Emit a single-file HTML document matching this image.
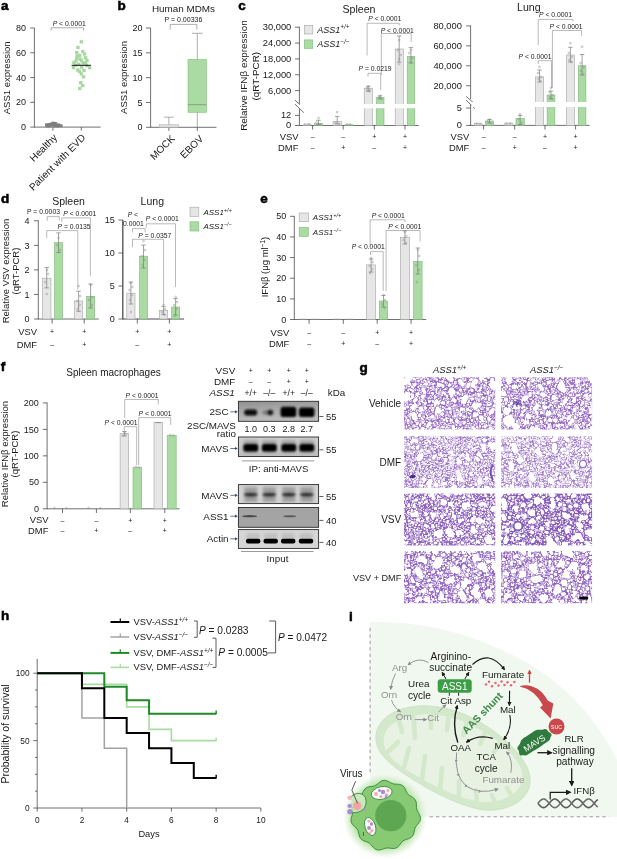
<!DOCTYPE html>
<html><head><meta charset="utf-8"><style>
html,body{margin:0;padding:0;background:#fff;}
svg{display:block;font-family:"Liberation Sans", Arial, sans-serif;}
</style></head><body>
<svg width="617" height="859" viewBox="0 0 617 859">
<rect width="617" height="859" fill="#fff"/>
<text x="1.0" y="9.7" font-size="13.5" font-weight="bold" fill="#000" stroke="#000" stroke-width="0.55">a</text>
<line x1="34.4" y1="27.8" x2="34.4" y2="127.6" stroke="#4d4d4d" stroke-width="0.8" />
<line x1="30.2" y1="127.1" x2="34.4" y2="127.1" stroke="#4d4d4d" stroke-width="0.8" />
<text x="26" y="130.25" font-size="9" text-anchor="end" font-weight="normal" font-style="normal" fill="#1a1a1a" >0</text>
<line x1="30.2" y1="102.32" x2="34.4" y2="102.32" stroke="#4d4d4d" stroke-width="0.8" />
<text x="26" y="105.47" font-size="9" text-anchor="end" font-weight="normal" font-style="normal" fill="#1a1a1a" >20</text>
<line x1="30.2" y1="77.55" x2="34.4" y2="77.55" stroke="#4d4d4d" stroke-width="0.8" />
<text x="26" y="80.7" font-size="9" text-anchor="end" font-weight="normal" font-style="normal" fill="#1a1a1a" >40</text>
<line x1="30.2" y1="52.77" x2="34.4" y2="52.77" stroke="#4d4d4d" stroke-width="0.8" />
<text x="26" y="55.92" font-size="9" text-anchor="end" font-weight="normal" font-style="normal" fill="#1a1a1a" >60</text>
<line x1="30.2" y1="28" x2="34.4" y2="28" stroke="#4d4d4d" stroke-width="0.8" />
<text x="26" y="31.15" font-size="9" text-anchor="end" font-weight="normal" font-style="normal" fill="#1a1a1a" >80</text>
<line x1="34.4" y1="127.1" x2="100.7" y2="127.1" stroke="#4d4d4d" stroke-width="0.8" />
<line x1="52.9" y1="127.1" x2="52.9" y2="130.6" stroke="#4d4d4d" stroke-width="0.8" />
<line x1="81.3" y1="127.1" x2="81.3" y2="130.6" stroke="#4d4d4d" stroke-width="0.8" />
<text transform="translate(6.2,77.8) rotate(-90)" x="0" y="3.32" font-size="9.5" text-anchor="middle" font-weight="normal" font-style="normal" fill="#1a1a1a" >ASS1 expression</text>
<text transform="translate(57.8,138.2) rotate(-45)" font-size="10" text-anchor="end" fill="#1a1a1a">Healthy</text>
<text transform="translate(86.2,138.2) rotate(-45)" font-size="10" text-anchor="end" fill="#1a1a1a">Patient with EVD</text>
<rect x="51.87" y="122.75" width="2.6" height="2.6" fill="#7e7e7e" stroke="none" stroke-width="0.6" />
<rect x="53.65" y="122.32" width="2.6" height="2.6" fill="#7e7e7e" stroke="none" stroke-width="0.6" />
<rect x="55.59" y="124.69" width="2.6" height="2.6" fill="#7e7e7e" stroke="none" stroke-width="0.6" />
<rect x="53.43" y="124.28" width="2.6" height="2.6" fill="#7e7e7e" stroke="none" stroke-width="0.6" />
<rect x="51.98" y="123.27" width="2.6" height="2.6" fill="#7e7e7e" stroke="none" stroke-width="0.6" />
<rect x="48.74" y="122.9" width="2.6" height="2.6" fill="#7e7e7e" stroke="none" stroke-width="0.6" />
<rect x="52.63" y="122.28" width="2.6" height="2.6" fill="#7e7e7e" stroke="none" stroke-width="0.6" />
<rect x="53.46" y="124.67" width="2.6" height="2.6" fill="#7e7e7e" stroke="none" stroke-width="0.6" />
<rect x="55.32" y="124.38" width="2.6" height="2.6" fill="#7e7e7e" stroke="none" stroke-width="0.6" />
<rect x="45" y="123.51" width="2.6" height="2.6" fill="#7e7e7e" stroke="none" stroke-width="0.6" />
<rect x="49.53" y="124.1" width="2.6" height="2.6" fill="#7e7e7e" stroke="none" stroke-width="0.6" />
<rect x="57.19" y="124.6" width="2.6" height="2.6" fill="#7e7e7e" stroke="none" stroke-width="0.6" />
<rect x="53" y="123.63" width="2.6" height="2.6" fill="#7e7e7e" stroke="none" stroke-width="0.6" />
<rect x="50.48" y="123.83" width="2.6" height="2.6" fill="#7e7e7e" stroke="none" stroke-width="0.6" />
<rect x="49.07" y="123.39" width="2.6" height="2.6" fill="#7e7e7e" stroke="none" stroke-width="0.6" />
<rect x="51.6" y="121.65" width="2.6" height="2.6" fill="#7e7e7e" stroke="none" stroke-width="0.6" />
<rect x="59.41" y="124.25" width="2.6" height="2.6" fill="#7e7e7e" stroke="none" stroke-width="0.6" />
<rect x="48.34" y="123.04" width="2.6" height="2.6" fill="#7e7e7e" stroke="none" stroke-width="0.6" />
<rect x="56.3" y="124.63" width="2.6" height="2.6" fill="#7e7e7e" stroke="none" stroke-width="0.6" />
<rect x="48.73" y="124.48" width="2.6" height="2.6" fill="#7e7e7e" stroke="none" stroke-width="0.6" />
<rect x="47.36" y="123.94" width="2.6" height="2.6" fill="#7e7e7e" stroke="none" stroke-width="0.6" />
<rect x="51.47" y="122.89" width="2.6" height="2.6" fill="#7e7e7e" stroke="none" stroke-width="0.6" />
<rect x="53.6" y="124.32" width="2.6" height="2.6" fill="#7e7e7e" stroke="none" stroke-width="0.6" />
<rect x="54.74" y="122.27" width="2.6" height="2.6" fill="#7e7e7e" stroke="none" stroke-width="0.6" />
<rect x="57.35" y="123.45" width="2.6" height="2.6" fill="#7e7e7e" stroke="none" stroke-width="0.6" />
<rect x="53.39" y="123.45" width="2.6" height="2.6" fill="#7e7e7e" stroke="none" stroke-width="0.6" />
<rect x="47.91" y="124.89" width="2.6" height="2.6" fill="#7e7e7e" stroke="none" stroke-width="0.6" />
<rect x="52.39" y="122.16" width="2.6" height="2.6" fill="#7e7e7e" stroke="none" stroke-width="0.6" />
<rect x="49.29" y="123.83" width="2.6" height="2.6" fill="#7e7e7e" stroke="none" stroke-width="0.6" />
<rect x="53.17" y="122.59" width="2.6" height="2.6" fill="#7e7e7e" stroke="none" stroke-width="0.6" />
<rect x="47.4" y="123.27" width="2.6" height="2.6" fill="#7e7e7e" stroke="none" stroke-width="0.6" />
<rect x="57.18" y="123.99" width="2.6" height="2.6" fill="#7e7e7e" stroke="none" stroke-width="0.6" />
<rect x="53.3" y="121.94" width="2.6" height="2.6" fill="#7e7e7e" stroke="none" stroke-width="0.6" />
<rect x="50.6" y="122.36" width="2.6" height="2.6" fill="#7e7e7e" stroke="none" stroke-width="0.6" />
<rect x="52.25" y="122.27" width="2.6" height="2.6" fill="#7e7e7e" stroke="none" stroke-width="0.6" />
<rect x="45.92" y="123.57" width="2.6" height="2.6" fill="#7e7e7e" stroke="none" stroke-width="0.6" />
<rect x="53.75" y="122" width="2.6" height="2.6" fill="#7e7e7e" stroke="none" stroke-width="0.6" />
<rect x="55.88" y="124.16" width="2.6" height="2.6" fill="#7e7e7e" stroke="none" stroke-width="0.6" />
<rect x="59.99" y="124.56" width="2.6" height="2.6" fill="#7e7e7e" stroke="none" stroke-width="0.6" />
<rect x="45.34" y="124.83" width="2.6" height="2.6" fill="#7e7e7e" stroke="none" stroke-width="0.6" />
<rect x="79.65" y="40.15" width="3.3" height="3.3" fill="#a6d8a0" stroke="none" stroke-width="0.6" />
<rect x="75.15" y="50.85" width="3.3" height="3.3" fill="#a6d8a0" stroke="none" stroke-width="0.6" />
<rect x="81.05" y="49.85" width="3.3" height="3.3" fill="#a6d8a0" stroke="none" stroke-width="0.6" />
<rect x="78.05" y="53.75" width="3.3" height="3.3" fill="#a6d8a0" stroke="none" stroke-width="0.6" />
<rect x="83.95" y="56.15" width="3.3" height="3.3" fill="#a6d8a0" stroke="none" stroke-width="0.6" />
<rect x="75.15" y="56.65" width="3.3" height="3.3" fill="#a6d8a0" stroke="none" stroke-width="0.6" />
<rect x="79.65" y="58.65" width="3.3" height="3.3" fill="#a6d8a0" stroke="none" stroke-width="0.6" />
<rect x="72.25" y="60.95" width="3.3" height="3.3" fill="#a6d8a0" stroke="none" stroke-width="0.6" />
<rect x="83.95" y="61.55" width="3.3" height="3.3" fill="#a6d8a0" stroke="none" stroke-width="0.6" />
<rect x="77.15" y="62.55" width="3.3" height="3.3" fill="#a6d8a0" stroke="none" stroke-width="0.6" />
<rect x="87.85" y="66.05" width="3.3" height="3.3" fill="#a6d8a0" stroke="none" stroke-width="0.6" />
<rect x="71.85" y="66.05" width="3.3" height="3.3" fill="#a6d8a0" stroke="none" stroke-width="0.6" />
<rect x="80.05" y="65.45" width="3.3" height="3.3" fill="#a6d8a0" stroke="none" stroke-width="0.6" />
<rect x="76.15" y="68.35" width="3.3" height="3.3" fill="#a6d8a0" stroke="none" stroke-width="0.6" />
<rect x="79.65" y="72.25" width="3.3" height="3.3" fill="#a6d8a0" stroke="none" stroke-width="0.6" />
<rect x="81.95" y="75.15" width="3.3" height="3.3" fill="#a6d8a0" stroke="none" stroke-width="0.6" />
<rect x="79.05" y="81.05" width="3.3" height="3.3" fill="#a6d8a0" stroke="none" stroke-width="0.6" />
<rect x="81.05" y="83.95" width="3.3" height="3.3" fill="#a6d8a0" stroke="none" stroke-width="0.6" />
<rect x="78.05" y="86.85" width="3.3" height="3.3" fill="#a6d8a0" stroke="none" stroke-width="0.6" />
<rect x="84.85" y="63.85" width="3.3" height="3.3" fill="#a6d8a0" stroke="none" stroke-width="0.6" />
<rect x="73.85" y="63.55" width="3.3" height="3.3" fill="#a6d8a0" stroke="none" stroke-width="0.6" />
<rect x="82.35" y="68.85" width="3.3" height="3.3" fill="#a6d8a0" stroke="none" stroke-width="0.6" />
<rect x="78.35" y="57.35" width="3.3" height="3.3" fill="#a6d8a0" stroke="none" stroke-width="0.6" />
<rect x="76.35" y="45.85" width="3.3" height="3.3" fill="#a6d8a0" stroke="none" stroke-width="0.6" />
<rect x="82.85" y="52.35" width="3.3" height="3.3" fill="#a6d8a0" stroke="none" stroke-width="0.6" />
<rect x="74.35" y="59.35" width="3.3" height="3.3" fill="#a6d8a0" stroke="none" stroke-width="0.6" />
<rect x="85.35" y="58.85" width="3.3" height="3.3" fill="#a6d8a0" stroke="none" stroke-width="0.6" />
<rect x="77.85" y="69.85" width="3.3" height="3.3" fill="#a6d8a0" stroke="none" stroke-width="0.6" />
<rect x="81.35" y="61.35" width="3.3" height="3.3" fill="#a6d8a0" stroke="none" stroke-width="0.6" />
<rect x="75.35" y="54.35" width="3.3" height="3.3" fill="#a6d8a0" stroke="none" stroke-width="0.6" />
<line x1="71.6" y1="65.3" x2="91" y2="65.3" stroke="#111" stroke-width="1" />
<polyline points="51.2,30.6 51.2,27.8 83.6,27.8 83.6,30.6" stroke="#8c8c8c" stroke-width="0.7" fill="none" />
<text x="69.2" y="25.78" font-size="6.8" text-anchor="middle" font-weight="normal" font-style="normal" fill="#1a1a1a" ><tspan font-style="italic">P</tspan> &lt; 0.0001</text>
<text x="117.4" y="10" font-size="13.5" font-weight="bold" fill="#000" stroke="#000" stroke-width="0.55">b</text>
<text x="183.5" y="12.06" font-size="9.9" text-anchor="middle" font-weight="normal" font-style="normal" fill="#1a1a1a" >Human MDMs</text>
<line x1="150.6" y1="28" x2="150.6" y2="127.6" stroke="#4d4d4d" stroke-width="0.8" />
<line x1="146" y1="127.3" x2="150.6" y2="127.3" stroke="#4d4d4d" stroke-width="0.8" />
<text x="142.4" y="130.45" font-size="9" text-anchor="end" font-weight="normal" font-style="normal" fill="#1a1a1a" >0</text>
<line x1="146" y1="102.47" x2="150.6" y2="102.47" stroke="#4d4d4d" stroke-width="0.8" />
<text x="142.4" y="105.62" font-size="9" text-anchor="end" font-weight="normal" font-style="normal" fill="#1a1a1a" >5</text>
<line x1="146" y1="77.65" x2="150.6" y2="77.65" stroke="#4d4d4d" stroke-width="0.8" />
<text x="142.4" y="80.8" font-size="9" text-anchor="end" font-weight="normal" font-style="normal" fill="#1a1a1a" >10</text>
<line x1="146" y1="52.83" x2="150.6" y2="52.83" stroke="#4d4d4d" stroke-width="0.8" />
<text x="142.4" y="55.98" font-size="9" text-anchor="end" font-weight="normal" font-style="normal" fill="#1a1a1a" >15</text>
<line x1="146" y1="28" x2="150.6" y2="28" stroke="#4d4d4d" stroke-width="0.8" />
<text x="142.4" y="31.15" font-size="9" text-anchor="end" font-weight="normal" font-style="normal" fill="#1a1a1a" >20</text>
<line x1="150.6" y1="127.3" x2="216.5" y2="127.3" stroke="#4d4d4d" stroke-width="0.8" />
<line x1="168.9" y1="127.3" x2="168.9" y2="130.8" stroke="#4d4d4d" stroke-width="0.8" />
<line x1="197.3" y1="127.3" x2="197.3" y2="130.8" stroke="#4d4d4d" stroke-width="0.8" />
<text transform="translate(123.4,77.5) rotate(-90)" x="0" y="3.32" font-size="9.5" text-anchor="middle" font-weight="normal" font-style="normal" fill="#1a1a1a" >ASS1 expression</text>
<text transform="translate(175.4,139.3) rotate(-45)" font-size="10" text-anchor="end" fill="#1a1a1a">MOCK</text>
<text transform="translate(204,139.3) rotate(-45)" font-size="10" text-anchor="end" fill="#1a1a1a">EBOV</text>
<line x1="197.3" y1="33.3" x2="197.3" y2="127.3" stroke="#9a9a9a" stroke-width="0.8" />
<line x1="192" y1="33.3" x2="202.6" y2="33.3" stroke="#9a9a9a" stroke-width="0.8" />
<rect x="188" y="59.4" width="18.4" height="52.9" fill="#a9dba3" stroke="#86bd80" stroke-width="0.6" />
<line x1="188" y1="104.7" x2="206.4" y2="104.7" stroke="#7fa57a" stroke-width="1" />
<line x1="168.9" y1="117.2" x2="168.9" y2="127.3" stroke="#9a9a9a" stroke-width="0.8" />
<line x1="164" y1="117.2" x2="173.8" y2="117.2" stroke="#9a9a9a" stroke-width="0.8" />
<rect x="159.4" y="124.7" width="19" height="2.6" fill="#dcdcdc" stroke="#b0b0b0" stroke-width="0.5" />
<polyline points="170.2,29.6 170.2,24.4 196.9,24.4 196.9,29.6" stroke="#8c8c8c" stroke-width="0.7" fill="none" />
<text x="183.4" y="21.95" font-size="7" text-anchor="middle" font-weight="normal" font-style="normal" fill="#1a1a1a" >P = 0.00336</text>
<text x="238.3" y="9.8" font-size="13.5" font-weight="bold" fill="#000" stroke="#000" stroke-width="0.55">c</text>
<text x="359" y="13.11" font-size="10.6" text-anchor="middle" font-weight="normal" font-style="normal" fill="#1a1a1a" >Spleen</text>
<text x="528.8" y="11.31" font-size="10.6" text-anchor="middle" font-weight="normal" font-style="normal" fill="#1a1a1a" >Lung</text>
<text transform="translate(243.3,75.6) rotate(-90)" x="0" y="3.46" font-size="9.9" text-anchor="middle" font-weight="normal" font-style="normal" fill="#1a1a1a" >Relative IFNβ expression</text>
<text transform="translate(255.2,76.2) rotate(-90)" x="0" y="3.46" font-size="9.9" text-anchor="middle" font-weight="normal" font-style="normal" fill="#1a1a1a" >(qRT-PCR)</text>
<line x1="299.4" y1="26.8" x2="299.4" y2="103.8" stroke="#4d4d4d" stroke-width="0.8" />
<line x1="299.4" y1="108.7" x2="299.4" y2="125.9" stroke="#4d4d4d" stroke-width="0.8" />
<line x1="295" y1="100.2" x2="303.8" y2="108" stroke="#4d4d4d" stroke-width="0.8" />
<line x1="295" y1="104.1" x2="303.8" y2="112.6" stroke="#4d4d4d" stroke-width="0.8" />
<line x1="295" y1="27.2" x2="299.4" y2="27.2" stroke="#4d4d4d" stroke-width="0.8" />
<text transform="translate(291.3,30.14) scale(1.11,1)" font-size="8.4" text-anchor="end" font-weight="normal" font-style="normal" fill="#1a1a1a" >30,000</text>
<line x1="295" y1="43.05" x2="299.4" y2="43.05" stroke="#4d4d4d" stroke-width="0.8" />
<text transform="translate(291.3,45.99) scale(1.11,1)" font-size="8.4" text-anchor="end" font-weight="normal" font-style="normal" fill="#1a1a1a" >24,000</text>
<line x1="295" y1="58.9" x2="299.4" y2="58.9" stroke="#4d4d4d" stroke-width="0.8" />
<text transform="translate(291.3,61.84) scale(1.11,1)" font-size="8.4" text-anchor="end" font-weight="normal" font-style="normal" fill="#1a1a1a" >18,000</text>
<line x1="295" y1="74.75" x2="299.4" y2="74.75" stroke="#4d4d4d" stroke-width="0.8" />
<text transform="translate(291.3,77.69) scale(1.11,1)" font-size="8.4" text-anchor="end" font-weight="normal" font-style="normal" fill="#1a1a1a" >12,000</text>
<line x1="295" y1="90.6" x2="299.4" y2="90.6" stroke="#4d4d4d" stroke-width="0.8" />
<text transform="translate(291.3,93.54) scale(1.11,1)" font-size="8.4" text-anchor="end" font-weight="normal" font-style="normal" fill="#1a1a1a" >6,000</text>
<line x1="295" y1="115.4" x2="299.4" y2="115.4" stroke="#4d4d4d" stroke-width="0.8" />
<text transform="translate(291.3,118.34) scale(1.11,1)" font-size="8.4" text-anchor="end" font-weight="normal" font-style="normal" fill="#1a1a1a" >12</text>
<line x1="295" y1="125.5" x2="299.4" y2="125.5" stroke="#4d4d4d" stroke-width="0.8" />
<text transform="translate(291.3,128.44) scale(1.11,1)" font-size="8.4" text-anchor="end" font-weight="normal" font-style="normal" fill="#1a1a1a" >0</text>
<line x1="299.4" y1="125.5" x2="418.6" y2="125.5" stroke="#4d4d4d" stroke-width="0.8" />
<line x1="312.6" y1="125.5" x2="312.6" y2="129.6" stroke="#4d4d4d" stroke-width="0.8" />
<line x1="343.2" y1="125.5" x2="343.2" y2="129.6" stroke="#4d4d4d" stroke-width="0.8" />
<line x1="374.3" y1="125.5" x2="374.3" y2="129.6" stroke="#4d4d4d" stroke-width="0.8" />
<line x1="405" y1="125.5" x2="405" y2="129.6" stroke="#4d4d4d" stroke-width="0.8" />
<rect x="303.2" y="124.9" width="7.4" height="0.6" fill="#e6e6e6" stroke="#a6a6a6" stroke-width="0.6" />
<rect x="314.5" y="123.6" width="8.1" height="1.9" fill="#a9dba3" stroke="#7fba79" stroke-width="0.6" />
<line x1="318.5" y1="120.3" x2="318.5" y2="124.5" stroke="#7a7a7a" stroke-width="0.7" />
<line x1="316.3" y1="120.3" x2="320.7" y2="120.3" stroke="#7a7a7a" stroke-width="0.7" />
<line x1="316.3" y1="124.5" x2="320.7" y2="124.5" stroke="#7a7a7a" stroke-width="0.7" />
<circle cx="318.5" cy="118.1" r="0.9" fill="none" stroke="#909090" stroke-width="0.5"/>
<circle cx="316.5" cy="122.5" r="0.9" fill="none" stroke="#909090" stroke-width="0.5"/>
<circle cx="320.5" cy="124.2" r="0.9" fill="none" stroke="#909090" stroke-width="0.5"/>
<circle cx="305" cy="124.3" r="0.9" fill="none" stroke="#909090" stroke-width="0.5"/>
<circle cx="308" cy="124.3" r="0.9" fill="none" stroke="#909090" stroke-width="0.5"/>
<circle cx="310" cy="124.3" r="0.9" fill="none" stroke="#909090" stroke-width="0.5"/>
<rect x="333.1" y="121.3" width="8.3" height="4.2" fill="#e6e6e6" stroke="#a6a6a6" stroke-width="0.6" />
<rect x="345.1" y="124.7" width="7.9" height="0.8" fill="#a9dba3" stroke="#7fba79" stroke-width="0.6" />
<line x1="337.2" y1="116.4" x2="337.2" y2="124" stroke="#7a7a7a" stroke-width="0.7" />
<line x1="335" y1="116.4" x2="339.4" y2="116.4" stroke="#7a7a7a" stroke-width="0.7" />
<line x1="335" y1="124" x2="339.4" y2="124" stroke="#7a7a7a" stroke-width="0.7" />
<circle cx="337.2" cy="112.1" r="0.9" fill="none" stroke="#909090" stroke-width="0.5"/>
<circle cx="335.2" cy="122.6" r="0.9" fill="none" stroke="#909090" stroke-width="0.5"/>
<circle cx="339.2" cy="123.8" r="0.9" fill="none" stroke="#909090" stroke-width="0.5"/>
<circle cx="347" cy="124.5" r="0.9" fill="none" stroke="#909090" stroke-width="0.5"/>
<circle cx="350" cy="124.5" r="0.9" fill="none" stroke="#909090" stroke-width="0.5"/>
<rect x="364.2" y="88.2" width="8.3" height="37.3" fill="#e6e6e6" stroke="#a6a6a6" stroke-width="0.6" />
<rect x="376.2" y="97.5" width="7.8" height="28" fill="#a9dba3" stroke="#7fba79" stroke-width="0.6" />
<line x1="368.3" y1="86.2" x2="368.3" y2="91.2" stroke="#7a7a7a" stroke-width="0.7" />
<line x1="366.1" y1="86.2" x2="370.5" y2="86.2" stroke="#7a7a7a" stroke-width="0.7" />
<line x1="366.1" y1="91.2" x2="370.5" y2="91.2" stroke="#7a7a7a" stroke-width="0.7" />
<circle cx="368.3" cy="86.5" r="0.9" fill="none" stroke="#909090" stroke-width="0.5"/>
<circle cx="366.8" cy="88" r="0.9" fill="none" stroke="#909090" stroke-width="0.5"/>
<circle cx="369.8" cy="89.5" r="0.9" fill="none" stroke="#909090" stroke-width="0.5"/>
<circle cx="367.3" cy="90.5" r="0.9" fill="none" stroke="#909090" stroke-width="0.5"/>
<circle cx="369.3" cy="91.2" r="0.9" fill="none" stroke="#909090" stroke-width="0.5"/>
<line x1="380.1" y1="95.8" x2="380.1" y2="99" stroke="#7a7a7a" stroke-width="0.7" />
<line x1="377.9" y1="95.8" x2="382.3" y2="95.8" stroke="#7a7a7a" stroke-width="0.7" />
<line x1="377.9" y1="99" x2="382.3" y2="99" stroke="#7a7a7a" stroke-width="0.7" />
<circle cx="380.1" cy="96" r="0.9" fill="none" stroke="#909090" stroke-width="0.5"/>
<circle cx="378.6" cy="97.5" r="0.9" fill="none" stroke="#909090" stroke-width="0.5"/>
<circle cx="381.6" cy="98.5" r="0.9" fill="none" stroke="#909090" stroke-width="0.5"/>
<rect x="395.2" y="49" width="8.1" height="76.5" fill="#e6e6e6" stroke="#a6a6a6" stroke-width="0.6" />
<rect x="407.2" y="56.4" width="7.5" height="69.1" fill="#a9dba3" stroke="#7fba79" stroke-width="0.6" />
<line x1="399.2" y1="36" x2="399.2" y2="62" stroke="#7a7a7a" stroke-width="0.7" />
<line x1="397" y1="36" x2="401.4" y2="36" stroke="#7a7a7a" stroke-width="0.7" />
<line x1="397" y1="62" x2="401.4" y2="62" stroke="#7a7a7a" stroke-width="0.7" />
<circle cx="399.2" cy="40" r="0.9" fill="none" stroke="#909090" stroke-width="0.5"/>
<circle cx="397.7" cy="50" r="0.9" fill="none" stroke="#909090" stroke-width="0.5"/>
<circle cx="400.7" cy="55" r="0.9" fill="none" stroke="#909090" stroke-width="0.5"/>
<circle cx="399.2" cy="59" r="0.9" fill="none" stroke="#909090" stroke-width="0.5"/>
<circle cx="399.2" cy="64" r="0.9" fill="none" stroke="#909090" stroke-width="0.5"/>
<line x1="410.9" y1="47.6" x2="410.9" y2="63" stroke="#7a7a7a" stroke-width="0.7" />
<line x1="408.7" y1="47.6" x2="413.1" y2="47.6" stroke="#7a7a7a" stroke-width="0.7" />
<line x1="408.7" y1="63" x2="413.1" y2="63" stroke="#7a7a7a" stroke-width="0.7" />
<circle cx="410.9" cy="50" r="0.9" fill="none" stroke="#909090" stroke-width="0.5"/>
<circle cx="409.4" cy="53" r="0.9" fill="none" stroke="#909090" stroke-width="0.5"/>
<circle cx="412.4" cy="58" r="0.9" fill="none" stroke="#909090" stroke-width="0.5"/>
<circle cx="410.9" cy="62" r="0.9" fill="none" stroke="#909090" stroke-width="0.5"/>
<rect x="300" y="104" width="120" height="4.2" fill="#fff" stroke="none" stroke-width="0.6" />
<rect x="304.3" y="25.3" width="8.5" height="8.7" fill="#e6e6e6" stroke="#a6a6a6" stroke-width="0.6" />
<rect x="304.3" y="39.9" width="8.5" height="8.5" fill="#a9dba3" stroke="#7fba79" stroke-width="0.6" />
<text x="317.3" y="32.65" font-size="9" text-anchor="start" font-weight="normal" font-style="normal" fill="#1a1a1a" ><tspan font-style="italic">ASS1</tspan><tspan font-style="italic" dy="-3.2" font-size="6.3">+/+</tspan></text>
<text x="317.3" y="47.35" font-size="9" text-anchor="start" font-weight="normal" font-style="normal" fill="#1a1a1a" ><tspan font-style="italic">ASS1</tspan><tspan font-style="italic" dy="-3.2" font-size="6.3">−/−</tspan></text>
<text x="384.8" y="21.18" font-size="6.8" text-anchor="middle" font-weight="normal" font-style="normal" fill="#1a1a1a" ><tspan font-style="italic">P</tspan> &lt; 0.0001</text>
<polyline points="367.1,55.4 367.1,23.3 399.2,23.3 399.2,25.5" stroke="#8c8c8c" stroke-width="0.6" fill="none" />
<text x="397.2" y="32.58" font-size="6.8" text-anchor="middle" font-weight="normal" font-style="normal" fill="#1a1a1a" ><tspan font-style="italic">P</tspan> &lt; 0.0001</text>
<polyline points="381.3,75 381.3,33.5 411.2,33.5 411.2,41.8" stroke="#8c8c8c" stroke-width="0.6" fill="none" />
<text x="375.1" y="71.28" font-size="6.8" text-anchor="middle" font-weight="normal" font-style="normal" fill="#1a1a1a" ><tspan font-style="italic">P</tspan> = 0.0219</text>
<polyline points="368,76.5 368,73.3 380.7,73.3 380.7,90.1" stroke="#8c8c8c" stroke-width="0.6" fill="none" />
<line x1="470.6" y1="25.5" x2="470.6" y2="99" stroke="#4d4d4d" stroke-width="0.8" />
<line x1="470.6" y1="104.5" x2="470.6" y2="125.9" stroke="#4d4d4d" stroke-width="0.8" />
<line x1="466.2" y1="96.3" x2="475" y2="104.1" stroke="#4d4d4d" stroke-width="0.8" />
<line x1="466.2" y1="100.2" x2="475" y2="108.7" stroke="#4d4d4d" stroke-width="0.8" />
<line x1="466.2" y1="25.9" x2="470.6" y2="25.9" stroke="#4d4d4d" stroke-width="0.8" />
<text transform="translate(461.9,28.84) scale(1.11,1)" font-size="8.4" text-anchor="end" font-weight="normal" font-style="normal" fill="#1a1a1a" >80,000</text>
<line x1="466.2" y1="45.85" x2="470.6" y2="45.85" stroke="#4d4d4d" stroke-width="0.8" />
<text transform="translate(461.9,48.79) scale(1.11,1)" font-size="8.4" text-anchor="end" font-weight="normal" font-style="normal" fill="#1a1a1a" >60,000</text>
<line x1="466.2" y1="65.8" x2="470.6" y2="65.8" stroke="#4d4d4d" stroke-width="0.8" />
<text transform="translate(461.9,68.74) scale(1.11,1)" font-size="8.4" text-anchor="end" font-weight="normal" font-style="normal" fill="#1a1a1a" >40,000</text>
<line x1="466.2" y1="85.75" x2="470.6" y2="85.75" stroke="#4d4d4d" stroke-width="0.8" />
<text transform="translate(461.9,88.69) scale(1.11,1)" font-size="8.4" text-anchor="end" font-weight="normal" font-style="normal" fill="#1a1a1a" >20,000</text>
<line x1="466.2" y1="108" x2="470.6" y2="108" stroke="#4d4d4d" stroke-width="0.8" />
<text transform="translate(461.9,110.94) scale(1.11,1)" font-size="8.4" text-anchor="end" font-weight="normal" font-style="normal" fill="#1a1a1a" >5</text>
<line x1="466.2" y1="125.4" x2="470.6" y2="125.4" stroke="#4d4d4d" stroke-width="0.8" />
<text transform="translate(461.9,128.34) scale(1.11,1)" font-size="8.4" text-anchor="end" font-weight="normal" font-style="normal" fill="#1a1a1a" >0</text>
<line x1="470.6" y1="125.4" x2="589.6" y2="125.4" stroke="#4d4d4d" stroke-width="0.8" />
<line x1="483.6" y1="125.4" x2="483.6" y2="129.5" stroke="#4d4d4d" stroke-width="0.8" />
<line x1="514.7" y1="125.4" x2="514.7" y2="129.5" stroke="#4d4d4d" stroke-width="0.8" />
<line x1="545" y1="125.4" x2="545" y2="129.5" stroke="#4d4d4d" stroke-width="0.8" />
<line x1="575.6" y1="125.4" x2="575.6" y2="129.5" stroke="#4d4d4d" stroke-width="0.8" />
<rect x="474.5" y="123.6" width="7.5" height="1.8" fill="#e6e6e6" stroke="#a6a6a6" stroke-width="0.6" />
<rect x="485.4" y="121" width="8.3" height="4.4" fill="#a9dba3" stroke="#7fba79" stroke-width="0.6" />
<circle cx="476.7" cy="123.5" r="0.9" fill="none" stroke="#909090" stroke-width="0.5"/>
<circle cx="479.7" cy="124" r="0.9" fill="none" stroke="#909090" stroke-width="0.5"/>
<line x1="489.5" y1="119.5" x2="489.5" y2="123" stroke="#7a7a7a" stroke-width="0.7" />
<line x1="487.3" y1="119.5" x2="491.7" y2="119.5" stroke="#7a7a7a" stroke-width="0.7" />
<line x1="487.3" y1="123" x2="491.7" y2="123" stroke="#7a7a7a" stroke-width="0.7" />
<circle cx="489.5" cy="119.5" r="0.9" fill="none" stroke="#909090" stroke-width="0.5"/>
<circle cx="487.5" cy="121.5" r="0.9" fill="none" stroke="#909090" stroke-width="0.5"/>
<circle cx="491.5" cy="123.5" r="0.9" fill="none" stroke="#909090" stroke-width="0.5"/>
<rect x="504.8" y="123" width="7.8" height="2.4" fill="#e6e6e6" stroke="#a6a6a6" stroke-width="0.6" />
<rect x="516" y="118.4" width="8.3" height="7" fill="#a9dba3" stroke="#7fba79" stroke-width="0.6" />
<circle cx="506.7" cy="123.8" r="0.9" fill="none" stroke="#909090" stroke-width="0.5"/>
<circle cx="510.2" cy="123.8" r="0.9" fill="none" stroke="#909090" stroke-width="0.5"/>
<line x1="520.1" y1="115.5" x2="520.1" y2="124.5" stroke="#7a7a7a" stroke-width="0.7" />
<line x1="517.9" y1="115.5" x2="522.3" y2="115.5" stroke="#7a7a7a" stroke-width="0.7" />
<line x1="517.9" y1="124.5" x2="522.3" y2="124.5" stroke="#7a7a7a" stroke-width="0.7" />
<circle cx="520.1" cy="114.3" r="0.9" fill="none" stroke="#909090" stroke-width="0.5"/>
<circle cx="518.6" cy="119" r="0.9" fill="none" stroke="#909090" stroke-width="0.5"/>
<circle cx="521.6" cy="122.8" r="0.9" fill="none" stroke="#909090" stroke-width="0.5"/>
<rect x="535.4" y="76.9" width="8.3" height="48.5" fill="#e6e6e6" stroke="#a6a6a6" stroke-width="0.6" />
<rect x="547.1" y="95" width="7.8" height="30.4" fill="#a9dba3" stroke="#7fba79" stroke-width="0.6" />
<line x1="539.5" y1="70" x2="539.5" y2="82" stroke="#7a7a7a" stroke-width="0.7" />
<line x1="537.3" y1="70" x2="541.7" y2="70" stroke="#7a7a7a" stroke-width="0.7" />
<line x1="537.3" y1="82" x2="541.7" y2="82" stroke="#7a7a7a" stroke-width="0.7" />
<circle cx="539.5" cy="67" r="0.9" fill="none" stroke="#909090" stroke-width="0.5"/>
<circle cx="538" cy="73" r="0.9" fill="none" stroke="#909090" stroke-width="0.5"/>
<circle cx="541" cy="77" r="0.9" fill="none" stroke="#909090" stroke-width="0.5"/>
<circle cx="538.5" cy="79" r="0.9" fill="none" stroke="#909090" stroke-width="0.5"/>
<circle cx="540.5" cy="81" r="0.9" fill="none" stroke="#909090" stroke-width="0.5"/>
<line x1="551" y1="91" x2="551" y2="99" stroke="#7a7a7a" stroke-width="0.7" />
<line x1="548.8" y1="91" x2="553.2" y2="91" stroke="#7a7a7a" stroke-width="0.7" />
<line x1="548.8" y1="99" x2="553.2" y2="99" stroke="#7a7a7a" stroke-width="0.7" />
<circle cx="551" cy="88" r="0.9" fill="none" stroke="#909090" stroke-width="0.5"/>
<circle cx="549.5" cy="92" r="0.9" fill="none" stroke="#909090" stroke-width="0.5"/>
<circle cx="552.5" cy="95" r="0.9" fill="none" stroke="#909090" stroke-width="0.5"/>
<circle cx="550" cy="97" r="0.9" fill="none" stroke="#909090" stroke-width="0.5"/>
<circle cx="552" cy="98.5" r="0.9" fill="none" stroke="#909090" stroke-width="0.5"/>
<rect x="566.4" y="55" width="8" height="70.4" fill="#e6e6e6" stroke="#a6a6a6" stroke-width="0.6" />
<rect x="578.3" y="65.7" width="7.6" height="59.7" fill="#a9dba3" stroke="#7fba79" stroke-width="0.6" />
<line x1="570.4" y1="47.3" x2="570.4" y2="62" stroke="#7a7a7a" stroke-width="0.7" />
<line x1="568.2" y1="47.3" x2="572.6" y2="47.3" stroke="#7a7a7a" stroke-width="0.7" />
<line x1="568.2" y1="62" x2="572.6" y2="62" stroke="#7a7a7a" stroke-width="0.7" />
<circle cx="570.4" cy="43.2" r="0.9" fill="none" stroke="#909090" stroke-width="0.5"/>
<circle cx="568.9" cy="53" r="0.9" fill="none" stroke="#909090" stroke-width="0.5"/>
<circle cx="571.9" cy="57" r="0.9" fill="none" stroke="#909090" stroke-width="0.5"/>
<circle cx="569.4" cy="60" r="0.9" fill="none" stroke="#909090" stroke-width="0.5"/>
<circle cx="571.4" cy="62" r="0.9" fill="none" stroke="#909090" stroke-width="0.5"/>
<line x1="582.1" y1="54.5" x2="582.1" y2="75" stroke="#7a7a7a" stroke-width="0.7" />
<line x1="579.9" y1="54.5" x2="584.3" y2="54.5" stroke="#7a7a7a" stroke-width="0.7" />
<line x1="579.9" y1="75" x2="584.3" y2="75" stroke="#7a7a7a" stroke-width="0.7" />
<circle cx="582.1" cy="46.7" r="0.9" fill="none" stroke="#909090" stroke-width="0.5"/>
<circle cx="580.6" cy="63" r="0.9" fill="none" stroke="#909090" stroke-width="0.5"/>
<circle cx="583.6" cy="67" r="0.9" fill="none" stroke="#909090" stroke-width="0.5"/>
<circle cx="581.1" cy="71" r="0.9" fill="none" stroke="#909090" stroke-width="0.5"/>
<circle cx="583.1" cy="74" r="0.9" fill="none" stroke="#909090" stroke-width="0.5"/>
<rect x="471.5" y="102" width="120" height="5" fill="#fff" stroke="none" stroke-width="0.6" />
<text x="555.6" y="16.68" font-size="6.8" text-anchor="middle" font-weight="normal" font-style="normal" fill="#1a1a1a" ><tspan font-style="italic">P</tspan> &lt; 0.0001</text>
<polyline points="538.2,45.1 538.2,19.4 572.8,19.4 572.8,21.4" stroke="#8c8c8c" stroke-width="0.6" fill="none" />
<text x="566" y="28.58" font-size="6.8" text-anchor="middle" font-weight="normal" font-style="normal" fill="#1a1a1a" ><tspan font-style="italic">P</tspan> &lt; 0.0001</text>
<polyline points="552.4,88 552.4,30.5 581.6,30.5 581.6,36" stroke="#8c8c8c" stroke-width="0.6" fill="none" />
<text x="535.1" y="58.88" font-size="6.8" text-anchor="middle" font-weight="normal" font-style="normal" fill="#1a1a1a" ><tspan font-style="italic">P</tspan> &lt; 0.0001</text>
<polyline points="538.2,64.2 538.2,60.7 551.5,60.7 551.5,88" stroke="#8c8c8c" stroke-width="0.6" fill="none" />
<text x="298.4" y="140.29" font-size="9.4" text-anchor="end" font-weight="normal" font-style="normal" fill="#1a1a1a" >VSV</text>
<text x="298.4" y="150.89" font-size="9.4" text-anchor="end" font-weight="normal" font-style="normal" fill="#1a1a1a" >DMF</text>
<text x="312.6" y="139.45" font-size="7" text-anchor="middle" font-weight="normal" font-style="normal" fill="#1a1a1a" >–</text>
<text x="312.6" y="150.05" font-size="7" text-anchor="middle" font-weight="normal" font-style="normal" fill="#1a1a1a" >–</text>
<text x="343.2" y="139.45" font-size="7" text-anchor="middle" font-weight="normal" font-style="normal" fill="#1a1a1a" >–</text>
<text x="343.2" y="150.05" font-size="7" text-anchor="middle" font-weight="normal" font-style="normal" fill="#1a1a1a" >+</text>
<text x="374.3" y="139.45" font-size="7" text-anchor="middle" font-weight="normal" font-style="normal" fill="#1a1a1a" >+</text>
<text x="374.3" y="150.05" font-size="7" text-anchor="middle" font-weight="normal" font-style="normal" fill="#1a1a1a" >–</text>
<text x="405" y="139.45" font-size="7" text-anchor="middle" font-weight="normal" font-style="normal" fill="#1a1a1a" >+</text>
<text x="405" y="150.05" font-size="7" text-anchor="middle" font-weight="normal" font-style="normal" fill="#1a1a1a" >+</text>
<text x="469.3" y="140.29" font-size="9.4" text-anchor="end" font-weight="normal" font-style="normal" fill="#1a1a1a" >VSV</text>
<text x="469.3" y="150.89" font-size="9.4" text-anchor="end" font-weight="normal" font-style="normal" fill="#1a1a1a" >DMF</text>
<text x="483.6" y="139.45" font-size="7" text-anchor="middle" font-weight="normal" font-style="normal" fill="#1a1a1a" >–</text>
<text x="483.6" y="150.05" font-size="7" text-anchor="middle" font-weight="normal" font-style="normal" fill="#1a1a1a" >–</text>
<text x="514.7" y="139.45" font-size="7" text-anchor="middle" font-weight="normal" font-style="normal" fill="#1a1a1a" >–</text>
<text x="514.7" y="150.05" font-size="7" text-anchor="middle" font-weight="normal" font-style="normal" fill="#1a1a1a" >+</text>
<text x="545" y="139.45" font-size="7" text-anchor="middle" font-weight="normal" font-style="normal" fill="#1a1a1a" >+</text>
<text x="545" y="150.05" font-size="7" text-anchor="middle" font-weight="normal" font-style="normal" fill="#1a1a1a" >–</text>
<text x="575.6" y="139.45" font-size="7" text-anchor="middle" font-weight="normal" font-style="normal" fill="#1a1a1a" >+</text>
<text x="575.6" y="150.05" font-size="7" text-anchor="middle" font-weight="normal" font-style="normal" fill="#1a1a1a" >+</text>
<text x="0.9" y="202.6" font-size="13.5" font-weight="bold" fill="#000" stroke="#000" stroke-width="0.55">d</text>
<text x="68.5" y="205.28" font-size="10.5" text-anchor="middle" font-weight="normal" font-style="normal" fill="#1a1a1a" >Spleen</text>
<text x="152.3" y="205.08" font-size="10.5" text-anchor="middle" font-weight="normal" font-style="normal" fill="#1a1a1a" >Lung</text>
<text transform="translate(5.2,271) rotate(-90)" x="0" y="3.32" font-size="9.5" text-anchor="middle" font-weight="normal" font-style="normal" fill="#1a1a1a" >Relative VSV expression</text>
<text transform="translate(15.8,271) rotate(-90)" x="0" y="3.32" font-size="9.5" text-anchor="middle" font-weight="normal" font-style="normal" fill="#1a1a1a" >(qRT-PCR)</text>
<line x1="38.3" y1="220.4" x2="38.3" y2="319.5" stroke="#4d4d4d" stroke-width="0.8" />
<line x1="34" y1="319" x2="38.3" y2="319" stroke="#4d4d4d" stroke-width="0.8" />
<text x="29.6" y="322.15" font-size="9" text-anchor="end" font-weight="normal" font-style="normal" fill="#1a1a1a" >0</text>
<line x1="34" y1="294.45" x2="38.3" y2="294.45" stroke="#4d4d4d" stroke-width="0.8" />
<text x="29.6" y="297.6" font-size="9" text-anchor="end" font-weight="normal" font-style="normal" fill="#1a1a1a" >1</text>
<line x1="34" y1="269.9" x2="38.3" y2="269.9" stroke="#4d4d4d" stroke-width="0.8" />
<text x="29.6" y="273.05" font-size="9" text-anchor="end" font-weight="normal" font-style="normal" fill="#1a1a1a" >2</text>
<line x1="34" y1="245.35" x2="38.3" y2="245.35" stroke="#4d4d4d" stroke-width="0.8" />
<text x="29.6" y="248.5" font-size="9" text-anchor="end" font-weight="normal" font-style="normal" fill="#1a1a1a" >3</text>
<line x1="34" y1="220.8" x2="38.3" y2="220.8" stroke="#4d4d4d" stroke-width="0.8" />
<text x="29.6" y="223.95" font-size="9" text-anchor="end" font-weight="normal" font-style="normal" fill="#1a1a1a" >4</text>
<line x1="38.3" y1="319" x2="98.8" y2="319" stroke="#4d4d4d" stroke-width="0.8" />
<line x1="52.1" y1="319" x2="52.1" y2="323.5" stroke="#4d4d4d" stroke-width="0.8" />
<line x1="84.2" y1="319" x2="84.2" y2="323.5" stroke="#4d4d4d" stroke-width="0.8" />
<rect x="42.4" y="278.2" width="8.6" height="40.8" fill="#e6e6e6" stroke="#a6a6a6" stroke-width="0.6" />
<line x1="46.7" y1="267.5" x2="46.7" y2="287.9" stroke="#7a7a7a" stroke-width="0.7" />
<line x1="44.5" y1="267.5" x2="48.9" y2="267.5" stroke="#7a7a7a" stroke-width="0.7" />
<line x1="44.5" y1="287.9" x2="48.9" y2="287.9" stroke="#7a7a7a" stroke-width="0.7" />
<circle cx="46.7" cy="270" r="0.9" fill="none" stroke="#909090" stroke-width="0.5"/>
<circle cx="48.2" cy="274" r="0.9" fill="none" stroke="#909090" stroke-width="0.5"/>
<circle cx="45.2" cy="282" r="0.9" fill="none" stroke="#909090" stroke-width="0.5"/>
<circle cx="46.7" cy="294" r="0.9" fill="none" stroke="#909090" stroke-width="0.5"/>
<rect x="54.5" y="242.6" width="8.1" height="76.4" fill="#a9dba3" stroke="#7fba79" stroke-width="0.6" />
<line x1="58.5" y1="232.9" x2="58.5" y2="252.5" stroke="#7a7a7a" stroke-width="0.7" />
<line x1="56.3" y1="232.9" x2="60.7" y2="232.9" stroke="#7a7a7a" stroke-width="0.7" />
<line x1="56.3" y1="252.5" x2="60.7" y2="252.5" stroke="#7a7a7a" stroke-width="0.7" />
<circle cx="58.5" cy="238" r="0.9" fill="none" stroke="#909090" stroke-width="0.5"/>
<circle cx="57" cy="245" r="0.9" fill="none" stroke="#909090" stroke-width="0.5"/>
<circle cx="60" cy="250" r="0.9" fill="none" stroke="#909090" stroke-width="0.5"/>
<rect x="74.5" y="301" width="8.2" height="18" fill="#e6e6e6" stroke="#a6a6a6" stroke-width="0.6" />
<line x1="78.6" y1="291.2" x2="78.6" y2="311.3" stroke="#7a7a7a" stroke-width="0.7" />
<line x1="76.4" y1="291.2" x2="80.8" y2="291.2" stroke="#7a7a7a" stroke-width="0.7" />
<line x1="76.4" y1="311.3" x2="80.8" y2="311.3" stroke="#7a7a7a" stroke-width="0.7" />
<circle cx="78.6" cy="286" r="0.9" fill="none" stroke="#909090" stroke-width="0.5"/>
<circle cx="80.1" cy="296" r="0.9" fill="none" stroke="#909090" stroke-width="0.5"/>
<circle cx="77.1" cy="301" r="0.9" fill="none" stroke="#909090" stroke-width="0.5"/>
<circle cx="79.6" cy="305" r="0.9" fill="none" stroke="#909090" stroke-width="0.5"/>
<circle cx="77.6" cy="309" r="0.9" fill="none" stroke="#909090" stroke-width="0.5"/>
<rect x="86.5" y="296.3" width="8.2" height="22.7" fill="#a9dba3" stroke="#7fba79" stroke-width="0.6" />
<line x1="90.6" y1="284" x2="90.6" y2="308" stroke="#7a7a7a" stroke-width="0.7" />
<line x1="88.4" y1="284" x2="92.8" y2="284" stroke="#7a7a7a" stroke-width="0.7" />
<line x1="88.4" y1="308" x2="92.8" y2="308" stroke="#7a7a7a" stroke-width="0.7" />
<circle cx="90.6" cy="285" r="0.9" fill="none" stroke="#909090" stroke-width="0.5"/>
<circle cx="92.1" cy="297" r="0.9" fill="none" stroke="#909090" stroke-width="0.5"/>
<circle cx="89.1" cy="300" r="0.9" fill="none" stroke="#909090" stroke-width="0.5"/>
<circle cx="91.6" cy="305" r="0.9" fill="none" stroke="#909090" stroke-width="0.5"/>
<text x="43.5" y="213.88" font-size="6.8" text-anchor="middle" font-weight="normal" font-style="normal" fill="#1a1a1a" >P = 0.0003</text>
<polyline points="47.3,220.8 47.3,216.6 59.3,216.6 59.3,220.5" stroke="#8c8c8c" stroke-width="0.6" fill="none" />
<text x="79.8" y="215.78" font-size="6.8" text-anchor="middle" font-weight="normal" font-style="normal" fill="#1a1a1a" ><tspan font-style="italic">P</tspan> &lt; 0.0001</text>
<polyline points="61.8,221.8 61.8,217.9 90.4,217.9 90.4,276.3" stroke="#8c8c8c" stroke-width="0.6" fill="none" />
<text x="74" y="229.38" font-size="6.8" text-anchor="middle" font-weight="normal" font-style="normal" fill="#1a1a1a" ><tspan font-style="italic">P</tspan> = 0.0135</text>
<polyline points="46.7,238.3 46.7,230.6 77.8,230.6 77.8,289.5" stroke="#8c8c8c" stroke-width="0.6" fill="none" />
<line x1="122.8" y1="219.9" x2="122.8" y2="319.6" stroke="#4d4d4d" stroke-width="1.3" />
<line x1="118.5" y1="319" x2="122.8" y2="319" stroke="#4d4d4d" stroke-width="0.8" />
<text x="114.7" y="322.15" font-size="9" text-anchor="end" font-weight="normal" font-style="normal" fill="#1a1a1a" >0</text>
<line x1="118.5" y1="286" x2="122.8" y2="286" stroke="#4d4d4d" stroke-width="0.8" />
<text x="114.7" y="289.15" font-size="9" text-anchor="end" font-weight="normal" font-style="normal" fill="#1a1a1a" >5</text>
<line x1="118.5" y1="253" x2="122.8" y2="253" stroke="#4d4d4d" stroke-width="0.8" />
<text x="114.7" y="256.15" font-size="9" text-anchor="end" font-weight="normal" font-style="normal" fill="#1a1a1a" >10</text>
<line x1="118.5" y1="220" x2="122.8" y2="220" stroke="#4d4d4d" stroke-width="0.8" />
<text x="114.7" y="223.15" font-size="9" text-anchor="end" font-weight="normal" font-style="normal" fill="#1a1a1a" >15</text>
<line x1="122.8" y1="319" x2="184" y2="319" stroke="#4d4d4d" stroke-width="1.1" />
<line x1="137.3" y1="319" x2="137.3" y2="323.5" stroke="#4d4d4d" stroke-width="0.8" />
<line x1="169.4" y1="319" x2="169.4" y2="323.5" stroke="#4d4d4d" stroke-width="0.8" />
<rect x="126.8" y="293.2" width="8.2" height="25.8" fill="#e6e6e6" stroke="#a6a6a6" stroke-width="0.6" />
<line x1="130.9" y1="282.1" x2="130.9" y2="304" stroke="#7a7a7a" stroke-width="0.7" />
<line x1="128.7" y1="282.1" x2="133.1" y2="282.1" stroke="#7a7a7a" stroke-width="0.7" />
<line x1="128.7" y1="304" x2="133.1" y2="304" stroke="#7a7a7a" stroke-width="0.7" />
<circle cx="130.9" cy="283" r="0.9" fill="none" stroke="#909090" stroke-width="0.5"/>
<circle cx="132.4" cy="287" r="0.9" fill="none" stroke="#909090" stroke-width="0.5"/>
<circle cx="129.4" cy="290" r="0.9" fill="none" stroke="#909090" stroke-width="0.5"/>
<circle cx="131.9" cy="295" r="0.9" fill="none" stroke="#909090" stroke-width="0.5"/>
<circle cx="129.9" cy="300" r="0.9" fill="none" stroke="#909090" stroke-width="0.5"/>
<circle cx="130.9" cy="312" r="0.9" fill="none" stroke="#909090" stroke-width="0.5"/>
<rect x="139.5" y="256.2" width="8.1" height="62.8" fill="#a9dba3" stroke="#7fba79" stroke-width="0.6" />
<line x1="143.5" y1="245.1" x2="143.5" y2="268" stroke="#7a7a7a" stroke-width="0.7" />
<line x1="141.3" y1="245.1" x2="145.7" y2="245.1" stroke="#7a7a7a" stroke-width="0.7" />
<line x1="141.3" y1="268" x2="145.7" y2="268" stroke="#7a7a7a" stroke-width="0.7" />
<circle cx="143.5" cy="241" r="0.9" fill="none" stroke="#909090" stroke-width="0.5"/>
<circle cx="145" cy="250" r="0.9" fill="none" stroke="#909090" stroke-width="0.5"/>
<circle cx="142" cy="256" r="0.9" fill="none" stroke="#909090" stroke-width="0.5"/>
<circle cx="144.5" cy="260" r="0.9" fill="none" stroke="#909090" stroke-width="0.5"/>
<circle cx="142.5" cy="265" r="0.9" fill="none" stroke="#909090" stroke-width="0.5"/>
<rect x="159.3" y="310.3" width="8.4" height="8.7" fill="#e6e6e6" stroke="#a6a6a6" stroke-width="0.6" />
<line x1="163.5" y1="306.4" x2="163.5" y2="314.5" stroke="#7a7a7a" stroke-width="0.7" />
<line x1="161.3" y1="306.4" x2="165.7" y2="306.4" stroke="#7a7a7a" stroke-width="0.7" />
<line x1="161.3" y1="314.5" x2="165.7" y2="314.5" stroke="#7a7a7a" stroke-width="0.7" />
<circle cx="163.5" cy="305" r="0.9" fill="none" stroke="#909090" stroke-width="0.5"/>
<circle cx="165" cy="309" r="0.9" fill="none" stroke="#909090" stroke-width="0.5"/>
<circle cx="162" cy="312" r="0.9" fill="none" stroke="#909090" stroke-width="0.5"/>
<circle cx="164.5" cy="315" r="0.9" fill="none" stroke="#909090" stroke-width="0.5"/>
<rect x="171.6" y="307" width="8.1" height="12" fill="#a9dba3" stroke="#7fba79" stroke-width="0.6" />
<line x1="175.6" y1="298.6" x2="175.6" y2="315" stroke="#7a7a7a" stroke-width="0.7" />
<line x1="173.4" y1="298.6" x2="177.8" y2="298.6" stroke="#7a7a7a" stroke-width="0.7" />
<line x1="173.4" y1="315" x2="177.8" y2="315" stroke="#7a7a7a" stroke-width="0.7" />
<circle cx="175.6" cy="297" r="0.9" fill="none" stroke="#909090" stroke-width="0.5"/>
<circle cx="177.1" cy="302" r="0.9" fill="none" stroke="#909090" stroke-width="0.5"/>
<circle cx="174.1" cy="305" r="0.9" fill="none" stroke="#909090" stroke-width="0.5"/>
<circle cx="176.6" cy="309" r="0.9" fill="none" stroke="#909090" stroke-width="0.5"/>
<circle cx="174.6" cy="316" r="0.9" fill="none" stroke="#909090" stroke-width="0.5"/>
<text x="132.9" y="217.38" font-size="6.8" text-anchor="middle" font-weight="normal" font-style="normal" fill="#1a1a1a" ><tspan font-style="italic">P</tspan> &lt; </text>
<text x="133.4" y="225.58" font-size="6.8" text-anchor="middle" font-weight="normal" font-style="normal" fill="#1a1a1a" >0.0001</text>
<polyline points="132.5,232.5 132.5,228.6 145.1,228.6 145.1,232.5" stroke="#8c8c8c" stroke-width="0.6" fill="none" />
<text x="162.3" y="221.28" font-size="6.8" text-anchor="middle" font-weight="normal" font-style="normal" fill="#1a1a1a" ><tspan font-style="italic">P</tspan> &lt; 0.0001</text>
<polyline points="146.3,227.6 146.3,223.8 175.5,223.8 175.5,287" stroke="#8c8c8c" stroke-width="0.6" fill="none" />
<text x="154.8" y="238.18" font-size="6.8" text-anchor="middle" font-weight="normal" font-style="normal" fill="#1a1a1a" ><tspan font-style="italic">P</tspan> = 0.0357</text>
<polyline points="132.5,247.1 132.5,239.3 163.6,239.3 163.6,305.4" stroke="#8c8c8c" stroke-width="0.6" fill="none" />
<rect x="190" y="207.2" width="8.8" height="9.2" fill="#e6e6e6" stroke="#a6a6a6" stroke-width="0.6" />
<rect x="190" y="221.8" width="8.8" height="9.2" fill="#a9dba3" stroke="#7fba79" stroke-width="0.6" />
<text x="203.4" y="214.7" font-size="8" text-anchor="start" font-weight="normal" font-style="normal" fill="#1a1a1a" ><tspan font-style="italic">ASS1</tspan><tspan font-style="italic" dy="-3.2" font-size="5.5">+/+</tspan></text>
<text x="203.4" y="229.3" font-size="8" text-anchor="start" font-weight="normal" font-style="normal" fill="#1a1a1a" ><tspan font-style="italic">ASS1</tspan><tspan font-style="italic" dy="-3.2" font-size="5.5">−/−</tspan></text>
<text x="37" y="334.99" font-size="9.4" text-anchor="end" font-weight="normal" font-style="normal" fill="#1a1a1a" >VSV</text>
<text x="37" y="347.59" font-size="9.4" text-anchor="end" font-weight="normal" font-style="normal" fill="#1a1a1a" >DMF</text>
<text x="52.1" y="334.15" font-size="7" text-anchor="middle" font-weight="normal" font-style="normal" fill="#1a1a1a" >+</text>
<text x="52.1" y="346.75" font-size="7" text-anchor="middle" font-weight="normal" font-style="normal" fill="#1a1a1a" >–</text>
<text x="84.2" y="334.15" font-size="7" text-anchor="middle" font-weight="normal" font-style="normal" fill="#1a1a1a" >+</text>
<text x="84.2" y="346.75" font-size="7" text-anchor="middle" font-weight="normal" font-style="normal" fill="#1a1a1a" >+</text>
<text x="137.3" y="334.15" font-size="7" text-anchor="middle" font-weight="normal" font-style="normal" fill="#1a1a1a" >+</text>
<text x="137.3" y="346.75" font-size="7" text-anchor="middle" font-weight="normal" font-style="normal" fill="#1a1a1a" >–</text>
<text x="169.4" y="334.15" font-size="7" text-anchor="middle" font-weight="normal" font-style="normal" fill="#1a1a1a" >+</text>
<text x="169.4" y="346.75" font-size="7" text-anchor="middle" font-weight="normal" font-style="normal" fill="#1a1a1a" >+</text>
<text x="260.2" y="202.6" font-size="13.5" font-weight="bold" fill="#000" stroke="#000" stroke-width="0.55">e</text>
<text transform="translate(264.8,267) rotate(-90)" x="0" y="3.32" font-size="9.5" text-anchor="middle" font-weight="normal" font-style="normal" fill="#1a1a1a" >IFNβ (μg ml<tspan dy="-3" font-size="6.5">−1</tspan><tspan dy="3">)</tspan></text>
<line x1="294.3" y1="215.9" x2="294.3" y2="320" stroke="#4d4d4d" stroke-width="0.8" />
<line x1="290" y1="319.5" x2="294.3" y2="319.5" stroke="#4d4d4d" stroke-width="0.8" />
<text x="286.2" y="322.65" font-size="9" text-anchor="end" font-weight="normal" font-style="normal" fill="#1a1a1a" >0</text>
<line x1="290" y1="298.86" x2="294.3" y2="298.86" stroke="#4d4d4d" stroke-width="0.8" />
<text x="286.2" y="302.01" font-size="9" text-anchor="end" font-weight="normal" font-style="normal" fill="#1a1a1a" >10</text>
<line x1="290" y1="278.22" x2="294.3" y2="278.22" stroke="#4d4d4d" stroke-width="0.8" />
<text x="286.2" y="281.37" font-size="9" text-anchor="end" font-weight="normal" font-style="normal" fill="#1a1a1a" >20</text>
<line x1="290" y1="257.58" x2="294.3" y2="257.58" stroke="#4d4d4d" stroke-width="0.8" />
<text x="286.2" y="260.73" font-size="9" text-anchor="end" font-weight="normal" font-style="normal" fill="#1a1a1a" >30</text>
<line x1="290" y1="236.94" x2="294.3" y2="236.94" stroke="#4d4d4d" stroke-width="0.8" />
<text x="286.2" y="240.09" font-size="9" text-anchor="end" font-weight="normal" font-style="normal" fill="#1a1a1a" >40</text>
<line x1="290" y1="216.3" x2="294.3" y2="216.3" stroke="#4d4d4d" stroke-width="0.8" />
<text x="286.2" y="219.45" font-size="9" text-anchor="end" font-weight="normal" font-style="normal" fill="#1a1a1a" >50</text>
<line x1="294.3" y1="319.5" x2="426.2" y2="319.5" stroke="#4d4d4d" stroke-width="0.8" />
<line x1="309.1" y1="319.5" x2="309.1" y2="323.8" stroke="#4d4d4d" stroke-width="0.8" />
<line x1="343.3" y1="319.5" x2="343.3" y2="323.8" stroke="#4d4d4d" stroke-width="0.8" />
<line x1="377.2" y1="319.5" x2="377.2" y2="323.8" stroke="#4d4d4d" stroke-width="0.8" />
<line x1="411.1" y1="319.5" x2="411.1" y2="323.8" stroke="#4d4d4d" stroke-width="0.8" />
<line x1="299.1" y1="319.1" x2="307.1" y2="319.1" stroke="#aaa" stroke-width="0.6" />
<line x1="311.1" y1="319.1" x2="319.1" y2="319.1" stroke="#aaa" stroke-width="0.6" />
<line x1="333.3" y1="319.1" x2="341.3" y2="319.1" stroke="#aaa" stroke-width="0.6" />
<line x1="345.3" y1="319.1" x2="353.3" y2="319.1" stroke="#aaa" stroke-width="0.6" />
<rect x="366.6" y="264.9" width="9" height="54.6" fill="#e6e6e6" stroke="#a6a6a6" stroke-width="0.6" />
<line x1="371.1" y1="259" x2="371.1" y2="272" stroke="#7a7a7a" stroke-width="0.7" />
<line x1="368.9" y1="259" x2="373.3" y2="259" stroke="#7a7a7a" stroke-width="0.7" />
<line x1="368.9" y1="272" x2="373.3" y2="272" stroke="#7a7a7a" stroke-width="0.7" />
<circle cx="371.1" cy="258" r="0.9" fill="none" stroke="#909090" stroke-width="0.5"/>
<circle cx="372.6" cy="262" r="0.9" fill="none" stroke="#909090" stroke-width="0.5"/>
<circle cx="369.6" cy="266" r="0.9" fill="none" stroke="#909090" stroke-width="0.5"/>
<circle cx="372.1" cy="269" r="0.9" fill="none" stroke="#909090" stroke-width="0.5"/>
<circle cx="370.1" cy="273" r="0.9" fill="none" stroke="#909090" stroke-width="0.5"/>
<rect x="379.3" y="301" width="8.4" height="18.5" fill="#a9dba3" stroke="#7fba79" stroke-width="0.6" />
<line x1="383.5" y1="295.5" x2="383.5" y2="307" stroke="#7a7a7a" stroke-width="0.7" />
<line x1="381.3" y1="295.5" x2="385.7" y2="295.5" stroke="#7a7a7a" stroke-width="0.7" />
<line x1="381.3" y1="307" x2="385.7" y2="307" stroke="#7a7a7a" stroke-width="0.7" />
<circle cx="383.5" cy="295" r="0.9" fill="none" stroke="#909090" stroke-width="0.5"/>
<circle cx="385" cy="300" r="0.9" fill="none" stroke="#909090" stroke-width="0.5"/>
<circle cx="382" cy="304" r="0.9" fill="none" stroke="#909090" stroke-width="0.5"/>
<circle cx="384.5" cy="308" r="0.9" fill="none" stroke="#909090" stroke-width="0.5"/>
<rect x="400.3" y="237.3" width="9.1" height="82.2" fill="#e6e6e6" stroke="#a6a6a6" stroke-width="0.6" />
<line x1="404.9" y1="230.8" x2="404.9" y2="244" stroke="#7a7a7a" stroke-width="0.7" />
<line x1="402.7" y1="230.8" x2="407.1" y2="230.8" stroke="#7a7a7a" stroke-width="0.7" />
<line x1="402.7" y1="244" x2="407.1" y2="244" stroke="#7a7a7a" stroke-width="0.7" />
<circle cx="404.9" cy="232" r="0.9" fill="none" stroke="#909090" stroke-width="0.5"/>
<circle cx="406.4" cy="236" r="0.9" fill="none" stroke="#909090" stroke-width="0.5"/>
<circle cx="403.4" cy="240" r="0.9" fill="none" stroke="#909090" stroke-width="0.5"/>
<circle cx="405.9" cy="243" r="0.9" fill="none" stroke="#909090" stroke-width="0.5"/>
<rect x="413.5" y="261.4" width="8.6" height="58.1" fill="#a9dba3" stroke="#7fba79" stroke-width="0.6" />
<line x1="417.8" y1="248" x2="417.8" y2="274" stroke="#7a7a7a" stroke-width="0.7" />
<line x1="415.6" y1="248" x2="420" y2="248" stroke="#7a7a7a" stroke-width="0.7" />
<line x1="415.6" y1="274" x2="420" y2="274" stroke="#7a7a7a" stroke-width="0.7" />
<circle cx="417.8" cy="250" r="0.9" fill="none" stroke="#909090" stroke-width="0.5"/>
<circle cx="419.3" cy="256" r="0.9" fill="none" stroke="#909090" stroke-width="0.5"/>
<circle cx="416.3" cy="265" r="0.9" fill="none" stroke="#909090" stroke-width="0.5"/>
<circle cx="418.8" cy="270" r="0.9" fill="none" stroke="#909090" stroke-width="0.5"/>
<circle cx="416.8" cy="282" r="0.9" fill="none" stroke="#909090" stroke-width="0.5"/>
<text x="388.2" y="217.68" font-size="6.8" text-anchor="middle" font-weight="normal" font-style="normal" fill="#1a1a1a" ><tspan font-style="italic">P</tspan> &lt; 0.0001</text>
<polyline points="370.1,245.4 370.1,219.8 405.1,219.8 405.1,222.1" stroke="#8c8c8c" stroke-width="0.6" fill="none" />
<text x="404.8" y="228.78" font-size="6.8" text-anchor="middle" font-weight="normal" font-style="normal" fill="#1a1a1a" ><tspan font-style="italic">P</tspan> &lt; 0.0001</text>
<polyline points="386.1,291 386.1,230.5 420.1,230.5 420.1,241.5" stroke="#8c8c8c" stroke-width="0.6" fill="none" />
<text x="368.2" y="249.38" font-size="6.8" text-anchor="middle" font-weight="normal" font-style="normal" fill="#1a1a1a" ><tspan font-style="italic">P</tspan> &lt; 0.0001</text>
<polyline points="370.5,255.1 370.5,251.6 383.2,251.6 383.2,291" stroke="#8c8c8c" stroke-width="0.6" fill="none" />
<rect x="299.2" y="213" width="9.1" height="8.7" fill="#e6e6e6" stroke="#a6a6a6" stroke-width="0.6" />
<rect x="299.2" y="227.5" width="9.1" height="8.8" fill="#a9dba3" stroke="#7fba79" stroke-width="0.6" />
<text x="312.8" y="220.4" font-size="8" text-anchor="start" font-weight="normal" font-style="normal" fill="#1a1a1a" ><tspan font-style="italic">ASS1</tspan><tspan font-style="italic" dy="-3.2" font-size="5.5">+/+</tspan></text>
<text x="312.8" y="235" font-size="8" text-anchor="start" font-weight="normal" font-style="normal" fill="#1a1a1a" ><tspan font-style="italic">ASS1</tspan><tspan font-style="italic" dy="-3.2" font-size="5.5">−/−</tspan></text>
<text x="289.2" y="335.69" font-size="9.4" text-anchor="end" font-weight="normal" font-style="normal" fill="#1a1a1a" >VSV</text>
<text x="289.2" y="347.09" font-size="9.4" text-anchor="end" font-weight="normal" font-style="normal" fill="#1a1a1a" >DMF</text>
<text x="309.1" y="334.85" font-size="7" text-anchor="middle" font-weight="normal" font-style="normal" fill="#1a1a1a" >–</text>
<text x="309.1" y="346.25" font-size="7" text-anchor="middle" font-weight="normal" font-style="normal" fill="#1a1a1a" >–</text>
<text x="343.3" y="334.85" font-size="7" text-anchor="middle" font-weight="normal" font-style="normal" fill="#1a1a1a" >–</text>
<text x="343.3" y="346.25" font-size="7" text-anchor="middle" font-weight="normal" font-style="normal" fill="#1a1a1a" >+</text>
<text x="377.2" y="334.85" font-size="7" text-anchor="middle" font-weight="normal" font-style="normal" fill="#1a1a1a" >+</text>
<text x="377.2" y="346.25" font-size="7" text-anchor="middle" font-weight="normal" font-style="normal" fill="#1a1a1a" >–</text>
<text x="411.1" y="334.85" font-size="7" text-anchor="middle" font-weight="normal" font-style="normal" fill="#1a1a1a" >+</text>
<text x="411.1" y="346.25" font-size="7" text-anchor="middle" font-weight="normal" font-style="normal" fill="#1a1a1a" >+</text>
<text x="0.8" y="371.4" font-size="13.5" font-weight="bold" fill="#000" stroke="#000" stroke-width="0.55">f</text>
<text x="113.5" y="375.5" font-size="10" text-anchor="middle" font-weight="normal" font-style="normal" fill="#1a1a1a" >Spleen macrophages</text>
<text transform="translate(4.8,454) rotate(-90)" x="0" y="3.32" font-size="9.5" text-anchor="middle" font-weight="normal" font-style="normal" fill="#1a1a1a" >Relative IFNβ expression</text>
<text transform="translate(14.2,454) rotate(-90)" x="0" y="3.32" font-size="9.5" text-anchor="middle" font-weight="normal" font-style="normal" fill="#1a1a1a" >(qRT-PCR)</text>
<line x1="47.1" y1="402.5" x2="47.1" y2="509.3" stroke="#4d4d4d" stroke-width="0.8" />
<line x1="42.8" y1="508.8" x2="47.1" y2="508.8" stroke="#4d4d4d" stroke-width="0.8" />
<text x="38.9" y="511.95" font-size="9" text-anchor="end" font-weight="normal" font-style="normal" fill="#1a1a1a" >0</text>
<line x1="42.8" y1="482.32" x2="47.1" y2="482.32" stroke="#4d4d4d" stroke-width="0.8" />
<text x="38.9" y="485.47" font-size="9" text-anchor="end" font-weight="normal" font-style="normal" fill="#1a1a1a" >50</text>
<line x1="42.8" y1="455.85" x2="47.1" y2="455.85" stroke="#4d4d4d" stroke-width="0.8" />
<text x="38.9" y="459" font-size="9" text-anchor="end" font-weight="normal" font-style="normal" fill="#1a1a1a" >100</text>
<line x1="42.8" y1="429.38" x2="47.1" y2="429.38" stroke="#4d4d4d" stroke-width="0.8" />
<text x="38.9" y="432.52" font-size="9" text-anchor="end" font-weight="normal" font-style="normal" fill="#1a1a1a" >150</text>
<line x1="42.8" y1="402.9" x2="47.1" y2="402.9" stroke="#4d4d4d" stroke-width="0.8" />
<text x="38.9" y="406.05" font-size="9" text-anchor="end" font-weight="normal" font-style="normal" fill="#1a1a1a" >200</text>
<line x1="47.1" y1="508.8" x2="179.5" y2="508.8" stroke="#4d4d4d" stroke-width="0.8" />
<line x1="62.5" y1="508.8" x2="62.5" y2="513" stroke="#4d4d4d" stroke-width="0.8" />
<line x1="96.4" y1="508.8" x2="96.4" y2="513" stroke="#4d4d4d" stroke-width="0.8" />
<line x1="130.3" y1="508.8" x2="130.3" y2="513" stroke="#4d4d4d" stroke-width="0.8" />
<line x1="164.8" y1="508.8" x2="164.8" y2="513" stroke="#4d4d4d" stroke-width="0.8" />
<circle cx="54.5" cy="508" r="0.8" fill="none" stroke="#909090" stroke-width="0.5"/>
<circle cx="66.5" cy="508.2" r="0.8" fill="none" stroke="#909090" stroke-width="0.5"/>
<circle cx="88.4" cy="508" r="0.8" fill="none" stroke="#909090" stroke-width="0.5"/>
<circle cx="100.4" cy="508.2" r="0.8" fill="none" stroke="#909090" stroke-width="0.5"/>
<rect x="120.1" y="433.7" width="8.6" height="75.1" fill="#e6e6e6" stroke="#a6a6a6" stroke-width="0.6" />
<line x1="124.4" y1="431.5" x2="124.4" y2="436" stroke="#7a7a7a" stroke-width="0.7" />
<line x1="122.2" y1="431.5" x2="126.6" y2="431.5" stroke="#7a7a7a" stroke-width="0.7" />
<line x1="122.2" y1="436" x2="126.6" y2="436" stroke="#7a7a7a" stroke-width="0.7" />
<circle cx="124.4" cy="432" r="0.9" fill="none" stroke="#909090" stroke-width="0.5"/>
<circle cx="125.9" cy="434" r="0.9" fill="none" stroke="#909090" stroke-width="0.5"/>
<circle cx="122.9" cy="435.5" r="0.9" fill="none" stroke="#909090" stroke-width="0.5"/>
<rect x="133" y="467.6" width="8.7" height="41.2" fill="#a9dba3" stroke="#7fba79" stroke-width="0.6" />
<circle cx="135.8" cy="467" r="0.9" fill="none" stroke="#909090" stroke-width="0.5"/>
<circle cx="138.8" cy="467.5" r="0.9" fill="none" stroke="#909090" stroke-width="0.5"/>
<rect x="154" y="422.6" width="8.6" height="86.2" fill="#e6e6e6" stroke="#a6a6a6" stroke-width="0.6" />
<line x1="155.5" y1="422.6" x2="161" y2="422.6" stroke="#777" stroke-width="0.8" />
<rect x="167.2" y="435.5" width="9" height="73.3" fill="#a9dba3" stroke="#7fba79" stroke-width="0.6" />
<circle cx="170.2" cy="435" r="0.9" fill="none" stroke="#909090" stroke-width="0.5"/>
<circle cx="173.2" cy="435.5" r="0.9" fill="none" stroke="#909090" stroke-width="0.5"/>
<text x="142" y="397.78" font-size="6.8" text-anchor="middle" font-weight="normal" font-style="normal" fill="#1a1a1a" ><tspan font-style="italic">P</tspan> &lt; 0.0001</text>
<polyline points="124.7,418 124.7,399.5 158.3,399.5 158.3,404.5" stroke="#8c8c8c" stroke-width="0.6" fill="none" />
<text x="155" y="415.88" font-size="6.8" text-anchor="middle" font-weight="normal" font-style="normal" fill="#1a1a1a" ><tspan font-style="italic">P</tspan> &lt; 0.0001</text>
<polyline points="138.7,465 138.7,417.6 170.7,417.6 170.7,424.9" stroke="#8c8c8c" stroke-width="0.6" fill="none" />
<text x="121" y="424.58" font-size="6.8" text-anchor="middle" font-weight="normal" font-style="normal" fill="#1a1a1a" ><tspan font-style="italic">P</tspan> &lt; 0.0001</text>
<polyline points="124.2,430.5 124.2,426.7 136.7,426.7 136.7,465" stroke="#8c8c8c" stroke-width="0.6" fill="none" />
<text x="48.4" y="523.49" font-size="9.4" text-anchor="end" font-weight="normal" font-style="normal" fill="#1a1a1a" >VSV</text>
<text x="48.4" y="533.99" font-size="9.4" text-anchor="end" font-weight="normal" font-style="normal" fill="#1a1a1a" >DMF</text>
<text x="62.5" y="522.65" font-size="7" text-anchor="middle" font-weight="normal" font-style="normal" fill="#1a1a1a" >–</text>
<text x="62.5" y="533.15" font-size="7" text-anchor="middle" font-weight="normal" font-style="normal" fill="#1a1a1a" >–</text>
<text x="96.4" y="522.65" font-size="7" text-anchor="middle" font-weight="normal" font-style="normal" fill="#1a1a1a" >–</text>
<text x="96.4" y="533.15" font-size="7" text-anchor="middle" font-weight="normal" font-style="normal" fill="#1a1a1a" >+</text>
<text x="130.3" y="522.65" font-size="7" text-anchor="middle" font-weight="normal" font-style="normal" fill="#1a1a1a" >+</text>
<text x="130.3" y="533.15" font-size="7" text-anchor="middle" font-weight="normal" font-style="normal" fill="#1a1a1a" >–</text>
<text x="164.8" y="522.65" font-size="7" text-anchor="middle" font-weight="normal" font-style="normal" fill="#1a1a1a" >+</text>
<text x="164.8" y="533.15" font-size="7" text-anchor="middle" font-weight="normal" font-style="normal" fill="#1a1a1a" >+</text>
<defs>
<filter id="bl1" x="-50%" y="-100%" width="200%" height="300%"><feGaussianBlur stdDeviation="1.1"/></filter>
<filter id="bl2" x="-50%" y="-100%" width="200%" height="300%"><feGaussianBlur stdDeviation="1.8"/></filter>
<filter id="bl3" x="-50%" y="-100%" width="200%" height="300%"><feGaussianBlur stdDeviation="0.7"/></filter>
<linearGradient id="g2sc" x1="0" y1="0" x2="0.3" y2="1"><stop offset="0" stop-color="#8e8e8e"/><stop offset="0.5" stop-color="#aaaaaa"/><stop offset="1" stop-color="#bcbcbc"/></linearGradient>
<linearGradient id="gmavs" x1="0" y1="0" x2="0" y2="1"><stop offset="0" stop-color="#d0d0d0"/><stop offset="1" stop-color="#bdbdbd"/></linearGradient>
</defs>
<text x="235.3" y="374.46" font-size="9.9" text-anchor="end" font-weight="normal" font-style="normal" fill="#1a1a1a" >VSV</text>
<text x="235.3" y="384.66" font-size="9.9" text-anchor="end" font-weight="normal" font-style="normal" fill="#1a1a1a" >DMF</text>
<text x="234.8" y="396.46" font-size="9.9" text-anchor="end" font-weight="normal" font-style="italic" fill="#1a1a1a" >ASS1</text>
<text x="250.8" y="373.45" font-size="7" text-anchor="middle" font-weight="normal" font-style="normal" fill="#1a1a1a" >+</text>
<text x="250.8" y="383.65" font-size="7" text-anchor="middle" font-weight="normal" font-style="normal" fill="#1a1a1a" >–</text>
<text x="250.8" y="396.01" font-size="8.6" text-anchor="middle" font-weight="normal" font-style="normal" fill="#1a1a1a" >+/+</text>
<text x="269.3" y="373.45" font-size="7" text-anchor="middle" font-weight="normal" font-style="normal" fill="#1a1a1a" >+</text>
<text x="269.3" y="383.65" font-size="7" text-anchor="middle" font-weight="normal" font-style="normal" fill="#1a1a1a" >–</text>
<text x="269.3" y="396.01" font-size="8.6" text-anchor="middle" font-weight="normal" font-style="normal" fill="#1a1a1a" >–/–</text>
<text x="288.8" y="373.45" font-size="7" text-anchor="middle" font-weight="normal" font-style="normal" fill="#1a1a1a" >+</text>
<text x="288.8" y="383.65" font-size="7" text-anchor="middle" font-weight="normal" font-style="normal" fill="#1a1a1a" >+</text>
<text x="288.8" y="396.01" font-size="8.6" text-anchor="middle" font-weight="normal" font-style="normal" fill="#1a1a1a" >+/+</text>
<text x="306.8" y="373.45" font-size="7" text-anchor="middle" font-weight="normal" font-style="normal" fill="#1a1a1a" >+</text>
<text x="306.8" y="383.65" font-size="7" text-anchor="middle" font-weight="normal" font-style="normal" fill="#1a1a1a" >+</text>
<text x="306.8" y="396.01" font-size="8.6" text-anchor="middle" font-weight="normal" font-style="normal" fill="#1a1a1a" >–/–</text>
<text x="327.8" y="396.43" font-size="9.8" text-anchor="start" font-weight="normal" font-style="normal" fill="#1a1a1a" >kDa</text>
<rect x="238.4" y="401.3" width="80.2" height="20" fill="url(#g2sc)" stroke="#2a2a2a" stroke-width="0.9" />
<g filter="url(#bl1)">
<rect x="244.3" y="409.6" width="12.8" height="5.8" rx="2.5" fill="#0a0a0a"/>
<rect x="262.5" y="410.2" width="6" height="4.6" rx="2.5" fill="#7a7a7a"/>
<rect x="267" y="409.8" width="6.2" height="5.4" rx="2.5" fill="#1e1e1e"/>
<rect x="280.6" y="406.8" width="15.6" height="10.2" rx="2.5" fill="#000"/>
<rect x="299" y="407.4" width="15.4" height="9.6" rx="2.5" fill="#000"/>
</g>
<text x="228.6" y="415.26" font-size="9.9" text-anchor="end" font-weight="normal" font-style="normal" fill="#1a1a1a" >2SC</text>
<line x1="230.4" y1="411.8" x2="236.2" y2="411.8" stroke="#3d4f6e" stroke-width="0.8" />
<path d="M237.8 411.8 L235 410.2 L235 413.4Z" fill="#3d4f6e"/>
<line x1="319.4" y1="416.5" x2="323.4" y2="416.5" stroke="#333" stroke-width="0.8" />
<text x="326" y="419.79" font-size="9.4" text-anchor="start" font-weight="normal" font-style="normal" fill="#1a1a1a" >55</text>
<text x="235.9" y="428.73" font-size="9.8" text-anchor="end" font-weight="normal" font-style="normal" fill="#1a1a1a" >2SC/MAVS</text>
<text x="235.9" y="437.43" font-size="9.8" text-anchor="end" font-weight="normal" font-style="normal" fill="#1a1a1a" >ratio</text>
<text x="250.8" y="432.05" font-size="9" text-anchor="middle" font-weight="normal" font-style="normal" fill="#1a1a1a" >1.0</text>
<text x="269.3" y="432.05" font-size="9" text-anchor="middle" font-weight="normal" font-style="normal" fill="#1a1a1a" >0.3</text>
<text x="288.8" y="432.05" font-size="9" text-anchor="middle" font-weight="normal" font-style="normal" fill="#1a1a1a" >2.8</text>
<text x="306.8" y="432.05" font-size="9" text-anchor="middle" font-weight="normal" font-style="normal" fill="#1a1a1a" >2.7</text>
<rect x="238.4" y="437" width="80.2" height="19.5" fill="url(#gmavs)" stroke="#2a2a2a" stroke-width="0.9" />
<g filter="url(#bl2)">
<rect x="243.8" y="440" width="14" height="13" fill="#8a8a8a" opacity="0.6"/>
<rect x="262.3" y="440" width="14" height="13" fill="#8a8a8a" opacity="0.6"/>
<rect x="281.8" y="440" width="14" height="13" fill="#8a8a8a" opacity="0.6"/>
<rect x="299.8" y="440" width="14" height="13" fill="#8a8a8a" opacity="0.6"/>
</g><g filter="url(#bl1)">
<rect x="243.4" y="444" width="14.8" height="7.4" rx="2.5" fill="#000"/>
<rect x="261.90000000000003" y="444" width="14.8" height="7.4" rx="2.5" fill="#000"/>
<rect x="281.40000000000003" y="444" width="14.8" height="7.4" rx="2.5" fill="#000"/>
<rect x="299.40000000000003" y="444" width="14.8" height="7.4" rx="2.5" fill="#000"/>
</g>
<text x="228.6" y="451.96" font-size="9.9" text-anchor="end" font-weight="normal" font-style="normal" fill="#1a1a1a" >MAVS</text>
<line x1="230.4" y1="448.5" x2="236.2" y2="448.5" stroke="#3d4f6e" stroke-width="0.8" />
<path d="M237.8 448.5 L235 446.9 L235 450.1Z" fill="#3d4f6e"/>
<line x1="319.4" y1="449.8" x2="323.4" y2="449.8" stroke="#333" stroke-width="0.8" />
<text x="326" y="453.09" font-size="9.4" text-anchor="start" font-weight="normal" font-style="normal" fill="#1a1a1a" >55</text>
<line x1="242" y1="460.9" x2="314.2" y2="460.9" stroke="#9a9a9a" stroke-width="1" />
<text x="278.6" y="471.96" font-size="9.6" text-anchor="middle" font-weight="normal" font-style="normal" fill="#1a1a1a" >IP: anti-MAVS</text>
<rect x="238.4" y="484.6" width="80.2" height="19" fill="#d2d2d2" stroke="#2a2a2a" stroke-width="0.9" />
<g filter="url(#bl2)">
<rect x="244.3" y="487" width="13" height="15" fill="#8c8c8c" opacity="0.75"/>
<rect x="262.8" y="487" width="13" height="15" fill="#8c8c8c" opacity="0.75"/>
<rect x="282.3" y="487" width="13" height="15" fill="#8c8c8c" opacity="0.75"/>
<rect x="300.3" y="487" width="13" height="15" fill="#8c8c8c" opacity="0.75"/>
</g><g filter="url(#bl1)">
<ellipse cx="250.8" cy="494.6" rx="6.8" ry="1.9" fill="#333"/>
<ellipse cx="269.3" cy="494.6" rx="6.8" ry="1.9" fill="#333"/>
<ellipse cx="288.8" cy="494.6" rx="6.8" ry="1.9" fill="#333"/>
<ellipse cx="306.8" cy="494.6" rx="6.8" ry="1.9" fill="#333"/>
</g>
<text x="228.6" y="498.76" font-size="9.9" text-anchor="end" font-weight="normal" font-style="normal" fill="#1a1a1a" >MAVS</text>
<line x1="230.4" y1="495.3" x2="236.2" y2="495.3" stroke="#3d4f6e" stroke-width="0.8" />
<path d="M237.8 495.3 L235 493.7 L235 496.9Z" fill="#3d4f6e"/>
<line x1="319.4" y1="496.5" x2="323.4" y2="496.5" stroke="#333" stroke-width="0.8" />
<text x="326" y="499.79" font-size="9.4" text-anchor="start" font-weight="normal" font-style="normal" fill="#1a1a1a" >55</text>
<rect x="238.4" y="507.5" width="80.2" height="19.8" fill="#a4a4a4" stroke="#2a2a2a" stroke-width="0.9" />
<g filter="url(#bl3)">
<ellipse cx="249.6" cy="516.2" rx="7.5" ry="1.1" fill="#4a4a4a"/>
<ellipse cx="289.7" cy="516.2" rx="6.5" ry="1.0" fill="#5a5a5a"/>
</g>
<text x="228.6" y="519.67" font-size="9.9" text-anchor="end" font-weight="normal" font-style="normal" fill="#1a1a1a" >ASS1</text>
<line x1="230.4" y1="516.2" x2="236.2" y2="516.2" stroke="#3d4f6e" stroke-width="0.8" />
<path d="M237.8 516.2 L235 514.6 L235 517.8Z" fill="#3d4f6e"/>
<line x1="319.4" y1="520.4" x2="323.4" y2="520.4" stroke="#333" stroke-width="0.8" />
<text x="326" y="523.69" font-size="9.4" text-anchor="start" font-weight="normal" font-style="normal" fill="#1a1a1a" >40</text>
<rect x="238.4" y="529.6" width="80.2" height="18.8" fill="#d6d6d6" stroke="#2a2a2a" stroke-width="0.9" />
<g filter="url(#bl2)">
<rect x="246.7" y="533" width="13" height="8" fill="#b0b0b0" opacity="0.6"/>
<rect x="264.2" y="533" width="13" height="8" fill="#b0b0b0" opacity="0.6"/>
<rect x="281.7" y="533" width="13" height="8" fill="#b0b0b0" opacity="0.6"/>
<rect x="299.5" y="533" width="13" height="8" fill="#b0b0b0" opacity="0.6"/>
</g>
<g filter="url(#bl3)">
<rect x="246.0" y="538.8" width="14.4" height="4.6" rx="2" fill="#000"/>
<rect x="263.5" y="538.8" width="14.4" height="4.6" rx="2" fill="#000"/>
<rect x="281.0" y="538.8" width="14.4" height="4.6" rx="2" fill="#000"/>
<rect x="298.8" y="538.8" width="14.4" height="4.6" rx="2" fill="#000"/>
</g>
<text x="228.6" y="542.26" font-size="9.9" text-anchor="end" font-weight="normal" font-style="normal" fill="#1a1a1a" >Actin</text>
<line x1="230.4" y1="538.8" x2="236.2" y2="538.8" stroke="#3d4f6e" stroke-width="0.8" />
<path d="M237.8 538.8 L235 537.2 L235 540.4Z" fill="#3d4f6e"/>
<line x1="319.4" y1="542.4" x2="323.4" y2="542.4" stroke="#333" stroke-width="0.8" />
<text x="326" y="545.69" font-size="9.4" text-anchor="start" font-weight="normal" font-style="normal" fill="#1a1a1a" >40</text>
<line x1="241" y1="551.5" x2="313.6" y2="551.5" stroke="#9a9a9a" stroke-width="1" />
<text x="277.5" y="561.83" font-size="9.8" text-anchor="middle" font-weight="normal" font-style="normal" fill="#1a1a1a" >Input</text>
<text x="359.6" y="371.6" font-size="13.5" font-weight="bold" fill="#000" stroke="#000" stroke-width="0.55">g</text>
<text x="449.7" y="372.79" font-size="9.4" text-anchor="middle" font-weight="normal" font-style="normal" fill="#1a1a1a" ><tspan font-style="italic">ASS1</tspan><tspan font-style="italic" dy="-3.2" font-size="6.5">+/+</tspan></text>
<text x="546.6" y="373.29" font-size="9.4" text-anchor="middle" font-weight="normal" font-style="normal" fill="#1a1a1a" ><tspan font-style="italic">ASS1</tspan><tspan font-style="italic" dy="-3.2" font-size="6.5">−/−</tspan></text>
<defs><filter id="disp00" x="-5%" y="-5%" width="110%" height="110%"><feTurbulence type="fractalNoise" baseFrequency="0.23" numOctaves="2" seed="3" result="n"/><feDisplacementMap in="SourceGraphic" in2="n" scale="3.0" xChannelSelector="R" yChannelSelector="G"/></filter><filter id="disp01" x="-5%" y="-5%" width="110%" height="110%"><feTurbulence type="fractalNoise" baseFrequency="0.23" numOctaves="2" seed="4" result="n"/><feDisplacementMap in="SourceGraphic" in2="n" scale="3.0" xChannelSelector="R" yChannelSelector="G"/></filter><filter id="disp10" x="-5%" y="-5%" width="110%" height="110%"><feTurbulence type="fractalNoise" baseFrequency="0.23" numOctaves="2" seed="5" result="n"/><feDisplacementMap in="SourceGraphic" in2="n" scale="3.0" xChannelSelector="R" yChannelSelector="G"/></filter><filter id="disp11" x="-5%" y="-5%" width="110%" height="110%"><feTurbulence type="fractalNoise" baseFrequency="0.23" numOctaves="2" seed="6" result="n"/><feDisplacementMap in="SourceGraphic" in2="n" scale="3.0" xChannelSelector="R" yChannelSelector="G"/></filter><filter id="disp20" x="-5%" y="-5%" width="110%" height="110%"><feTurbulence type="fractalNoise" baseFrequency="0.23" numOctaves="2" seed="7" result="n"/><feDisplacementMap in="SourceGraphic" in2="n" scale="3.0" xChannelSelector="R" yChannelSelector="G"/></filter><filter id="disp21" x="-5%" y="-5%" width="110%" height="110%"><feTurbulence type="fractalNoise" baseFrequency="0.23" numOctaves="2" seed="8" result="n"/><feDisplacementMap in="SourceGraphic" in2="n" scale="3.0" xChannelSelector="R" yChannelSelector="G"/></filter><filter id="disp30" x="-5%" y="-5%" width="110%" height="110%"><feTurbulence type="fractalNoise" baseFrequency="0.23" numOctaves="2" seed="9" result="n"/><feDisplacementMap in="SourceGraphic" in2="n" scale="3.0" xChannelSelector="R" yChannelSelector="G"/></filter><filter id="disp31" x="-5%" y="-5%" width="110%" height="110%"><feTurbulence type="fractalNoise" baseFrequency="0.23" numOctaves="2" seed="10" result="n"/><feDisplacementMap in="SourceGraphic" in2="n" scale="3.0" xChannelSelector="R" yChannelSelector="G"/></filter></defs>
<clipPath id="cp00"><rect x="404" y="377.2" width="91.3" height="52.4"/></clipPath>
<g clip-path="url(#cp00)"><g filter="url(#disp00)"><rect x="401" y="374.2" width="97.3" height="58.4" fill="#9466c2"/><g transform="scale(0.5)" stroke="#fff" stroke-linecap="round" fill="none"><path d="M886 832l1 0M872 855l0 0M986 853l0 0M861 775l1 2M872 784l1 2M987 857l0 0M982 839l0 0M967 809l0 0M979 778l0 0M868 754l1 2M963 772l0 0M813 852l0 3M973 793l0 0M907 822l2 0M964 769l0 0M811 849l0 0M894 817l0 2M824 844l1 1M835 780l0 0M894 830l-1 0M801 824l-1 0M862 867l0 0M957 751l0 0M891 867l0 2M897 829l0 0M854 751l0 0M846 832l0 1M806 804l0 0M910 836l0 0M939 846l-1 2M839 777l0 0M888 796l-1 3M868 816l0 0M971 819l1 3M805 840l0 0M839 756l0 0M829 748l0 0M897 832l0 0M953 802l0 0M974 825l0 0M813 823l-1 1M868 759l0 0M932 763l-1 0M947 751l-1 1M929 786l0 0M904 818l0 0M866 825l0 0M965 814l0 0M798 843l3 1M886 845l0 0M935 764l0 0M970 780l0 0M822 747l0 0M881 800l2 1M977 832l0 0M878 830l0 0M861 791l0 0M803 772l0 0M858 778l0 0M957 767l0 0M846 864l0 1M991 750l0 0M971 759l2 2M820 835l0 0M803 814l0 0M912 866l0 0M934 826l-1 2M808 823l0 0M900 832l0 0M984 851l0 0M995 845l-2 1M901 837l0 0M880 763l0 0M942 858l0 0M849 835l0 0M824 809l0 0M985 796l0 0M843 827l0 0M988 847l0 0M966 767l0 0M939 781l0 0M954 772l0 0M864 815l0 0M893 749l0 0M939 791l0 0M830 778l1 1M959 843l0 0M812 782l0 0M905 834l0 0M958 764l0 0M973 843l0 0M836 815l0 0M800 790l0 0M799 769l1 1M951 755l0 0M877 797l0 0M892 826l0 0M821 808l0 2M815 846l2 1M929 782l0 0M975 807l0 0M951 798l0 0M855 785l1 1M855 861l0 0M879 836l1 0M853 857l0 0M882 847l1 1M881 780l-1 2M919 814l0 0M955 754l0 0M865 756l0 0M996 866l0 0M803 794l0 0M942 776l0 0M992 811l0 0M998 818l0 0M989 831l0 0M877 788l0 0M865 797l0 0M811 809l0 0M937 825l0 0M915 859l0 0M822 744l0 0M854 801l0 0M875 765l0 0M852 838l0 0M880 832l0 0M988 792l0 0M813 776l0 0M839 837l0 0M862 769l0 0M880 844l0 0M931 753l0 0M876 841l-2 1M982 751l-1 0M863 759l0 0M992 815l0 0M937 762l0 0M843 786l0 0M855 842l0 0M825 821l0 0M867 780l0 0M953 862l0 0M851 758l0 0M861 838l0 0M803 757l0 0M939 860l0 0M970 762l0 0M853 821l0 0M890 801l0 0M969 811l0 0M896 847l0 0M858 822l1 1M880 840l0 0M915 794l0 0M999 841l2 2M920 774l0 0M960 770l0 0M894 796l0 0M883 859l0 0M857 865l0 0M902 803l0 0M862 812l0 0M907 771l0 0M959 825l0 0M868 837l0 0M884 842l0 0M856 793l-1 0M981 832l0 0M912 814l0 0M925 835l0 0M955 844l0 0M859 840l0 0M799 851l-2 1M990 846l0 0M947 846l0 0M935 847l0 0M840 771l0 0M952 868l0 0M882 864l0 0M863 794l0 0M846 808l0 0M930 774l0 0M830 784l0 0M983 864l0 0M836 768l0 0M930 745l0 0M815 808l0 0M995 809l0 0M925 860l0 0M910 777l0 0M912 810l0 0M968 823l0 0M845 753l0 0M801 855l0 0M838 842l0 0M846 869l0 0M941 808l0 0M966 819l0 0M963 827l0 0M983 747l0 0M894 823l0 0M960 857l0 0M982 844l0 0M858 828l0 0M873 773l0 0M989 828l0 0M823 848l0 0M924 784l0 0M823 805l0 0M968 776l0 0M840 800l0 0M870 852l0 0M957 863l0 0M895 766l0 0M981 785l0 0M961 845l0 0M902 813l0 0M896 863l0 0M900 851l0 1M822 823l0 0M957 799l0 0M985 836l0 0M855 778l0 0M810 862l0 0M972 810l0 0M960 827l0 0M972 805l0 0M889 755l0 0M914 825l0 0M887 862l0 0M805 809l0 0M920 810l0 0M811 866l0 0M916 776l0 0M895 859l0 0M959 848l0 0M997 853l0 0M878 859l0 0M971 745l0 0M936 862l0 0M872 838l0 0M870 835l0 0M809 806l0 0M814 831l0 0M963 823l0 0M842 862l0 0M964 818l0 0M922 843l0 0M893 784l0 0M911 862l0 0M864 745l0 0M939 755l0 0M941 827l0 0M861 797l0 0M923 863l0 0M888 779l0 0M810 746l0 0M961 786l0 0M811 844l0 0M822 854l0 0M980 815l0 0M896 799l0 0M983 847l0 0M928 825l0 0M891 832l0 0M888 759l0 0M892 797l0 0M985 752l0 0M831 793l0 0M956 775l0 0M969 838l2 2M935 779l0 0M996 825l0 0M803 801l0 0M870 848l0 0M999 828l0 0M901 869l0 0M975 863l0 0M888 823l0 0M845 746l0 0M943 813l0 0M818 863l0 0M856 781l0 0M825 866l-3 1M886 757l0 0M828 762l0 0M988 784l0 1M937 842l0 0M915 863l2 1M914 834l0 0M865 840l0 0M998 822l0 0M847 750l0 0M848 823l0 0M981 790l-1 2M926 760l0 0M856 869l0 0M942 805l0 0M822 842l0 0M837 822l0 0M985 805l0 0M906 812l0 2M863 810l0 0M998 838l0 0M975 828l0 0M837 811l0 0M849 842l0 0M865 781l0 0M870 843l0 0M911 759l0 0M919 790l0 0M954 794l0 0M935 754l0 0M999 751l0 0M821 838l0 0M828 745l0 0M850 774l0 0M836 820l0 0M849 869l0 0M844 771l0 0M801 847l0 0M951 846l0 0M991 784l0 0M879 786l0 0M843 763l0 0M904 807l0 0M816 805l0 0M942 816l0 0M842 841l0 0M810 827l0 0M817 825l0 0M902 847l0 0M853 843l0 0M829 821l0 0M889 856l0 0M975 858l0 0M861 805l0 0M953 821l0 0M916 811l0 0M952 791l0 0M954 850l0 0M928 748l0 0M927 753l0 0M876 792l0 0M832 762l0 0M918 823l0 0M872 754l0 0M898 855l0 0M955 825l0 0M984 869l0 0M798 831l0 0M859 810l0 0M847 850l0 0M823 802l0 0M932 823l0 0M833 749l0 0M891 814l0 0M800 765l0 0M1000 868l0 0M829 796l0 0M810 749l0 0M876 812l0 0M869 798l0 0M836 757l0 0M827 777l0 0M997 869l0 0M938 829l0 0M949 868l0 0M903 829l0 0M932 814l0 0M839 797l0 0M866 751l0 0M867 773l0 0M928 830l0 0M905 845l0 0M919 848l0 0M992 849l0 0M805 829l0 0M803 776l0 0M925 838l0 0M810 812l0 0M810 833l0 0M859 784l0 0M802 851l0 0M951 795l0 0M974 803l0 0M975 774l0 0M824 762l0 0M816 829l0 0M858 856l0 0M851 801l0 0M893 770l0 0M942 790l0 0M938 798l0 0M804 823l0 0M965 855l0 0M915 853l0 0M954 865l0 0M994 851l0 0M897 866l0 0M820 846l0 0M897 795l0 0M846 765l0 0M932 750l0 0M962 816l0 0M877 777l0 0M809 753l0 0M986 789l0 0M859 794l0 0M877 748l0 0M805 869l0 0M818 833l0 0M909 768l0 0M862 781l0 0M823 863l0 0M971 864l0 0M846 812l0 0M904 768l0 0M847 772l0 0M849 820l0 0M862 756l0 0M814 773l0 0M851 790l0 0M908 826l0 0M954 800l0 0M984 800l0 0M953 847l0 0M805 790l0 0M814 864l0 0M878 745l0 0M919 826l1 1M995 754l0 0M921 788l0 0M955 783l0 0M972 755l0 0M930 854l2 1M892 803l0 0M931 770l0 0M985 786l0 0M946 756l0 0M831 746l0 0M989 788l0 0M855 825l0 0M949 821l0 0M840 794l0 0M973 782l0 0M1000 837l0 0M801 827l0 0M877 784l0 0M860 760l0 0M959 773l0 0M873 790l0 0M911 826l0 0M832 819l0 0M958 860l0 0M975 810l0 0M882 786l0 0M938 815l0 0M907 837l0 0M865 777l0 0M819 803l0 0M889 783l0 0M871 796l0 0M1000 832l0 0M948 838l0 0M891 821l0 0M922 849l0 0M849 798l0 0M922 846l0 0M984 814l0 0M936 855l0 0M951 746l0 0M798 802l0 0M906 773l0 0M837 795l0 0M969 815l0 0M842 844l0 0M897 837l0 0M983 780l0 0M840 789l0 0M808 830l0 0M840 827l0 0M836 808l0 0M890 750l0 0M833 777l0 0M945 748l0 0M902 821l0 0M809 780l0 0M889 816l0 0M798 828l0 0M977 846l0 0M897 850l0 0M932 776l0 0M913 857l0 0M997 768l0 0M964 804l0 0M927 756l0 0M858 771l0 0M979 747l0 0M873 794l0 0M881 856l0 0M978 764l0 0M886 859l0 0M937 852l0 0M913 745l0 0M825 745l0 0M939 813l0 0M850 751l0 0M995 801l0 0M993 826l0 0M811 858l0 0M968 847l0 0M989 836l0 0M805 825l0 0M973 833l0 0M862 827l0 0M851 826l0 0M856 819l0 0M995 863l0 0M856 811l0 0M913 764l0 0M852 859l0 0M986 832l0 0M846 828l0 0M809 841l0 0M967 761l0 0M911 869l0 0M882 805l0 0M941 852l0 0M862 801l0 0M833 823l0 0M895 826l0 0M866 763l0 0M819 856l0 0M880 862l0 0M868 776l0 0M995 784l0 0M982 803l0 0M956 841l0 0M968 864l0 0M891 858l0 0M799 815l-2 0M940 765l0 0M830 843l0 0M958 796l0 0M859 768l0 0M977 792l0 0M853 755l0 0M864 774l0 0M1000 785l0 0M989 797l0 0M817 821l0 0M874 745l0 0M926 775l0 0M873 869l0 0M971 776l0 0M799 756l0 0M940 787l0 0M970 844l0 0M873 851l0 0M947 745l0 0M896 812l0 0M999 753l0 0M988 869l0 0M886 753l0 0M954 817l0 0M850 852l0 0M847 762l0 0M909 809l0 0M935 843l0 0M920 851l0 0M842 773l0 0M931 768l0 0M970 834l0 0M870 832l0 0M906 766l0 0M980 782l0 0M806 755l0 0M814 770l0 0M995 776l0 0M989 808l0 0M841 754l0 0M866 748l0 0M866 815l0 0M954 797l0 0M943 829l0 0M945 819l0 0M881 808l0 0M894 868l0 0M834 853l0 0M812 805l0 0M852 794l0 0M925 757l0 0M928 762l0 0M853 774l0 0M948 803l0 0M978 751l0 0M859 787l0 0M916 836l0 0M920 801l0 0M846 769l0 0M991 757l0 0M944 792l0 0M893 800l0 0M905 831l0 0M868 850l0 0M880 827l0 0M909 812l0 0M877 869l0 0M833 757l0 0" stroke-width="3.2"/><path d="M831 858l0 3M919 748l2 1M825 794l-1 2M960 833l0 2M873 865l3 0M956 747l0 1M886 819l0 0M987 865l5 1M834 753l0 0M869 792l1 0M999 864l0 0M947 790l0 1M975 778l0 0M987 843l-2 1M870 767l-4 2M915 868l0 1M964 848l0 0M925 788l0 0M904 840l-3 2M951 750l0 0M997 857l2 0M845 758l-3 1M971 787l-1 0M898 803l-3 3M884 790l-4 1M843 836l3 3M992 860l0 0M828 753l0 0M839 803l-1 0M933 851l0 0M950 842l0 0M805 861l1 3M813 835l-2 3M863 766l0 0M894 744l-2 1M849 746l4 0M840 808l0 0M801 819l1 0M853 829l1 1M880 851l0 0M949 850l0 0M856 763l2 1M962 799l0 0M991 754l0 0M886 867l0 0M815 746l0 0M822 858l0 1M891 764l0 2M911 791l0 0M994 805l0 0M841 848l-1 3M893 777l-2 1M940 821l2 1M936 805l1 0M901 797l0 0M935 867l0 1M910 764l0 0M856 758l0 0M978 803l0 0M984 792l0 0M860 816l0 0M939 856l0 0M848 755l0 0M999 812l-2 2M960 852l1 1M899 809l0 0M858 802l0 2M935 810l0 0M999 797l0 0M931 758l2 0M837 773l0 0M820 819l0 0M935 834l0 0M992 797l0 0M835 826l0 0M892 810l0 0M827 758l3 1M800 752l0 0M918 805l0 0M951 787l0 0M851 762l0 0M818 851l0 0M928 813l0 0M909 817l0 0M958 802l0 0M816 859l0 0M975 746l0 0M891 862l0 0M857 797l0 0M913 850l0 0M940 802l0 0M881 867l0 0M964 789l0 0M952 780l0 0M994 759l0 0M886 814l0 0M885 783l1 1M935 839l0 0M884 837l0 0M842 767l0 0M954 837l0 0M967 746l0 0M967 784l0 0M941 795l0 0M971 859l0 0M869 745l0 0M964 867l0 0M920 837l0 0M831 869l0 0M942 833l-1 2M856 775l0 0M881 813l0 0M875 834l0 0M930 779l0 0M968 803l0 0M909 847l0 0M973 765l0 0M841 869l0 0M867 846l0 0M962 745l0 0M998 807l0 0M916 829l0 0M943 849l0 0M798 860l0 1M999 847l0 0M850 848l0 0M859 860l0 0M988 746l0 0M818 773l0 0M999 802l0 0M881 796l0 0" stroke-width="4.4"/><path d="M836 857l0 2M952 765l-3 1M943 759l-2 1M921 751l1 3M949 827l1 3M948 832l1 1M955 829l-2 1M856 850l-1 3M898 785l1 1M923 817l0 0M928 819l0 1M922 819l0 4M818 796l2 3M964 840l1 2M963 752l1 3M965 757l0 0M963 753l3 2M821 828l1 3M832 834l-2 3M978 797l1 0M893 853l0 1M900 770l-2 1M900 860l-1 1M957 788l1 3M835 846l-1 2M971 798l0 0M957 868l2 2M873 759l0 0M946 797l-1 1M851 864l2 1M944 841l0 0M977 836l1 5M807 774l1 1M936 784l0 0M976 785l0 2M913 771l-1 1M994 831l0 3M876 855l0 0M889 848l0 0M839 782l0 0M958 820l-1 1M914 820l0 0M866 803l0 0M948 861l0 1M817 813l-2 1M885 763l0 0M991 854l0 0M929 834l0 0M964 795l2 1M894 842l0 0M930 860l-1 4M919 857l1 1M977 755l0 0M846 845l0 0M969 829l1 0M989 802l1 1M857 835l0 0M954 855l0 2M844 801l0 1M981 808l-2 1M917 798l0 0M851 806l-1 2M941 866l0 0M798 761l2 0M988 812l0 0M994 840l0 0M890 788l0 0M893 837l0 0M876 847l0 0M864 854l-2 2M880 755l0 0M872 750l0 0M962 763l0 0M901 825l0 0M894 792l0 0M973 750l0 0M979 850l0 0M924 854l0 0M900 745l0 0M885 854l0 0M824 774l0 0M997 780l5 0M923 829l-2 2M888 840l0 0M970 868l0 1M798 797l0 0M837 762l0 0M994 821l0 0M975 816l1 3M818 868l0 0" stroke-width="5.6"/><path d="M980 770l2 3M983 769l1 1M989 774l-1 4M947 771l3 3M922 749l-1 1M923 795l1 0M902 753l-1 0M871 808l-1 3M952 808l3 1M949 814l0 1M960 809l-4 1M825 790l0 1M885 828l0 1M819 767l2 1M925 820l0 0M807 798l0 0M819 798l0 0M967 753l-6 4M873 824l0 4M866 863l2 2M963 777l-4 3M884 747l-1 1M906 853l1 5M865 820l0 0M913 842l3 2M830 768l-1 2M965 861l-1 1M846 778l3 7M828 852l0 0M805 749l0 0M865 787l0 0M928 843l0 3M994 744l2 3M801 807l-4 3M972 851l-2 2M851 768l2 0M937 769l-1 4M818 780l0 0M1001 773l0 0M846 857l-2 0M906 866l0 0M837 744l3 4M899 817l0 0M946 855l0 0M944 781l0 0M809 817l0 0M935 742l4 6M807 854l0 0M915 786l0 0M887 806l0 0M806 846l0 0M825 782l0 0M910 831l0 0M970 771l0 0M803 834l-4 3M872 779l0 0M923 869l0 0M851 815l0 0M832 799l-3 3M921 780l0 0M816 841l0 0M935 819l0 0M1001 758l-2 6M907 745l0 0M839 831l0 0M798 746l0 0" stroke-width="7.2"/><path d="M831 861l5 2M950 829l0 1M860 847l-1 1M903 779l0 3M906 785l-2 5M963 835l-1 1M871 861l-1 2M829 834l3 4M981 857l0 1M986 820l-5 6M842 817l1 4M995 790l2 1M860 749l0 0M977 869l0 0M798 781l6 3M831 812l-5 4M846 793l0 0M920 762l5 7M800 868l0 0M908 799l1 3M878 770l7 2M864 833l0 0M835 789l0 0" stroke-width="8.8"/><path d="M984 761l6 9M951 762l-5 8M920 750l-7 2M932 794l-5 10M897 755l5 4M906 784l-5 1M874 804l1 1M949 810l7 1M876 820l3 1M827 829l2 6" stroke-width="10.8"/><path d="M819 755l-9 9M814 790l-3 7" stroke-width="13.2"/></g></g></g>
<clipPath id="cp01"><rect x="501.1" y="377.2" width="91" height="52.4"/></clipPath>
<g clip-path="url(#cp01)"><g filter="url(#disp01)"><rect x="498.1" y="374.2" width="97.0" height="58.4" fill="#9466c2"/><g transform="scale(0.5)" stroke="#fff" stroke-linecap="round" fill="none"><path d="M1096 823l1 1M994 855l2 1M1156 784l0 1M1132 757l0 0M1061 825l-1 0M1022 815l0 0M1073 851l0 0M1160 757l0 0M1122 795l0 2M1032 823l-1 1M1043 806l2 1M1135 810l0 0M1107 756l0 0M1082 854l2 0M992 765l1 1M1076 778l0 0M1131 789l-1 0M1088 857l0 0M1182 796l0 0M1008 866l1 3M1154 806l0 3M1140 801l0 1M1140 751l0 0M1022 793l0 0M1093 834l0 0M1030 791l0 0M1042 857l0 0M1083 801l0 0M1123 866l0 0M1052 806l2 1M1082 836l1 2M993 782l0 0M1107 762l0 0M1127 791l0 0M1104 777l-2 0M1042 766l1 1M1068 809l0 0M1016 780l0 0M1022 867l0 0M1024 820l1 3M1190 849l0 0M1081 812l0 0M1085 763l0 0M1175 818l0 0M1167 760l0 0M1138 824l1 2M1148 867l0 0M1039 787l-1 1M1149 830l0 0M1156 747l0 1M1022 780l0 0M1180 805l0 0M1045 847l0 0M1194 799l-1 1M1062 747l-2 1M1036 826l-1 2M1035 832l0 0M1144 749l0 1M1057 750l0 0M1102 752l0 0M1004 811l2 2M1163 840l-1 2M994 835l0 0M1143 812l0 0M1065 813l0 0M1113 765l0 0M1186 829l0 0M1046 785l0 0M1188 745l0 0M1125 869l0 0M1107 867l0 0M1134 745l0 0M1066 770l0 1M1159 778l-1 1M1129 764l0 0M1120 854l0 0M1103 773l0 0M1048 829l0 0M1065 795l0 0M1028 832l0 0M1060 798l3 1M1040 759l0 0M1081 752l0 0M1158 843l0 0M1091 809l0 0M999 795l0 0M1059 780l3 1M1142 827l0 0M1059 756l2 0M1004 855l0 0M1105 780l-2 0M1067 826l0 0M1169 849l-1 1M1168 795l0 0M1079 782l0 0M1029 781l0 0M1018 784l0 2M1073 800l0 0M1019 802l0 0M1098 799l0 0M1042 836l0 0M1112 857l1 0M1184 794l0 0M1128 796l0 0M1091 824l0 0M1028 752l2 1M1174 834l0 0M1166 847l-1 1M1079 822l0 0M1159 748l0 0M1024 786l1 0M1187 804l0 0M1056 850l0 0M1144 852l0 0M1155 836l0 0M1188 796l1 0M1005 820l0 0M1183 842l0 0M1001 839l0 0M1038 796l0 0M1173 745l0 0M1164 760l0 0M1189 793l0 0M1178 775l0 0M1098 818l0 0M1016 747l2 0M1164 795l0 0M1171 828l0 0M1174 822l0 0M1099 774l0 0M1161 776l0 0M1162 853l0 2M1009 831l0 0M1186 841l0 0M1173 774l1 0M1123 789l0 0M1063 837l0 0M1122 814l0 0M1055 785l0 0M1050 790l0 0M1060 772l0 0M1147 763l0 0M992 794l1 1M996 765l0 1M1079 837l0 0M1148 814l0 0M1141 783l-1 0M1119 839l0 0M1026 865l0 0M1138 773l0 0M1161 754l0 0M1059 812l0 0M1109 854l0 0M1170 758l0 0M1121 842l0 0M1192 836l3 0M1077 805l0 0M1130 845l-1 0M1069 766l0 0M1135 826l0 0M1144 807l0 0M1113 815l0 0M1187 778l0 0M1050 778l0 0M1057 854l0 0M1093 756l0 0M1193 761l0 0M1008 765l0 0M1128 853l0 0M1111 834l0 0M1029 822l0 0M1028 768l-1 1M1188 836l0 1M1089 754l0 0M993 807l0 0M1112 791l0 0M1147 809l0 0M1056 778l0 0M1159 768l0 0M1047 788l0 0M1135 843l0 0M1194 790l-1 1M1169 799l1 0M1085 835l0 0M1048 781l0 0M1024 801l0 0M1092 785l0 0M1192 854l0 0M1147 750l0 0M1007 803l0 0M1042 750l0 0M1135 772l-1 1M1056 826l0 0M1115 836l0 0M1109 764l0 0M1112 861l0 0M1165 837l0 0M1176 863l0 0M1150 777l0 0M1088 757l0 0M993 761l0 0M1114 782l0 0M1007 781l0 0M1187 832l0 0M1073 771l0 0M1039 820l0 0M1165 778l0 0M1045 810l0 0M1157 775l0 0M1111 864l0 0M1003 827l0 0M1004 840l0 0M1097 770l0 0M1086 861l0 0M1186 783l-1 0M1108 851l0 0M1152 842l0 0M1143 763l0 0M1167 839l0 0M1157 811l0 0M1004 744l1 2M1105 858l2 2M1193 850l0 1M1042 851l1 0M1155 867l0 0M1110 820l0 0M1119 747l0 0M1134 789l0 0M1048 851l0 0M1124 857l0 0M1132 831l0 0M1052 782l0 0M1037 782l0 0M1090 761l0 0M1026 827l0 0M1041 845l0 0M1076 840l0 0M1006 852l0 0M1078 852l0 0M1039 840l0 0M1179 770l0 0M1112 867l0 0M1159 839l0 0M1063 841l0 0M1190 782l0 0M1008 748l0 0M1089 831l0 0M1081 807l0 0M1093 771l0 0M1008 761l0 0M1176 827l0 0M996 866l0 0M1135 777l0 0M1073 767l0 0M1071 752l0 0M1076 782l0 0M1083 859l0 0M1118 803l0 0M1049 757l0 0M1039 824l0 0M1172 824l0 0M1002 865l0 0M1041 799l0 0M1092 797l0 0M1146 849l0 0M1077 755l0 0M1099 802l0 0M1069 756l0 0M1013 863l0 0M1086 821l0 0M1090 783l0 0M1149 827l1 0M1135 755l0 0M1101 805l0 0M1185 798l0 0M1105 751l0 0M1068 837l0 0M1103 859l0 0M1022 856l0 0M1000 869l0 0M1042 777l0 0M1067 781l0 0M1173 845l0 0M1111 812l0 0M1052 827l0 0M1170 813l1 1M1071 841l0 0M1000 820l0 0M1121 787l0 0M1100 861l0 0M1052 787l0 0M992 757l0 0M993 838l0 0M1089 835l0 0M1115 809l0 0M1095 787l0 0M1074 753l0 0M1159 833l0 0M1131 848l0 0M1120 750l0 0M1138 754l0 0M1155 777l0 0M1164 833l0 0M1012 771l1 0M1003 766l0 0M1134 861l0 0M1120 834l0 0M1131 795l0 0M1092 801l0 0M1107 834l0 0M1155 799l0 0M1128 751l0 0M1114 745l0 0M1037 838l0 0M1140 796l0 0M1093 811l0 0M1063 810l0 0M1078 830l0 0M1112 779l0 0M1126 817l0 0M1149 847l0 0M1034 804l0 0M1110 773l1 1M1152 779l0 0M1005 816l0 0M1133 768l0 0M1173 863l0 0M996 853l0 0M1028 756l0 0M997 784l0 0M1138 859l0 0M1162 763l0 0M1026 782l0 0M1116 806l0 0M1174 831l0 0M1162 773l0 0M1189 800l0 0M1010 750l0 0M1081 764l0 0M1045 866l0 0M1172 840l0 0M1098 834l0 0M1143 822l0 0M1009 813l0 0M1159 752l0 0M1138 785l0 0M1070 799l0 0M1159 799l0 0M1014 792l0 0M1056 863l0 0M1014 774l0 0M1067 792l0 0M1063 822l0 0M1105 845l0 0M1077 818l0 0M1154 752l0 0M997 838l0 0M1000 857l0 0M1107 854l0 0M1038 779l0 0M1013 746l-1 0M1113 819l0 0M1145 746l0 0M1032 834l0 0M1192 785l0 0M1111 828l-2 1M1068 806l0 0M1056 822l0 0M1172 858l0 0M1151 810l0 0M1114 790l0 0M996 795l0 0M1041 763l0 0M1159 864l0 0M1045 869l0 0M1106 820l0 0M1163 801l0 0M1088 828l0 0M1063 777l0 0M1190 763l0 0M1078 752l0 0M1166 827l0 0M1115 823l0 0M1091 780l0 0M1170 761l0 0M1036 822l0 0M1171 803l0 0M1077 797l0 0M1145 753l0 0M1016 857l0 0M1030 864l0 0M1160 773l0 0M1069 844l0 0M1124 750l0 0M1043 787l0 0M1132 818l0 0M1144 817l0 0M1165 845l0 0M1032 838l0 0M1113 823l0 0M1017 805l0 0M1177 805l0 0M1118 856l0 0M1012 777l0 0M1140 805l0 0M998 762l0 0M1079 794l0 0M1124 800l0 0M1131 855l0 0M1146 825l0 0M1032 765l0 1M1048 808l0 0M1133 786l0 0M1183 838l0 0M1103 748l0 0M1167 815l0 0M1000 853l0 0M1167 785l0 0M1174 802l0 0M1147 788l0 0M1162 767l0 0M1162 792l0 0M1191 770l0 0M1005 779l0 0M1122 832l0 0M1099 783l0 0M993 790l0 0M1167 792l0 0M1039 805l0 0M995 786l0 0M1040 745l0 0M1152 845l0 0M1010 756l0 0M1094 843l0 0M1117 784l0 0M1144 785l0 0M1106 786l0 0M1062 768l0 0M1107 777l0 0M1077 868l0 0M1012 754l0 0M1175 858l0 0M1055 812l0 0M1025 830l0 0M1038 846l0 0M1177 809l0 0M1191 745l0 0M1018 751l0 0M1071 852l0 0M993 841l0 0M1067 746l0 0M1179 785l0 0M1101 819l0 0M1037 768l0 0M1094 854l0 0M1182 804l0 0M1031 831l0 0M1124 824l0 0M1134 868l0 0M1067 841l0 0M1134 794l0 0M1008 794l0 0M1183 785l0 0M1006 762l0 0M1184 801l0 0M1071 803l0 0M1161 837l0 0M1179 803l0 0M1071 836l0 0M1073 782l0 0M1039 833l0 0M1127 761l0 0M1070 769l0 0M1070 848l0 0M1113 825l0 0M998 770l0 0M1162 778l0 0M1159 795l0 0M1125 811l0 0M1087 848l-1 1M1025 751l0 0M1003 763l0 0M1022 812l0 0M1190 766l0 0M1191 815l0 0M1060 808l0 0M1030 763l0 0M1131 835l0 0M1164 757l-1 0M997 809l0 0M1133 858l0 0M1173 850l0 0M1026 764l0 0M1101 770l0 0M1103 801l0 0M1029 758l0 0M1125 842l0 0M1065 826l0 0M1136 787l0 0M1167 763l0 0M1014 783l0 0M1018 795l0 0M1085 798l0 0M1125 795l0 0M1146 856l0 0M1072 763l0 0M1095 846l0 0M1038 869l0 0M1152 826l0 0M1116 819l0 0M1010 769l0 0M1142 754l0 0M1160 807l0 0M1045 777l1 1M1108 782l-1 1M1028 785l0 0M1160 771l0 0M1080 748l0 0M1083 850l0 0M1166 824l0 0M1059 850l0 0M1098 805l0 0M1116 762l1 1M1020 868l0 0M1108 864l0 0M1066 823l0 0M1087 824l0 0M1109 869l0 0M1130 869l0 0M1057 806l0 0M1039 791l0 0M1176 787l0 0M1032 756l0 0M1166 780l0 0M1072 807l0 0M1000 766l0 0M1155 781l0 0M1129 793l0 0M1134 850l0 0M1003 777l0 0M1069 773l0 0M1171 764l0 0M1080 833l0 0M1070 778l0 0M1158 820l0 0M1137 779l0 0M1164 823l0 0M1121 803l0 0M1014 749l0 0M1159 869l0 0M1073 774l0 0M1117 745l0 0M1028 868l0 0M1006 850l0 0M1173 811l0 0M1006 828l0 0M1141 776l0 0M1103 864l0 0M1173 748l0 0M1169 867l0 0M1147 791l0 0M1044 775l0 0M1005 800l0 0M1150 767l0 0M1016 772l0 0M1137 797l0 0M1194 782l0 0M1009 853l0 0M1131 852l0 0M1058 745l0 0M1135 782l0 0M1137 807l0 0M1167 810l0 0M1173 760l0 0M1174 756l0 0M1105 828l0 0M1181 844l0 0M1105 765l0 0M1094 848l0 0M1157 756l0 0M1022 829l0 0M1185 778l0 0M1022 789l0 0M1149 752l0 0M1107 838l0 0M1161 850l0 0M1191 803l0 0M1080 849l0 0M1108 803l0 0M1003 858l0 0M1076 850l0 0M1082 862l0 0M1064 830l0 0M1031 828l0 0M1008 810l0 0M1192 796l0 0M1068 748l0 0M1127 814l0 0M996 869l0 0M1145 829l0 0M1081 804l0 0M1168 869l0 0M1048 869l0 0M1058 775l0 0M1041 848l0 0M1117 843l0 0M1007 758l0 0M1032 781l0 0M1054 790l0 0M1151 814l0 0M1063 771l0 0M1025 817l0 0M1187 807l0 0M1104 784l0 0M1073 839l0 0M1005 846l0 0M1022 749l0 0M1165 852l0 0M1159 851l0 0M1060 821l0 0M1185 823l0 0" stroke-width="3.2"/><path d="M1057 845l0 1M1000 848l1 1M1096 824l-1 0M1092 790l0 1M1059 836l-1 1M1056 830l-3 2M1154 861l-1 2M1131 799l-2 1M1037 755l-1 0M1034 749l-1 2M1004 783l0 1M1143 842l0 0M1136 749l-2 2M1156 824l0 0M1020 862l2 1M1091 775l2 2M1044 823l2 1M1073 757l0 1M1043 781l0 2M1019 777l0 0M1103 832l0 0M1127 821l0 0M1053 755l0 1M1043 793l0 0M1025 792l0 1M1105 815l0 1M1034 761l2 1M1077 845l-3 0M1182 808l0 0M1006 807l0 0M1164 748l4 0M1168 775l0 0M1142 759l-3 0M1053 858l2 1M1157 847l3 1M1169 831l0 0M1116 829l2 1M1096 758l0 0M1081 797l0 0M1171 836l0 0M1109 789l0 0M1158 804l0 0M1021 797l0 0M1003 758l0 0M1004 795l0 0M1122 828l0 0M997 790l0 0M1090 852l-1 0M1004 868l0 0M1111 807l0 0M1058 759l0 0M1119 825l0 0M1032 796l2 1M1066 802l-3 3M1182 774l0 0M1007 861l0 0M1020 772l0 0M1030 801l0 0M1085 754l0 0M1174 854l0 0M1056 802l0 0M1091 846l0 0M1120 820l0 0M1122 838l2 1M1018 791l0 0M1176 814l0 0M1048 772l1 2M1152 756l0 0M1171 807l3 0M1168 856l0 0M1194 766l0 0M1112 769l0 0M1067 775l0 0M1044 760l0 0M1174 752l0 0M1134 822l0 0M1160 783l0 0M1106 769l0 0M1177 839l1 2M1155 841l0 0M1119 791l0 0M1176 763l0 0M1105 805l0 0M1089 799l0 0M1140 808l0 0M1044 746l0 0M1038 801l0 0M1112 785l0 0M1053 816l0 0M1169 845l0 0M1147 757l0 0M1132 814l0 0M1144 795l0 0M1025 746l0 0M1096 781l0 0M1002 808l0 0M1052 853l0 0M1146 863l0 0M1139 767l0 0M1008 775l0 0M1173 867l0 0M1108 811l0 0M1130 841l0 0M1077 801l0 0M1027 797l0 0M1121 760l0 0M1011 780l0 0M1194 750l0 0M1141 746l0 0M1163 788l0 0M1189 811l0 0M1044 755l0 0M1047 854l0 0M1093 806l0 0M1035 792l0 0M1101 757l0 0M1148 859l0 0M992 868l0 0" stroke-width="4.4"/><path d="M1050 846l1 1M1049 843l0 3M1065 864l-3 3M1185 762l-3 2M1189 754l1 3M1037 809l-2 1M1039 811l-1 1M1029 814l3 3M1100 825l-4 0M1084 787l-2 2M1048 800l1 0M1060 831l1 2M1117 774l0 1M1141 846l-1 2M1106 744l4 2M1077 762l0 0M1188 818l0 0M1004 770l-1 1M1058 765l-2 6M1130 827l-1 0M1098 866l5 4M1112 761l0 0M1034 843l0 0M1183 813l0 0M1083 844l0 1M1067 833l0 0M1088 805l-2 1M1168 862l-4 4M1118 814l0 0M1041 862l-2 3M1169 767l-3 3M1082 867l0 1M1048 814l-3 2M1178 745l0 0M1050 836l0 0M1087 768l0 0M1034 868l0 0M1091 839l-1 1M1062 817l0 0M999 861l-6 0M1117 866l1 4M1150 834l0 2M1130 747l0 0M1168 820l0 0M1155 830l0 0M1124 850l0 0M993 820l1 1M1113 802l0 0M1018 811l0 0M1108 824l0 0M1115 796l0 0M1094 861l0 0M1054 867l-1 1M1033 785l0 0M999 824l0 0M1192 776l0 1M1083 825l1 1M1193 831l0 0M1166 804l-1 2M1101 810l0 0M1101 788l0 0M997 757l0 0M1135 763l0 0M1012 807l0 0M1142 789l-2 1M1127 834l0 0M1158 790l-5 1M1075 834l0 0M1174 770l0 0M1097 814l0 0M1142 859l0 0M1087 746l-1 1M1125 755l1 1M1136 854l0 0M1011 858l0 0M1119 861l0 0M1051 821l0 0M1163 819l0 0M993 814l0 0M1082 818l0 0M1163 812l0 0M1047 750l0 0M1015 868l0 0M1044 841l0 0M1181 791l0 0M1122 808l0 0M1193 807l-1 0M1047 861l0 0M1155 816l0 0M1040 771l0 0M995 828l0 0M1194 819l0 0M1167 754l0 0M1000 814l0 0M1151 784l0 0" stroke-width="5.6"/><path d="M1020 757l2 3M1019 765l-2 1M1073 864l0 0M994 846l0 2M1185 750l-2 0M1072 817l-3 0M1180 860l2 1M1047 800l-1 1M1084 778l0 2M1056 833l0 1M1128 782l-2 1M1119 774l1 4M1129 806l-1 1M1133 800l-2 4M1031 748l5 5M1161 827l0 0M1181 819l0 6M1100 764l-5 2M1144 771l-1 0M1145 780l0 0M1128 861l0 2M1117 850l-3 1M1190 825l0 0M1053 746l-1 0M1097 794l0 0M1064 847l0 0M1060 788l0 3M1023 806l0 0M1154 771l0 0M994 749l3 0M1185 846l0 0M1138 815l0 0M1172 782l0 0M1182 833l0 0M1005 752l0 0M1043 830l0 0M1081 758l0 0M1194 844l0 0M1180 780l0 0M1088 813l2 5M1178 849l0 0M1112 840l-2 3M1123 745l0 0M1068 786l0 0M1050 763l-1 0M1099 850l1 4M1072 794l0 0M1149 797l-1 5M1076 786l0 0M1187 788l0 0M1064 752l0 0M1151 745l0 0M1186 770l0 0" stroke-width="7.2"/><path d="M1054 843l0 1M1020 756l-3 1M1064 857l-1 4M998 845l1 0M1075 811l-5 7M1099 827l-4 1M1087 789l0 2M1079 771l5 7M1152 852l3 6M1132 802l-3 1M1003 787l7 1M1145 842l-5 5M1001 833l0 0M1012 799l0 0M1113 754l1 1M1000 801l-3 1M1154 763l2 0M1100 840l1 0M1172 791l4 6M1033 774l-6 0M1140 866l3 6M1089 867l0 0M1149 820l0 0M1096 742l-2 7M1141 833l-4 3M994 774l2 3M1073 745l0 1M1107 796l1 0M1073 826l0 0M1179 868l0 0M1065 761l0 0" stroke-width="8.8"/><path d="M1018 760l-2 1M1032 812l4 1M1184 857l9 8M1051 796l-2 2" stroke-width="10.8"/><path d="M1074 859l-6 5M1183 754l-1 3M1122 769l5 10" stroke-width="13.2"/><path d="M1014 822l0 0M1032 854l0 0" stroke-width="16.0"/><path d="M1018 842l0 0" stroke-width="24.0"/></g></g></g>
<text x="401.2" y="407.2" font-size="10" text-anchor="end" font-weight="normal" font-style="normal" fill="#1a1a1a" >Vehicle</text>
<clipPath id="cp10"><rect x="404" y="436.2" width="91.3" height="51.8"/></clipPath>
<g clip-path="url(#cp10)"><g filter="url(#disp10)"><rect x="401" y="433.2" width="97.3" height="57.8" fill="#996ec6"/><g transform="scale(0.5)" stroke="#fff" stroke-linecap="round" fill="none"><path d="M886 970l-2 1M996 866l2 0M843 943l0 0M851 952l-2 1M993 980l0 1M918 887l-2 1M823 889l0 0M816 960l0 0M840 950l1 1M898 933l0 1M810 870l0 0M835 968l0 1M948 949l0 1M914 936l0 0M936 933l0 0M836 960l0 0M942 935l0 0M929 877l1 1M820 951l0 0M933 954l1 2M903 881l0 0M925 895l0 0M825 922l0 0M807 982l-1 0M843 875l-3 1M976 921l1 1M831 914l0 0M882 942l0 2M831 921l0 0M814 913l0 0M857 882l-1 2M976 879l0 0M827 964l2 1M985 917l0 2M993 921l0 0M974 895l0 0M871 957l0 1M932 960l3 1M992 896l-1 2M803 971l0 0M942 932l-2 0M930 867l0 0M865 953l-1 0M999 881l-1 0M888 956l1 0M891 904l0 0M845 940l0 0M897 953l-1 0M823 947l0 0M861 893l-1 1M986 910l-2 1M891 910l2 2M817 915l0 0M856 923l0 0M980 979l0 0M887 888l-1 2M908 902l0 2M833 946l-1 3M885 953l0 0M871 933l-2 0M919 869l0 0M957 877l1 1M934 975l0 0M829 949l-1 1M885 918l-1 1M804 863l0 0M946 963l-3 1M979 938l0 1M900 880l0 0M865 957l0 0M927 933l-2 1M833 976l0 0M866 975l0 0M907 933l-1 1M846 884l-1 1M980 906l0 0M991 937l0 0M868 936l0 0M818 894l0 0M902 877l0 0M889 893l0 0M980 900l0 0M886 893l0 0M807 956l-2 1M820 976l0 0M956 949l1 0M961 947l0 0M900 963l-1 1M819 913l0 0M883 947l0 0M917 976l0 0M964 905l0 0M894 977l2 1M910 968l0 0M850 976l1 1M903 964l0 0M891 900l0 0M857 929l-2 1M874 931l0 0M857 878l2 1M912 889l-1 0M870 939l1 1M957 890l0 0M966 920l0 0M852 938l1 1M949 983l0 0M982 958l0 0M998 889l0 0M907 894l1 2M980 942l-1 0M876 867l-1 0M983 873l0 0M872 869l-1 1M913 893l0 0M947 890l0 0M804 943l0 0M852 929l0 0M822 973l0 0M908 872l1 1M953 932l0 0M900 884l0 0M848 933l-2 0M989 907l0 0M938 916l0 0M955 933l0 0M884 870l0 0M984 969l2 1M850 871l0 1M886 866l0 0M953 982l2 2M973 945l0 1M805 975l0 0M935 945l0 0M833 907l0 0M962 877l0 0M816 926l0 0M947 906l2 2M828 917l0 0M884 939l0 0M998 908l0 0M874 908l0 0M959 983l0 0M842 888l0 0M918 913l0 0M802 881l0 0M933 886l0 0M806 969l0 0M854 933l0 0M987 947l-1 2M812 946l-1 0M923 896l0 0M881 946l0 0M857 865l0 0M907 868l0 0M827 891l0 0M855 911l0 0M873 950l0 0M981 968l0 0M841 956l0 0M893 868l0 0M804 917l0 0M964 924l-1 0M817 931l0 0M989 968l0 0M817 948l0 0M921 970l0 1M953 929l0 0M877 943l0 0M821 934l0 2M886 937l0 0M952 871l0 0M894 944l-2 1M999 884l-1 1M895 894l-1 1M848 889l0 0M948 871l0 0M939 954l0 0M943 881l0 0M824 956l-1 1M883 895l0 0M850 970l0 0M856 869l0 0M845 878l0 0M939 887l0 0M993 917l0 0M877 902l1 0M908 888l0 0M956 899l0 0M1000 922l-2 1M975 935l0 0M970 874l0 0M1000 956l0 0M836 948l0 0M810 922l0 1M967 927l0 0M911 867l0 0M991 984l0 0M851 935l0 0M940 938l0 0M909 899l0 0M806 959l0 0M910 941l0 0M904 955l0 0M876 871l0 0M897 966l0 0M889 864l0 0M798 964l0 0M834 934l0 0M860 869l0 0M907 948l0 2M832 901l1 1M973 875l0 0M940 905l-1 1M941 910l0 0M931 977l0 0M906 941l0 0M899 969l0 0M984 863l0 0M871 866l0 0M912 863l0 0M811 942l0 0M944 874l0 0M884 878l1 2M974 863l1 0M863 951l0 0M977 924l0 0M922 935l0 0M901 951l0 1M810 984l-2 0M959 869l0 0M990 949l0 0M844 892l-1 0M971 868l0 0M963 949l-2 1M997 973l0 0M980 961l1 1M961 930l0 0M844 929l0 0M836 972l0 0M881 880l0 0M903 915l0 0M988 866l0 0M998 872l0 0M941 877l0 0M931 949l0 0M898 937l0 0M959 937l0 0M899 958l0 0M952 922l0 0M837 902l0 0M995 879l0 0M997 964l0 0M841 866l0 0M946 926l0 0M926 929l0 0M955 880l0 0M995 898l0 0M928 919l0 0M826 953l0 0M830 970l1 0M841 960l0 0M920 934l0 0M889 930l0 0M855 919l0 0M870 961l0 0M901 965l0 0M904 939l0 0M825 937l0 0M891 981l0 0M858 898l0 0M805 906l0 0M822 966l0 1M994 975l0 0M907 965l0 0M831 964l0 0M890 959l0 0M886 933l0 0M950 965l0 0M918 879l0 0M998 957l0 0M928 938l0 0M901 979l0 0M914 865l0 0M922 938l0 0M975 969l0 0M949 914l1 2M874 913l0 0M825 914l0 0M831 930l0 0M914 977l0 0M894 963l0 0M954 900l0 0M943 877l0 0M860 916l0 0M873 902l0 0M930 952l0 0M821 927l0 0M934 984l0 0M852 898l1 0M916 864l0 0M993 940l0 0M961 897l0 0M834 940l0 0M935 969l0 0M895 891l-1 1M968 937l0 0M824 910l0 0M978 927l0 0M797 887l2 0M912 951l0 0M862 889l0 0M986 906l0 0M906 945l0 0M827 910l0 0M807 922l0 0M984 869l0 0M863 904l0 0M802 886l0 2M805 889l0 0M864 938l0 0M802 869l0 0M866 927l0 0M820 872l0 0M842 933l0 0M855 916l0 0M888 886l0 0M895 885l0 0M925 943l0 0M891 932l1 0M869 982l0 0M998 946l0 0M914 870l0 1M996 983l0 0M806 939l0 0M962 982l0 0M920 984l0 0M830 954l0 0M985 872l0 0M903 896l0 0M925 919l0 0M972 892l0 0M950 873l0 0M903 931l0 0M934 902l0 0M951 960l0 0M860 863l0 0M876 953l0 0M903 946l0 0M866 969l0 0M894 931l0 0M967 923l0 0M943 985l0 0M878 974l0 0M825 917l0 0M960 901l0 0M996 884l0 0M893 985l0 0M859 912l0 0M866 892l0 0M918 892l1 0M982 916l0 0M867 900l0 0M873 887l0 0M886 875l0 0M826 971l0 0M816 944l0 0M806 965l0 0M948 922l0 0M817 937l0 0M886 980l0 0M927 923l0 0M900 943l0 0M863 924l0 0M972 909l0 0M917 985l0 0M850 930l0 0M849 901l-1 0M865 978l0 0M828 900l0 0M897 889l0 0M843 868l0 0M839 890l0 0M916 909l0 0M831 926l0 0M895 959l0 0M962 977l0 0M975 908l0 0M900 900l0 0M985 880l0 0M888 944l-1 1M812 916l0 0M975 963l0 0M999 876l0 0M926 892l0 0M820 920l0 0M816 885l0 0M916 932l0 0M901 893l0 0M925 965l0 0M911 935l0 0M904 892l0 0M829 876l0 0M934 876l0 0M841 941l0 0M999 943l0 0M863 881l0 0M816 907l0 0M806 985l0 0M984 941l1 1M881 925l-1 0M952 877l0 0M897 869l0 0M890 913l0 0M854 863l0 0M868 963l0 0M867 980l0 0M831 910l0 0M841 945l0 0M983 965l2 1M886 922l0 0M912 931l0 0M920 890l0 0M819 864l0 0M931 923l0 0M831 943l0 0M900 934l0 0M939 864l0 0M920 906l0 0M913 874l0 0M974 966l0 0M949 882l0 0M941 957l0 0M817 898l0 0M831 957l0 0M937 985l0 0M807 924l0 0M879 885l0 0M801 948l0 0M924 876l0 0M955 980l0 0M812 959l0 0M844 951l0 0M938 879l0 0M975 891l0 0M807 900l0 0M854 981l0 0M927 865l0 0M808 916l1 2M952 958l0 0M896 924l0 0M928 967l0 0M935 884l0 0M888 961l0 0M988 873l0 0M802 945l0 0M981 921l0 0M937 936l0 0M989 980l-1 0M801 974l0 0M934 935l0 0M815 940l0 0M921 893l0 0M924 898l0 0M924 889l0 0M843 880l0 0M806 878l0 0M878 928l0 0M847 937l0 0M799 871l0 0M852 913l0 0M809 937l0 0M825 872l0 0M832 866l0 0M871 980l0 0M986 864l0 0M984 927l0 0M930 963l0 0M850 982l0 0M956 951l0 0M916 904l0 0M947 968l0 0M884 975l0 0M808 897l0 0M799 910l0 0M974 950l0 0M876 960l0 0M819 985l0 0M860 929l0 0M841 871l0 0M897 974l0 0M854 956l1 2M888 941l0 0M839 947l0 0M908 953l0 0M959 970l0 0M991 876l-2 0M949 877l0 0M820 917l0 0M888 917l0 0M1000 918l0 0M903 942l0 0M889 984l0 0M978 902l0 0M981 881l0 0M973 923l0 0M847 863l0 0M916 876l0 0M881 871l0 0M959 953l0 0M909 950l0 0M842 863l0 0M960 880l0 0M866 965l0 0M895 970l0 0M815 971l0 0M928 947l0 0M931 911l0 0M846 871l0 0M944 954l0 0M823 977l0 0M850 905l0 0M884 934l0 1M945 945l0 0M821 893l0 0M940 900l0 1M947 954l0 0M888 903l0 0M885 862l0 0M981 944l0 0M894 888l0 0M821 980l0 0M981 877l0 0M992 966l1 1M867 924l0 0M988 914l0 0M827 923l0 0M833 864l0 0M918 897l-1 2M964 864l0 0M921 900l0 1M931 985l0 0M885 963l0 0M885 886l0 0M925 901l0 0M979 967l0 0M852 876l0 0M925 885l0 0M863 894l0 0M912 915l0 0M811 969l-1 0M855 886l0 0M959 894l0 0M958 928l0 0M945 910l0 0M999 929l0 0M848 927l-1 1M821 876l0 0M892 972l0 0M912 910l0 2M925 938l0 0M838 974l0 0M948 879l0 0M896 939l0 0M942 942l0 0M928 897l0 0M863 878l0 0M813 950l0 0M933 890l0 0M858 939l0 0M853 903l0 0M878 919l0 0M831 918l0 0M814 890l0 0M996 955l0 0M853 924l0 0M830 873l0 0M853 950l0 0M951 952l0 0M855 876l0 0M963 908l0 0M969 970l0 0M814 896l0 0M864 871l0 0M823 963l0 0M858 907l0 0M977 910l0 0M862 956l0 0M913 961l0 0M906 937l0 0M890 939l0 0M990 903l0 0M824 902l0 0M938 964l0 0M952 955l0 0M880 895l0 0M954 872l0 0M823 950l0 0M977 961l0 0M803 909l0 0M933 967l0 0M989 976l0 0M968 943l0 1M959 946l0 0M842 896l0 0M967 863l0 0M849 924l0 0M968 958l0 0M879 934l0 0M911 956l0 0M849 948l0 0M923 872l0 0M923 941l0 0M905 887l0 0M988 930l0 0M977 905l0 0M821 904l0 0M906 923l0 0M897 930l0 0M819 957l0 0M980 930l0 0M824 864l0 0M804 883l0 0M925 949l0 0M951 890l0 0M918 873l0 0M894 947l0 0M820 930l0 0M937 976l0 0M898 891l0 0M977 930l0 0M968 871l0 0M965 930l0 0M900 955l0 0M844 947l0 0M976 898l0 0M877 899l0 0M986 945l0 0M827 968l0 0M868 958l0 0M910 879l0 0M984 915l0 0M815 863l0 0M906 879l0 0M907 926l0 0M938 883l0 0M901 866l0 0M813 924l0 0M956 954l0 0M954 950l0 0M838 880l0 0M910 964l0 0M855 942l0 0M949 958l0 0M869 978l0 0M894 902l0 0M898 980l0 0M902 886l0 0M979 957l0 0M814 985l0 0M922 975l0 0M979 933l0 0M871 881l0 0M833 959l0 0M799 891l0 0M919 930l0 0M961 883l0 0M928 916l0 0M800 958l0 0M937 874l0 0M965 976l0 0M963 985l1 0M1000 932l0 2M995 875l0 0M823 925l0 0M963 886l0 0M852 867l0 0M831 888l0 0M924 968l0 0M804 949l0 0M976 914l0 0M809 959l0 0M951 913l0 0M919 908l0 0M996 927l0 0M931 934l0 0M981 924l0 0M928 926l0 0M941 883l0 0M808 904l0 0M846 968l0 0M872 955l0 0M999 911l0 0M865 873l0 0M852 921l0 0M965 973l0 0M881 898l0 0M973 942l0 0M862 913l0 0M855 937l0 0M940 945l0 0M821 985l0 0M819 924l0 0M860 948l0 0M908 931l0 0M798 897l0 0M874 958l0 0M810 877l0 0M888 935l0 0M948 986l0 0M1000 949l0 0M902 890l0 0M852 901l0 0M956 925l0 0M872 889l0 0M867 947l0 0M921 964l0 0M980 970l0 0M849 973l0 0M807 977l0 0M922 931l0 0M892 953l0 0M877 887l0 0M884 960l0 0M995 959l0 0M845 976l0 0M893 939l0 0M967 967l0 0M927 882l0 0M852 869l0 0M926 863l0 0M953 977l0 0M992 977l0 0M800 884l0 0M819 972l0 0M834 924l0 0M967 964l0 0M812 905l0 0M900 939l0 0M919 916l0 0M930 979l0 0M973 986l0 0M975 939l0 0M875 864l0 0M950 962l0 0M861 906l0 0M905 953l0 0M898 960l0 0M925 945l0 0M904 922l0 0M841 975l0 0M963 881l0 0M869 948l0 0M832 876l0 0M827 944l0 0M821 863l0 0M905 930l0 0M959 979l0 0M913 907l0 0M799 947l0 0M875 934l0 0M928 964l0 0M962 869l0 0M960 872l0 0M910 939l0 0M994 862l0 0M931 899l0 0M927 879l0 0M850 864l0 0M801 933l0 0M994 957l0 0M922 917l0 0M829 893l0 0M907 969l0 0M854 975l0 0M977 893l0 0M961 971l0 0M878 906l0 0M881 929l0 0M895 878l0 0M1000 915l0 0M954 964l0 0M872 879l0 0M836 937l0 0M942 921l0 0M934 899l0 0M972 921l0 0M805 914l0 0M906 875l0 0M949 887l0 0M972 888l0 0M847 950l0 0M799 945l0 0M957 903l0 0M976 918l0 0M933 947l0 0M814 892l0 0M916 867l0 0M817 910l0 0M863 927l0 0M944 968l0 0M823 905l0 0M957 873l0 0M856 948l0 0M980 973l0 0M900 931l0 0M903 918l0 0M970 968l0 0M829 962l0 0M869 945l0 0M879 945l0 0M880 960l0 0M923 885l0 0M825 934l0 0M899 894l0 0M878 932l0 0M889 909l0 0M938 903l0 0M892 886l0 0M962 911l0 0M929 913l0 0M819 878l0 0M996 968l0 0M855 906l0 0M809 895l0 0M804 866l0 0M838 958l0 0M873 963l0 0M999 927l0 0M892 894l0 0M958 933l0 0M994 986l0 0M970 922l0 0M808 972l0 0M901 971l0 0M829 973l0 0M983 907l0 0M830 951l0 0M944 906l0 0M910 876l0 0M899 889l0 0M947 875l0 0M892 936l0 0M909 892l0 0M912 958l0 0M918 973l0 0M929 982l0 0M979 880l0 0M980 909l0 0M845 965l0 0M978 964l0 0M814 887l0 0M896 872l0 0M887 927l0 0M839 863l0 0M951 880l0 0M958 882l0 0M820 896l0 0M808 887l0 0M886 958l0 0M950 986l0 0M836 877l0 0M989 982l0 0M984 947l0 0M949 919l0 0M903 910l0 0M873 873l1 1M866 922l0 0M822 982l0 0M957 969l0 0M829 897l0 0M884 925l0 0M963 921l0 0M850 927l0 0M910 870l0 0M941 886l0 0M961 986l0 0M854 873l0 0M994 970l0 0M857 983l0 0M969 925l0 0M935 973l0 0M916 894l0 0M915 981l1 1M912 904l0 0M909 944l0 0M905 898l0 0M941 985l0 0M854 978l0 0M987 868l0 0M944 872l0 0M889 981l0 0M813 863l0 0M903 868l0 0M878 940l0 0M808 979l0 0M952 863l0 0M869 985l0 0M925 940l0 0M865 883l0 0M898 882l0 0M962 928l0 0M957 931l0 0M960 891l0 0M859 890l0 0M805 946l0 0M860 925l0 0M803 929l0 0M972 948l0 0M828 956l0 0M959 913l0 0M956 944l0 0M970 952l0 0M970 864l0 0M849 882l0 0M938 947l0 0M823 920l0 0M932 896l0 0M897 943l0 0M808 941l0 0M872 876l0 0M972 866l0 0M894 935l0 0M943 903l0 0M943 945l0 0M974 932l0 0M903 912l0 0M826 907l0 0M805 926l0 0M962 904l0 0M981 870l0 0M900 976l0 0M837 940l0 0M867 955l0 0M982 939l0 0M937 887l0 0M876 957l0 0M864 875l0 0M901 862l0 0M875 889l0 0M851 973l0 0M835 957l0 0M837 934l0 0M946 877l0 0M905 890l0 0M918 902l0 0M868 941l0 0M952 874l0 0M805 868l0 0M844 937l0 0M830 960l0 0M992 969l0 0M932 873l0 0M839 932l0 0M836 887l0 0M987 882l0 0M938 957l0 0M922 982l0 0M828 920l0 0M995 887l0 0M836 904l0 0M839 905l0 0M903 950l0 0M847 904l0 0M1001 908l0 0M841 931l0 0M817 974l0 0M881 976l0 0M1000 891l0 0M867 972l0 0M808 944l0 0M907 928l0 0M927 950l0 0M941 870l0 0M802 872l0 0M809 961l0 0M903 934l0 0M866 949l0 0M979 917l0 0M951 899l0 0M888 882l0 0M798 975l0 0M894 951l0 0M899 897l0 0M866 960l0 0M954 941l-1 0" stroke-width="3.2"/><path d="M848 962l0 2M921 946l1 1M922 927l0 0M822 882l-1 0M999 868l-1 0M934 939l3 2M922 864l1 3M852 908l0 0M877 949l3 1M811 891l-3 1M971 964l0 0M929 886l-1 2M998 952l1 1M891 882l2 0M885 929l0 0M840 885l-1 0M861 873l-2 1M985 875l0 0M819 901l-3 2M850 942l0 1M876 881l-1 2M964 941l0 2M859 920l2 0M876 892l-2 3M934 980l0 0M801 986l0 0M815 965l0 0M889 878l0 0M934 951l0 0M913 885l0 0M835 964l0 0M828 939l0 0M955 894l-3 1M989 941l0 0M968 867l-1 0M1000 969l0 0M995 892l0 0M933 881l0 0M929 972l-4 1M809 965l0 0M817 881l0 0M993 952l0 0M950 902l0 0M890 869l-1 1M889 897l0 0M943 890l0 0M803 900l0 0M818 968l0 0M808 951l2 2M914 897l-1 3M958 940l0 0M822 867l0 0M979 983l0 0M863 909l0 0M869 893l0 0M826 929l-3 0M923 880l0 0M865 897l-3 2M873 944l1 1M853 946l0 0M849 985l0 0M829 904l-1 0M873 985l3 1M898 947l1 0M946 958l0 0M964 874l0 0M891 890l0 0M870 898l0 0M989 863l0 0M869 929l0 0M965 953l0 0M929 892l0 0M959 886l0 0M919 980l0 0M849 918l0 0M914 880l0 0M840 936l0 1M939 960l0 0M980 913l0 0M849 876l0 0M896 983l2 1M800 865l0 0M836 944l0 0M940 873l1 0M852 880l0 0M909 883l-2 2M984 982l0 3M880 937l0 0M874 938l0 0M826 959l0 0M834 983l0 0M813 935l0 0M929 943l2 0M820 960l0 0M896 899l0 0M926 984l0 0M991 972l0 0M989 919l0 0M853 984l0 0M991 881l0 0M904 968l0 0M880 915l0 0M973 928l0 0M884 883l0 0M979 874l0 0M863 932l-2 3M878 910l0 0M930 903l0 0M869 952l0 0M985 923l0 0M950 926l0 0M893 874l0 0M898 876l0 0M884 901l0 0M919 883l0 0M911 926l0 0M820 907l0 0M996 917l0 0M875 977l0 0M868 880l0 0M970 940l0 0M869 874l0 0M875 916l0 0M999 960l0 0M837 978l0 0M932 863l0 0M944 894l0 0" stroke-width="4.4"/><path d="M941 978l2 1M856 965l-1 3M968 879l0 0M918 947l-2 1M956 960l0 0M959 958l-1 2M962 966l1 1M909 972l3 1M908 978l0 0M966 897l0 4M917 925l-1 2M825 879l2 1M857 902l1 1M947 898l-2 1M945 938l2 3M872 922l2 2M869 886l0 0M907 959l-4 0M828 979l0 4M845 924l0 0M957 864l1 1M990 925l0 1M972 903l0 0M901 872l0 0M848 895l0 1M825 895l0 1M798 901l2 3M823 942l-2 0M800 968l-2 2M993 911l0 2M984 934l1 2M927 871l0 0M881 890l0 0M881 956l0 0M840 970l4 2M963 915l1 1M809 865l0 0M969 932l1 0M834 872l0 0M888 975l0 0M815 919l0 0M838 928l0 0M860 885l0 0M803 894l0 0M812 900l0 0M866 863l-1 4M829 933l0 0M802 923l0 0M800 914l0 2M980 952l0 0M981 866l0 0M858 953l0 0M802 961l0 0M925 978l0 0M835 953l0 0M952 937l0 0M952 946l0 0M942 926l0 0M912 984l0 0M1000 897l0 0M945 885l0 0M976 869l0 0M828 867l0 0M917 967l0 0M806 873l0 0M891 926l0 0M940 970l0 0M889 950l0 0M848 867l0 0M968 909l0 0M878 875l1 1M906 863l0 0M971 916l0 0M998 938l0 0M861 943l2 2M879 970l0 0M899 914l1 5M878 964l0 0M963 935l0 0M957 974l0 0M851 886l0 0M977 946l0 0M968 949l0 0M984 976l0 0M934 908l2 4M1000 985l0 0M798 930l0 0M841 964l0 0M837 866l0 0M818 889l0 0M815 955l0 0M947 931l0 0M869 905l0 0M882 865l0 0" stroke-width="5.6"/><path d="M846 958l4 1M944 980l-1 1M985 896l1 4M987 887l2 1M860 974l-1 4M969 880l0 2M914 946l0 0M906 974l0 1M891 967l-5 1M918 953l4 1M972 974l0 2M838 911l0 4M916 920l5 4M998 867l-5 2M815 868l0 6M957 908l-1 1M935 928l-3 0M808 909l0 0M810 928l-4 5M974 956l-2 2M903 904l-5 2M944 866l4 1M835 892l0 4M880 981l4 6M812 976l4 4M869 913l-2 3M799 877l1 0M995 932l-1 0M844 981l-4 5M842 902l0 0M925 909l-2 3M987 956l3 5M938 892l0 3M854 892l0 0M871 968l1 4M863 984l-1 1M883 907l1 4M892 919l0 0M801 939l0 0M954 917l3 3M802 978l0 0M810 882l0 0M904 984l0 0M900 926l2 0M933 918l4 2M996 902l1 0M908 918l0 0M952 969l0 0M993 945l0 0M942 949l0 0M935 869l0 0M944 916l-1 0M998 978l0 0M800 953l0 0M954 886l0 0M907 910l0 0M896 863l0 0" stroke-width="7.2"/><path d="M946 976l-1 3M860 962l0 0M917 941l0 6M966 891l2 6M969 980l0 1M832 882l-7 1" stroke-width="8.8"/><path d="M981 888l4 6M859 966l-1 3M960 960l0 3M919 957l5 0M972 977l2 1M844 911l-6 7" stroke-width="10.8"/></g></g></g>
<clipPath id="cp11"><rect x="501.1" y="436.2" width="91" height="51.8"/></clipPath>
<g clip-path="url(#cp11)"><g filter="url(#disp11)"><rect x="498.1" y="433.2" width="97.0" height="57.8" fill="#a07aca"/><g transform="scale(0.5)" stroke="#fff" stroke-linecap="round" fill="none"><path d="M1187 885l1 1M1058 886l0 2M1185 917l0 0M1007 920l0 3M1191 921l1 0M1190 916l0 0M1081 915l0 1M1041 880l2 1M1094 955l0 0M1013 923l0 2M1097 878l0 0M1008 863l-3 1M1140 960l-1 2M1068 902l0 0M1045 974l-1 2M1055 977l1 0M1111 969l0 0M1097 969l0 0M1008 940l0 0M1002 864l0 0M1175 928l-1 1M996 967l-2 2M1073 963l0 0M1097 904l-2 2M1191 941l0 0M1085 937l-1 1M1025 879l0 0M1111 867l0 0M1120 947l2 1M1138 872l0 1M1148 938l-1 1M1035 931l0 0M1104 864l0 0M1163 948l0 0M1156 909l0 2M1032 978l0 2M1118 880l0 0M1117 906l2 1M1111 915l1 3M1085 984l-1 0M1188 942l0 0M1170 981l2 0M1034 907l0 0M1159 867l1 1M1144 967l1 1M1154 886l1 0M1161 930l0 1M1184 970l0 0M1163 977l2 1M1088 911l0 0M1169 944l0 0M1134 968l-1 1M1039 909l0 1M1073 880l1 1M1127 970l0 0M1119 935l0 0M1153 877l-1 0M1083 880l0 0M1108 976l2 2M1004 954l0 1M996 907l1 1M993 905l0 0M1001 968l0 1M1052 981l0 1M1095 946l-1 2M1050 867l-1 2M1095 888l0 0M1080 926l3 1M1155 890l0 0M1163 945l0 0M1175 868l0 0M1156 965l0 0M1030 962l1 1M1175 977l0 1M1109 865l0 0M999 919l0 0M993 913l0 2M1050 923l0 0M1095 909l-2 1M1054 865l1 1M1181 972l0 0M1073 956l0 0M1159 881l0 2M1019 877l0 0M1102 902l0 0M1190 970l0 1M1070 935l0 0M1103 972l2 1M1005 905l3 0M1072 919l0 1M1140 919l-1 1M1185 943l0 0M1186 920l0 0M1153 914l0 0M1012 907l-1 2M1077 957l0 0M1033 947l0 0M1131 916l0 0M1107 942l0 0M1173 915l0 1M1021 894l0 0M1167 941l0 0M1118 894l0 2M1186 967l0 0M1051 959l-1 0M1000 939l0 0M1178 888l0 0M1081 864l0 0M1165 939l0 0M1189 872l0 0M1042 904l1 1M1002 916l0 0M1133 939l0 0M1152 976l1 1M1053 924l0 0M1021 961l0 0M1014 983l2 3M1170 916l0 0M1167 920l0 0M1101 921l-1 1M1149 930l-1 2M1016 981l0 0M1170 965l-1 1M1055 985l0 0M1053 902l2 1M1059 883l0 0M1008 978l0 1M1038 973l0 0M1115 928l2 1M1109 917l0 0M1144 874l0 0M997 950l0 0M1083 896l0 0M1045 963l0 1M1008 880l0 0M1160 955l0 0M1143 975l-2 1M1167 880l0 0M1099 944l0 0M1042 869l0 0M1164 962l0 0M1012 964l0 0M1025 913l0 0M993 918l0 0M1119 876l0 0M999 875l0 0M1191 937l0 0M1138 979l-2 0M1078 923l0 0M1187 937l0 0M1076 960l0 0M1155 917l-2 0M1090 918l-1 1M1040 965l0 0M1035 891l0 0M1061 931l0 0M1033 883l2 2M1105 919l0 0M1073 864l-3 1M1184 961l0 0M1064 870l0 2M1076 965l0 0M1052 956l2 1M1014 893l0 2M1193 936l0 0M1092 953l0 0M1078 929l0 0M1008 887l0 0M996 928l0 0M1053 927l0 0M1005 881l0 0M1112 942l0 0M1163 959l0 0M1073 924l0 0M1185 975l-1 1M1124 971l0 0M1052 938l0 0M1143 880l-1 0M1011 865l0 0M1125 871l-1 1M1080 978l0 2M1065 935l1 3M1187 926l0 0M1120 873l0 0M1108 971l0 0M1162 867l0 0M1045 899l0 0M1157 974l-1 2M1185 902l0 0M1069 867l0 0M1136 975l2 1M1059 917l2 2M1162 889l0 0M1002 960l0 0M1116 978l0 0M1164 972l0 0M1158 895l0 0M1092 961l0 0M1071 882l0 0M1185 964l0 0M1071 910l1 1M1180 897l0 0M1080 985l0 0M1046 866l-1 1M1115 922l0 0M1113 955l0 0M1123 880l0 0M1143 971l1 1M1012 880l0 0M1157 955l0 0M1004 975l0 0M1101 951l0 0M1005 927l0 0M1164 865l0 0M1119 927l0 0M1146 911l0 0M1128 962l0 0M1048 964l0 0M1070 915l0 0M1061 923l1 1M1168 930l-1 1M1115 915l0 0M1157 876l1 1M1085 911l0 0M1168 946l0 0M1148 934l0 0M1003 909l0 0M1015 935l0 0M1144 926l0 0M993 909l0 0M996 868l0 0M1072 986l0 0M1145 943l0 0M1057 913l0 0M1129 918l0 0M1088 952l0 0M1022 877l0 0M1006 868l0 0M1151 888l0 0M1067 915l0 0M1135 919l0 0M1126 919l0 0M1174 960l0 0M1143 891l0 0M1120 940l0 0M1115 870l0 0M1041 899l0 0M1006 950l0 0M1017 947l0 0M1124 961l0 0M996 878l0 0M1050 864l0 0M1154 863l0 1M1151 948l0 0M1029 953l0 0M1178 896l0 0M1016 917l0 0M1085 881l0 0M1114 981l0 0M1191 891l0 0M1109 938l0 0M1106 926l0 0M1162 871l0 0M1095 901l-2 1M1077 939l0 0M1077 917l0 0M1046 895l0 0M1040 949l0 0M1125 905l0 0M1023 900l0 0M1034 910l0 0M1108 921l0 1M1150 978l0 0M1053 908l0 0M1193 943l0 0M1040 883l0 0M1052 963l0 0M1181 941l0 0M1147 903l0 0M1028 978l0 0M1054 954l0 0M1015 910l0 0M1114 958l0 1M1023 903l0 0M1123 974l0 0M1173 909l0 0M1171 906l0 0M1137 900l1 1M1020 897l-1 0M1092 965l1 0M1129 952l-1 3M1066 913l0 0M1020 869l0 0M1139 913l0 0M1178 973l0 0M997 911l-2 0M1182 901l0 0M1096 914l0 0M1151 868l0 0M995 892l-1 1M1021 978l0 0M1060 981l-1 1M1164 928l0 0M1125 875l0 0M1173 883l0 0M1069 885l0 0M1167 952l0 0M1192 961l0 0M1086 922l0 0M1190 879l0 0M1151 959l0 0M1148 967l0 0M1166 871l0 0M1152 921l1 0M1019 903l0 0M1081 956l0 0M1015 943l0 0M1119 931l0 0M1001 873l1 1M1115 910l0 0M1123 968l0 0M1144 922l0 0M1003 913l0 0M1096 867l0 0M1105 976l0 0M1010 919l0 0M1158 914l0 0M1013 941l0 0M1151 911l0 0M1024 984l0 1M1089 936l0 0M1036 869l0 0M1137 886l0 0M1121 976l0 0M1188 975l0 0M1166 936l0 0M1032 864l0 0M1065 971l0 0M1068 882l0 0M1088 955l0 0M1022 880l-1 1M1069 969l0 0M1076 912l0 0M1086 914l0 0M1140 915l0 0M1128 866l1 1M1140 897l-1 0M1126 940l0 0M1098 947l0 0M1050 977l0 0M1017 879l0 0M1156 962l0 0M1087 867l0 0M1029 909l0 0M1159 888l0 0M1060 866l0 0M1026 981l0 0M1080 912l0 0M1117 872l0 0M993 887l0 0M1136 927l0 0M1009 926l0 0M1157 959l0 0M1118 914l0 0M1015 905l0 0M1118 900l0 0M1060 911l0 0M1075 922l0 0M1066 927l0 0M998 881l0 0M1148 977l0 0M1002 957l0 0M1053 968l0 0M1029 983l0 0M1173 932l0 0M998 974l0 0M1100 917l0 0M1074 981l0 0M1061 914l0 0M1178 976l0 0M1002 942l0 0M1106 911l0 0M1132 980l0 0M1030 934l0 0M1116 885l0 0M1187 934l0 0M1073 946l0 0M1002 871l0 0M1178 970l0 0M1040 975l0 0M1010 892l0 0M1054 942l0 0M1188 922l0 0M1090 895l0 0M1048 893l0 0M1044 985l-1 1M1045 928l0 0M1122 943l0 0M1160 946l0 0M995 947l0 0M1038 872l1 0M998 979l0 0M1171 931l0 0M1058 962l0 0M1113 985l0 0M1090 874l0 0M1031 969l0 0M1166 877l-1 1M1092 927l0 0M1085 917l0 0M1077 963l0 0M1168 938l0 0M1068 879l0 0M1041 979l0 0M1093 894l0 0M1068 984l0 0M1131 913l0 0M1110 981l0 0M1021 871l0 0M1100 864l0 1M1016 962l0 0M1159 940l0 0M1061 898l0 0M1172 957l0 0M1134 898l0 0M1174 946l0 0M992 971l0 0M1019 917l0 0M1035 978l0 0M1015 867l0 0M1175 968l0 1M1046 903l0 0M1145 961l0 0M1004 963l0 0M1162 952l0 0M1150 874l0 0M1155 968l0 0M1060 985l0 0M1061 974l-2 1M1133 943l-1 1M1048 958l0 0M1182 934l0 0M1179 953l0 0M1120 904l0 0M1192 928l2 1M1033 913l0 0M1069 871l0 0M1173 864l0 0M1021 888l0 1M1125 893l0 0M1010 896l0 0M1046 881l0 0M1074 949l0 0M1050 943l0 0M1148 893l0 0M1102 946l0 0M1041 874l0 0M1184 955l0 0M1193 918l0 0M1134 983l0 0M1099 901l0 0M1117 912l0 0M1072 949l0 0M1120 916l-2 1M1163 934l0 0M1013 917l0 0M1192 932l0 0M1150 891l0 0M1024 877l0 0M1191 873l0 1M1195 947l-2 0M1063 913l0 0M1191 967l0 0M1055 911l0 0M1066 894l0 0M1092 880l0 0M1015 913l0 0M1082 892l0 0M1121 962l0 0M1171 978l0 0M1178 870l0 0M1135 913l0 0M1183 898l0 0M1070 926l0 0M1043 972l0 0M1103 908l0 0M1088 922l0 0M1036 935l0 0M1142 916l0 0M1000 976l0 0M1129 862l0 0M1054 886l0 0M1160 976l0 0M1074 885l0 0M1152 903l0 0M1002 949l0 0M1173 913l0 0M1078 862l0 0M1147 943l0 0M1166 971l0 0M1012 876l1 1M1008 902l0 0M1060 941l0 0M1072 982l0 0M1146 974l0 0M1000 894l0 0M993 920l0 0M1085 953l0 0M1015 863l-1 0M1107 915l0 0M1192 965l1 1M1184 939l0 0M1107 983l0 0M1064 966l0 0M1089 976l0 0M1097 952l0 0M1012 978l0 0M1002 879l0 0M1175 919l0 0M1153 973l0 0M1159 958l0 0M1024 883l0 0M1076 979l0 0M1043 962l-1 0M1181 969l0 0M1153 872l-1 0M1150 883l0 0M1163 916l0 0M1092 940l0 0M1191 924l0 0M1175 886l0 0M1055 946l0 0M996 920l0 0M1114 978l0 0M1123 930l0 0M1091 935l0 0M1053 974l0 0M1142 888l0 0M1179 983l0 0M1194 924l0 0M1062 934l0 0M1174 879l0 0M1094 943l0 0M1025 921l0 0M1181 945l0 0M1140 883l0 0M1116 918l0 0M1105 938l0 0M996 915l0 0M1068 944l0 0M1120 871l-2 0M1016 908l0 0M1100 972l0 0M1193 893l2 0M1047 956l0 0M1115 863l1 1M1065 892l0 0M1126 943l0 0M1175 914l0 0M1026 882l0 0M1083 947l0 0M993 890l0 0M1177 900l0 0M1024 948l0 0M1083 923l0 0M1140 942l0 0M1169 911l0 0M1001 911l-1 1M995 923l0 0M1014 880l0 0M1188 929l0 0M1164 965l0 0M1063 928l0 0M1088 984l0 0M1046 938l0 0M1099 891l0 0M1149 946l0 0M1075 943l0 0M1018 961l0 0M1146 929l0 0M1154 955l0 0M1059 933l0 0M1114 867l0 0M1146 977l0 0M1061 874l0 0M1138 903l0 0M1106 954l0 0M1004 948l0 0M1126 946l0 0M1145 965l0 0M1046 869l0 0M1039 881l0 0M1169 958l0 0M1105 944l0 0M1157 898l0 0M1016 953l0 0M1156 866l0 0M1056 916l0 0M1193 940l0 0M1175 974l0 0M994 944l0 0M1046 864l0 0M1140 886l0 0M1050 937l0 0M1149 940l0 0M1194 876l0 0M1127 863l0 0M1126 968l0 0M1070 949l0 0M1011 870l0 0M1038 978l0 0M1019 883l0 0M1096 893l0 0M1047 889l0 0M996 925l0 0M1190 945l0 0M1182 974l0 0M1158 943l0 0M1194 865l0 0M996 972l0 0M1180 930l0 0M1073 929l0 0M1002 876l0 0M1159 892l0 0M1070 979l0 0M1160 918l0 0M1048 906l0 0M1117 890l0 0M1000 882l0 0M1009 967l0 0M1030 959l0 0M1194 889l0 0M1085 906l0 0M1188 970l0 0M1192 868l0 0M1173 889l0 0M1017 898l0 0M1022 916l0 0M998 934l0 0M1069 895l0 0M1102 936l0 0M1083 884l0 0M1013 962l0 0M1140 895l0 0M1132 909l0 0M1098 935l0 0M1046 950l0 0M1086 895l0 0M1078 920l0 0M1164 875l0 0M1191 884l0 0M1011 867l0 0M1093 916l0 0M996 976l0 0M1078 879l-1 1M1178 928l0 0M998 986l0 0M1130 911l0 0M1020 886l0 0M1140 979l0 0M1106 923l0 0M1169 934l0 0M1138 925l0 0M1168 890l0 0M1002 952l0 0M1085 930l0 0M1189 893l0 0M1139 965l0 0M1117 925l0 0M1093 907l0 0M1008 867l0 0M1102 906l0 0M1094 870l0 0M1125 902l0 0M1120 975l0 0M1000 931l0 0M1131 926l0 0M1105 941l0 0M1164 880l0 0M1175 893l0 0M1114 925l0 0M1046 953l0 0M1091 899l0 0M1137 984l0 0M1014 931l0 0M1122 893l0 0M1030 883l0 0M1094 864l-1 2M1058 981l0 0M1093 900l0 0M1065 903l0 0M1181 903l0 0M1131 901l0 0M1140 985l0 0M1030 974l0 0M1134 972l0 0M1033 934l0 0M1109 954l0 0M1058 925l0 0M1166 903l0 0M1137 958l0 0M1132 936l0 0M1112 927l0 0M1054 932l0 0M1156 903l0 0M1105 948l0 0M1078 942l0 0M1155 869l0 0M1036 881l0 0M1066 874l0 0M1012 986l0 0M1142 883l0 0M998 954l0 0M1038 969l0 0M1124 965l0 0M1162 877l0 0M1048 881l0 0M1003 928l0 0M994 927l0 0M1037 907l0 0M1136 962l0 0M1123 903l0 0M1027 946l0 0M1187 972l0 0M1019 953l0 0M1101 899l0 0M1018 975l0 0M1185 945l0 0M1154 905l0 0M1059 863l0 0M1154 929l0 0M1004 921l0 0M1162 973l0 0M1108 925l0 0M1129 942l0 0M1162 981l0 0M1075 889l0 0M1103 868l0 0M1076 877l0 0M1145 906l0 0M1067 940l0 0M999 915l0 0M1069 897l0 0M1141 965l0 0M992 948l0 0M1168 980l0 0M1056 907l0 0M999 982l0 0M1170 914l0 0M1044 912l0 0M1179 978l0 0M1101 879l0 0M1171 971l0 0M1171 937l0 0M1062 972l0 0M1109 972l0 0M1134 948l0 0M1187 962l0 0M1112 910l0 0M1194 952l0 0M1069 904l0 0M996 886l0 0M1019 872l0 0M1189 931l0 0M1082 951l0 0M1104 924l0 0M1167 874l0 0M1065 876l0 0M1084 957l0 0M1012 912l0 0M1078 954l0 0M1169 879l0 0M1126 950l0 0M1178 892l0 0M1048 985l0 1M1102 975l0 0M1020 874l0 0M1049 941l0 0M1059 899l0 0M1171 969l0 0M1150 936l0 0M1130 947l0 0M1033 937l0 0M1042 958l0 0M1083 962l0 0M1031 955l0 0M1166 892l0 0M1173 963l0 0M1175 865l0 0M1000 870l0 0M1016 900l0 0M1035 888l0 0M1091 863l0 0M1042 975l0 0M1145 881l0 0M1070 972l0 0M1186 980l0 0M1191 901l0 0M1021 919l0 0M1132 977l0 0M1076 925l0 0M1177 946l0 0M1096 942l0 0M1030 966l0 0M1019 892l0 0M1126 889l0 0M1138 949l0 0M1076 894l0 0M1038 902l0 0M1169 882l0 0M1085 869l0 0M1154 959l0 0M1002 883l0 0M1004 944l0 0M1074 926l0 0M1171 947l0 0M1055 980l0 0M1011 939l0 0M996 917l0 0M1061 978l0 0M1079 952l0 0M1149 914l0 0M1048 974l0 0M1034 866l0 0M1053 929l0 0M1046 961l0 0M1111 965l0 0M1081 960l0 0M1194 870l0 0M1183 965l0 0M1151 982l0 0M1017 978l0 0M1071 944l0 0M1168 949l0 0M1129 922l0 0M1060 870l0 0M1010 982l0 0M1074 915l0 0M1142 876l0 0M1061 901l0 0M1059 909l0 0M1143 942l0 0M1159 903l0 0M1081 895l0 0M1056 974l0 0M1135 934l0 0M1090 915l0 0M1017 951l0 0M1120 882l0 0M1028 956l0 0M1191 871l0 0M999 901l0 0M1162 938l0 0M1189 900l0 0M1081 976l0 0M1124 920l0 0M995 975l0 0M1030 985l0 0M1065 986l0 0M1095 971l0 0M1111 863l0 0M1164 918l0 0M1001 867l0 0M1046 958l0 0M1123 869l0 0M1169 955l0 0M1004 924l0 0M1136 942l0 0M1050 903l0 0M1176 953l0 0M1014 965l0 0M1029 867l0 0M1104 986l0 0M1172 945l0 0M1137 911l0 0M1077 868l0 0M1038 933l0 0M1112 921l0 0M1055 899l0 0M1021 983l0 0M1016 902l0 0M1125 956l0 0M1010 878l0 0M1023 874l0 0M1044 872l0 0M1161 913l0 0M1157 907l0 0M1166 968l0 0M1193 879l0 0M1126 959l0 0M1193 955l0 0M1164 931l0 0M1018 895l0 0M1123 939l0 0M1051 946l0 0M1038 899l0 0M1177 967l0 0M1093 958l0 0M1123 877l0 0M1015 938l0 0M1062 895l0 0M1017 875l0 0M1111 925l0 0M1082 954l0 0M1133 912l0 0M1021 948l0 0M1066 931l0 0M1068 929l0 0M1128 885l0 0M1117 977l0 0M1081 931l0 0M1176 882l0 0M1018 984l0 0M1171 919l0 0M1185 958l0 0M998 930l0 0M1093 897l0 0M1064 916l0 0M1056 960l0 0M1014 882l0 0M1012 873l0 0M1145 867l0 0M1186 874l0 0M1077 914l0 0M1132 964l0 0M1019 981l0 0M1089 880l0 0M1019 900l0 0M1089 963l0 0M1042 983l0 0M1140 957l0 0M1157 918l0 0M1071 878l0 0M1130 969l0 0M1027 986l0 0M1110 911l0 0M1069 946l0 0M1097 919l0 0M1134 964l0 0M1181 878l0 0M1193 915l0 0M1080 880l0 0M1136 965l0 0M1189 882l0 0M1082 911l0 0M1057 904l0 0M1090 865l0 0M1107 973l0 0M1162 941l0 0M1037 964l0 0M1102 894l0 0M1092 937l0 0M1083 874l0 0M1095 880l0 0M1052 944l0 0M1125 953l0 0M1125 868l0 0M1183 948l0 0M1122 919l0 0M1062 868l0 0M1101 926l0 0M1068 875l0 0M1134 902l0 0M1100 867l0 0M1075 873l0 0M1118 944l0 0M1150 871l0 0M1140 973l0 0M1006 884l0 0M1189 968l0 0M1064 941l0 0M1169 902l0 0M1189 965l-1 0M1172 881l0 0M1165 869l0 0M1157 985l0 0M1093 913l0 0M1058 876l0 0M1089 928l0 0M1107 980l0 0M1037 948l0 0M1046 916l0 0M1027 970l0 0M1012 915l0 0M1175 889l0 0M1156 920l0 0M1119 972l0 0M999 928l0 0M1115 956l0 0M1015 920l0 0M1043 951l0 0M995 862l0 0M1050 890l0 0M1126 963l0 0M1141 907l0 0M1006 909l0 0M1159 984l0 0M1072 978l0 0M1141 863l0 0M1194 882l0 0M1184 952l0 0M1084 900l0 0M1184 924l0 0M1039 869l0 0M1166 863l0 0M1107 863l0 0M1071 952l0 0M1088 882l0 0M1018 868l0 0M1130 939l0 0M1012 980l0 0M1062 984l0 0M1048 925l0 0M1109 985l0 0M1031 866l0 0M1056 982l0 0M1000 909l0 0M1017 969l0 0M1021 951l0 0M1045 967l0 0M1128 901l0 0" stroke-width="3.2"/><path d="M1150 951l-1 3M1164 905l2 3M1009 945l4 2M1129 974l0 0M1093 876l0 0M1035 951l0 1M1110 958l1 1M1180 873l1 1M1097 873l0 0M1128 965l0 0M1086 876l-1 1M1143 870l3 0M1026 966l0 1M1138 864l-1 4M1175 949l-4 2M1020 965l-1 0M1076 985l0 1M1098 883l-1 0M1049 968l-1 1M1157 872l1 1M1061 904l0 1M1098 896l0 0M1125 884l-1 1M1070 889l2 3M1159 969l4 0M1044 885l0 0M1049 932l1 1M1062 937l0 0M1181 925l0 2M1015 957l0 0M1109 944l0 0M1154 944l0 0M1063 887l0 0M1043 892l0 0M1147 863l1 2M1130 930l2 3M1035 877l3 1M1174 985l-4 2M999 923l1 2M1155 881l0 0M1014 871l1 1M1186 897l0 0M1120 922l0 0M1132 863l0 0M1096 938l-1 0M1008 873l-2 3M1033 973l1 1M1097 927l1 0M1078 883l1 4M1160 963l0 0M1083 920l0 0M1045 908l-2 1M1191 897l0 0M1100 940l0 0M1019 864l0 0M1010 930l1 3M1089 931l-3 1M1056 920l0 0M1047 980l-2 1M1104 980l0 0M1034 966l0 0M1039 895l0 0M1030 923l0 0M1133 922l2 1M1175 940l-3 0M1052 897l-2 2M1101 870l0 4M1008 974l0 0M1194 973l0 0M1042 969l0 0M1141 910l1 0M1078 946l0 0M1000 972l0 0M1119 886l0 0M1058 943l0 0M1107 868l0 0M1030 950l0 0M1190 984l0 0M1150 971l0 0M1050 928l0 0M1029 877l1 2M1010 883l0 0M1138 969l0 0M1086 926l0 0M1106 951l0 0M1167 961l0 0M994 883l0 0M1065 982l0 0M1138 945l0 0M1050 919l0 0M1070 965l0 0M1128 905l3 0M1178 937l0 0M1177 879l0 0M1134 894l2 1M1163 893l0 0M999 906l0 0M1182 980l0 0M1171 892l0 0M1102 887l0 0M1160 909l0 0M1030 918l0 0M1157 930l0 0M1123 864l-4 2M1087 899l0 0M1189 958l0 0M1183 894l0 0M1057 929l0 0M1029 913l0 0M1114 933l0 0M1164 985l-2 2M1122 890l0 0M1075 969l0 0M1091 969l0 0M998 865l0 0M1125 984l0 0M1088 940l0 0M1142 866l0 0M1075 953l0 0M994 866l0 0M1088 959l0 0M1031 928l0 0M1073 870l0 0M1103 915l0 0M1042 954l0 0M1067 907l-1 2M1174 935l0 0M1151 907l0 0M1147 877l0 0M1079 892l0 0M999 965l0 0M1130 984l0 0M1136 916l0 0M1091 884l0 0M1168 926l0 0M1189 978l0 0M1179 863l0 0M1025 917l0 0M1072 875l0 0M1153 986l0 0M1080 971l0 0M1037 938l0 0M1181 950l0 0M1070 932l0 0M1171 886l0 0M1159 863l0 0M1086 863l0 0M993 963l0 0M1178 932l0 0M1190 863l0 0" stroke-width="4.4"/><path d="M1178 906l0 1M1110 902l3 0M1101 956l0 0M1130 871l1 0M1130 877l-1 2M1074 902l-2 0M1040 926l-1 1M1116 965l3 3M1180 958l-1 5M1141 929l-1 1M1054 891l3 2M1153 896l-2 3M1002 888l-2 0M1120 981l-2 1M1121 954l-1 3M1036 983l2 4M1081 966l4 1M1156 936l-2 2M1048 875l-2 1M1184 866l3 2M994 953l-1 3M1011 953l-1 2M1090 946l0 2M1081 868l-1 5M1174 874l-2 1M1173 924l0 0M1132 889l0 0M1158 980l-2 1M1123 911l3 3M1142 902l0 0M1188 949l1 4M1152 925l-2 0M1152 932l0 0M1026 863l-2 2M1127 979l0 0M994 932l-3 2M1076 933l3 3M1138 891l0 0M1180 919l0 0M1114 938l3 1M1165 884l0 3M1025 953l-4 3M1055 879l-1 2M1147 886l0 0M1184 930l0 0M1169 867l2 2M1009 961l0 0M1125 925l0 0M1082 942l0 0M999 946l0 1M1013 971l1 3M1169 975l0 0M1129 897l-5 2M1072 940l0 0M1065 899l0 0M1173 898l1 4M1056 937l0 0M1126 935l0 0M995 939l0 0M1066 920l0 0M1062 879l0 0M995 872l0 1M1115 973l0 0M1094 922l0 0M1136 907l0 0M1145 897l0 0M998 959l0 0M1166 898l-5 2M1166 914l0 0M1032 871l-6 1M1152 964l0 0M1003 979l2 4M1132 959l0 0M1008 913l0 0M1090 870l0 0M1136 953l0 1M1051 951l0 0M1026 961l0 0M1075 975l0 0M1099 909l0 0M1147 917l2 1M1085 979l0 0M1165 956l0 0M1186 878l0 0M1089 905l0 0M1011 900l1 0M1054 873l0 0M1005 969l0 0M1039 888l0 0M1049 885l0 0M1095 932l0 0M1194 979l0 0" stroke-width="5.6"/><path d="M1183 908l-1 2M1110 899l1 2M1105 962l1 4M1102 958l3 3M1111 872l1 1M1105 881l3 0M1067 959l-1 2M1077 898l-2 4M1182 883l4 5M1024 926l0 5M1040 916l-4 3M1026 889l0 2M992 979l3 3M1143 936l-4 2M1004 896l-1 4M1038 861l3 3M1005 934l-1 1M1022 909l-1 2M1066 862l-2 3M1114 947l-2 3M1022 972l3 2M1037 959l0 1M1059 967l1 1M1184 986l0 0M1103 931l4 0M1031 941l0 0M1040 944l6 1M1067 976l0 0M995 899l0 0M1162 923l-2 2M1156 950l0 0M1144 982l2 2M1086 888l2 1M1043 933l0 0M1050 913l0 0M1015 887l0 0M1085 973l0 0" stroke-width="7.2"/><path d="M1098 985l1 3M1132 874l3 6M1068 958l-1 0M1020 925l3 5M1039 917l4 4M1144 948l3 8" stroke-width="8.8"/><path d="M1096 979l0 1M1193 908l-11 3M1109 891l0 12M1100 960l1 3M1111 876l-1 2M1063 949l-1 7M1075 902l3 4M1023 929l-1 11M1040 920l-1 1M1028 890l3 12" stroke-width="10.8"/></g></g></g>
<text x="401.2" y="465.9" font-size="10" text-anchor="end" font-weight="normal" font-style="normal" fill="#1a1a1a" >DMF</text>
<clipPath id="cp20"><rect x="404" y="493.6" width="91.3" height="51.9"/></clipPath>
<g clip-path="url(#cp20)"><g filter="url(#disp20)"><rect x="401" y="490.6" width="97.3" height="57.9" fill="#8c5fbe"/><g transform="scale(0.5)" stroke="#fff" stroke-linecap="round" fill="none"><path d="M868 994l-3 1M904 1035l2 0M911 1031l-1 0M993 1047l-2 1M913 1099l0 2M907 1055l0 0M822 1036l0 0M986 1034l0 1M963 1033l0 0M871 990l0 0M953 1057l0 0M846 1082l0 0M960 1028l2 1M931 1038l0 0M812 1019l0 0M953 991l0 0M946 1050l0 0M804 1070l2 1M804 1020l0 0M819 977l1 2M933 980l1 1M803 1066l0 0M944 979l0 0M957 1074l0 0M812 1052l0 0M809 1070l0 0M892 1011l0 0M818 1052l3 1M886 1084l0 0M958 1015l0 0M836 1009l0 0M963 1058l0 0M938 1023l3 2M832 985l0 0M801 1070l0 0M929 1031l0 3M820 1078l-1 2M886 989l0 0M963 990l-1 1M961 1017l0 0M800 978l2 0M870 1002l0 0M957 1003l-2 2M946 1087l0 0M996 1001l1 0M880 1053l-3 0M960 1056l0 0M961 1093l0 1M959 1070l0 0M953 1030l1 1M973 1052l0 1M901 983l0 0M850 1089l0 2M854 1010l0 3M983 998l-2 1M898 1035l0 0M980 1095l0 0M843 1061l-3 0M878 1097l0 0M908 1011l0 0M904 988l0 0M934 1093l0 0M817 1048l0 0M976 1004l1 1M862 1098l0 1M949 1049l0 0M857 1007l0 0M875 1012l0 0M807 1053l0 3M849 1007l0 0M846 1013l0 0M824 1084l0 0M912 1095l0 0M912 999l2 0M932 1028l0 0M841 1065l0 0M888 1052l0 0M813 1048l0 0M856 1059l0 0M824 1039l0 0M860 1065l0 0M816 1072l-3 0M927 985l0 0M808 1049l0 0M852 1044l0 0M870 1091l0 0M969 988l0 0M892 1081l0 0M930 1049l0 0M811 1067l0 0M868 1012l0 0M990 1081l0 0M983 1031l0 0M927 1049l0 0M890 1085l1 1M981 1004l0 0M850 1097l0 0M818 1029l0 0M934 1083l0 0M900 1091l1 0M820 1057l-1 4M862 980l0 0M845 1071l1 1M879 1044l0 0M925 1101l0 0M903 992l0 0M834 1046l1 0M924 1033l0 0M987 1092l0 0M877 1009l0 0M817 1096l0 0M802 1025l0 0M878 978l0 0M954 999l0 0M970 979l0 0M832 1007l0 0M998 1020l0 0M940 1061l0 0M982 1008l0 0M913 1017l0 0M818 1101l0 0M913 1092l0 0M929 1090l0 0M939 1086l-1 1M836 1096l0 0M915 1051l0 0M935 1060l0 0M868 982l0 0M887 1043l0 0M884 1016l0 1M938 1075l0 0M952 994l0 0M997 1047l0 0M843 1016l0 0M864 1022l1 0M995 1011l0 0M868 1074l0 0M944 1091l0 0M840 983l0 1M941 980l0 0M937 1032l3 1M829 1066l0 0M854 988l0 0M877 1032l0 0M859 1000l0 0M908 1047l0 0M804 1052l0 0M799 1065l0 0M865 1043l-2 1M811 990l0 0M957 1019l-2 0M819 1017l0 0M815 1066l0 0M942 1072l0 0M865 1016l0 0M981 993l0 0M816 1036l-1 1M848 1086l0 0M932 1087l0 0M818 1091l0 0M901 1019l0 0M963 996l0 0M855 1043l0 0M992 1061l2 0M982 1034l0 0M821 1025l0 0M936 977l0 0M839 1013l0 2M877 1036l0 0M835 1078l0 0M998 1005l0 0M847 1017l0 0M838 1068l0 0M800 1058l-1 2M903 980l0 0M1000 1091l0 0M930 1000l2 1M999 1016l0 0M989 1063l0 0M979 979l0 0M921 996l0 0M823 996l0 0M814 992l0 0M839 1093l0 0M965 986l0 0M853 1060l0 0M812 1001l0 0M862 1061l0 0M906 1050l0 0M857 1015l0 0M993 1055l0 0M898 1096l0 2M825 1014l0 0M860 1011l0 0M815 1004l0 0M953 1024l0 0M914 1076l0 0M930 1075l0 0M862 1072l0 0M812 1007l0 0M927 981l0 0M879 1101l0 0M815 988l0 0M972 1038l0 0M851 984l0 0M889 1070l0 0M860 1019l-1 2M875 1002l0 0M973 1035l0 0M967 1081l0 0M992 1026l0 0M800 1022l0 0M917 1090l0 0M810 1027l0 0M974 987l0 0M971 1025l0 0M916 1055l0 0M877 1057l0 0M897 1016l0 0M943 1095l0 0M978 992l0 0M820 1087l0 0M859 1047l0 0M989 1004l0 0M905 997l2 3M813 1016l1 1M815 1075l0 0M1000 1003l0 0M805 980l0 0M872 1034l0 0M891 1057l0 0M870 1096l-2 2M799 993l0 0M812 1063l0 0M908 1074l0 0M971 985l0 0M962 1089l0 0M933 1033l0 0M993 1051l0 0M992 1096l2 0M966 1032l0 0M924 1029l0 0M851 1020l0 0M800 1029l0 0M959 989l0 0M929 1025l0 1M845 981l0 0M964 1050l0 0M983 1038l0 0M908 992l0 0M964 1083l0 0M970 1065l0 0M978 1053l0 0M822 1099l0 0M852 1100l0 0M981 1026l0 0M816 1093l0 0M980 1020l0 0M924 1051l0 0M798 1017l0 0M926 1053l-1 1M840 1044l0 0M968 1086l0 0M826 996l0 0M977 1016l0 0M980 1067l0 0M926 1000l1 2M991 1058l-1 1M897 1054l0 0M837 1081l0 0M918 1077l0 0M940 1077l0 0M921 1053l0 0M932 1058l0 2M932 996l0 0M903 1000l0 0M840 1034l0 0M918 980l0 0M873 1094l0 0M993 1008l0 0M838 1020l0 0M949 1046l0 0M966 1060l0 0M998 1093l0 0M844 1005l0 0M965 1087l0 0M869 1101l0 0M817 984l0 0M916 977l0 0M844 1047l0 0M854 1018l0 0M903 1077l0 0M832 1076l0 0M833 982l0 0M798 1026l0 0M935 1089l0 0M874 1046l0 0M852 998l0 0M985 1002l0 0M827 993l0 0M799 1051l0 0M909 978l0 0M998 1080l0 0M975 1008l0 0M918 994l0 0M847 1004l0 0M985 1062l0 0M803 1002l0 0M923 1059l0 0M976 1093l0 0M992 997l0 0M871 1024l0 0M955 1067l0 0M843 987l0 0M971 1003l0 0M861 1040l0 0M952 1007l0 0M963 1001l0 0M985 1006l0 0M873 988l0 0M842 1031l0 0M985 978l0 0M847 1023l0 0M828 1005l0 0M943 988l0 0M951 1003l0 0M835 995l0 0M916 1023l0 0M845 1038l0 0M833 990l0 0M889 1014l2 2M951 1087l0 0M858 983l0 0M918 1057l0 0M806 1001l0 0M822 1074l0 0M1000 978l0 0M888 996l0 0M844 1035l0 0M999 1012l0 0M916 1017l0 0M838 1057l0 0M832 1065l0 0M823 1011l0 0M824 1078l0 0M916 1034l0 0M878 1013l0 0M957 996l0 0M838 990l0 0M998 1042l0 0M815 1061l0 0M878 1006l0 0M931 985l0 0M971 1032l0 0M976 1064l-1 0M959 1032l0 0M872 1010l0 0M826 1088l0 0M891 1052l0 0M916 1096l0 0M835 1066l0 0M820 1002l0 0M914 1047l0 0M858 1043l0 0M941 1029l0 0M892 996l0 0M874 1031l0 0M875 1022l0 0M894 977l0 0M980 1050l0 0M824 1057l0 0M883 1013l0 0M847 985l0 0M845 991l0 0M901 1048l0 0M848 1039l0 0M802 1101l-1 1M843 1002l0 0M967 1076l0 0M941 1051l0 0M845 1009l-1 0M806 988l0 0M943 1015l0 0M974 1027l0 0M812 1029l0 0M965 1079l0 0M954 1010l0 0M969 1028l0 0M857 1026l0 0M855 1062l0 0M889 1061l0 0M837 982l0 0M931 1053l0 0M841 993l0 0M831 1093l1 1M995 1100l0 0M844 1051l0 0M836 979l0 0M917 1007l2 0M865 1069l0 0M829 986l0 0M966 993l0 0M816 1079l0 0M854 984l0 1M926 1060l0 1M886 1073l0 0M959 1062l0 0M988 1050l0 0M926 1022l0 0M870 1077l0 0M900 1032l0 0M982 1063l0 0M969 1037l0 0M896 1032l0 0M827 1059l0 0M1000 999l0 0M995 1058l0 0M824 1089l0 0M1000 1083l0 0M901 1023l0 0M815 978l0 0M819 983l0 0M824 1062l0 0M929 1046l0 0M855 995l0 0M912 1088l0 0M844 1056l0 0M958 1066l0 0M989 985l0 0M824 1008l0 0M937 1028l0 0M939 1065l0 0M970 1049l0 0M976 1019l0 0M958 993l0 0M927 1080l0 0M874 1056l0 0M887 1066l0 0M846 1093l0 0M819 998l0 0M986 1048l0 0M886 992l0 0M964 1096l0 0M899 980l0 0M989 1095l0 0M985 1025l0 0M965 978l0 0M895 1015l0 0M1000 1070l0 0M865 1058l0 0M899 1051l0 0M913 1039l0 0M901 996l0 0M875 1088l0 0M945 1070l0 0M953 1013l0 0M901 988l0 0M942 983l0 0M993 1003l0 0M907 1100l0 0M949 1085l0 0M829 1021l0 0M974 1068l0 0M950 1097l0 0M811 1004l0 0M929 1100l0 0M867 979l0 0M910 1078l0 0M1001 1008l0 0M834 1014l0 0M878 1078l0 0M870 987l0 0M838 1086l0 0M887 1088l0 0M917 998l0 0M942 1022l0 0M808 1101l0 0M983 1092l0 0M904 1046l0 0M987 1076l0 0M879 1084l0 0M961 1067l0 0M828 989l0 0M953 1078l0 0M798 1032l0 0M886 1026l0 0M905 978l0 0M858 1083l0 0M921 1080l0 0M904 1021l0 0M897 1083l0 0M874 999l0 0M798 1074l0 0M834 1068l0 0M991 1068l0 0M866 1094l0 0M915 1031l0 0M948 1006l0 0M884 1029l0 0M854 1065l0 0M936 1065l0 0M910 1085l0 0M855 1081l0 0M988 1088l0 0M960 1050l0 0M888 1018l0 0M838 1064l0 0M881 1097l0 0M890 1044l0 0M810 993l0 0M929 978l0 0M933 1036l0 0M799 997l0 0M865 1064l0 0M967 1049l0 0M815 1031l0 0M952 1099l0 0M918 1049l0 0M854 1095l0 1M988 1025l0 0M854 1022l0 0M968 982l0 0M945 1075l0 0M960 1002l0 0M846 1054l0 0M919 1088l0 0M830 991l0 0M911 1014l0 0M907 1003l0 0M874 1077l0 0M956 1058l0 0M858 1032l0 0M935 1019l0 0M895 1051l0 0M869 1080l0 0M832 1044l0 0M818 1033l0 0M878 1022l0 0M932 1044l0 1M818 1021l0 0M826 1074l0 0M901 1038l0 0M878 1049l0 0M962 1024l0 0M888 1024l0 0M882 990l0 0M818 1064l0 0M882 977l0 0M929 1071l0 0M995 986l0 0M912 1079l0 0M821 1015l0 0M806 977l0 0M969 1016l0 0M908 1061l0 0M840 1010l0 0M807 1018l0 0M930 1082l0 0M906 1059l0 0M801 1063l0 0M821 1047l0 0M917 1100l0 0M882 995l0 0M976 1056l0 0M996 1044l0 0M967 1063l0 0M861 1087l0 0M1000 1045l0 0M857 987l0 0M861 1068l0 0M940 998l0 0M940 1081l0 0" stroke-width="3.2"/><path d="M807 1012l2 2M860 992l-1 1M972 1011l2 2M966 1008l0 2M965 1005l-1 2M913 981l0 0M843 1042l4 2M936 1048l-1 1M857 1092l1 1M902 1053l0 0M933 1079l4 0M898 1077l-2 1M981 1100l0 1M806 993l0 0M799 1046l5 1M842 1027l0 0M915 1083l2 1M894 1036l0 0M852 1072l0 2M888 1039l0 0M947 1080l-4 3M929 994l-4 0M927 989l4 1M869 1060l0 0M873 1099l0 2M798 1096l0 0M839 1050l-1 2M834 1059l1 1M873 978l0 3M991 1074l0 0M841 1073l0 2M980 1012l0 0M939 1091l1 1M865 1089l-1 0M981 1043l0 4M965 1026l0 0M900 1027l-2 1M830 1070l0 2M980 1091l0 0M968 1000l0 0M881 1041l0 0M888 1078l0 0M944 1006l0 0M870 1046l0 0M922 1003l-4 0M958 1024l0 0M945 992l0 0M911 1043l0 0M830 978l0 0M993 990l-3 1M852 1079l0 0M828 1098l-1 2M873 1005l-2 1M976 1023l1 0M946 1010l4 1M912 1021l-1 0M998 1065l0 0M874 1039l0 2M850 979l5 0M971 1020l0 0M896 999l0 0M885 1056l0 0M905 1041l0 0M830 1055l0 0M942 1068l0 0M910 1052l0 0M895 981l0 0M999 1099l2 1M836 987l0 0M826 1051l0 0M915 1012l0 0M998 994l-1 1M907 1094l0 0M842 1021l0 0M883 1048l0 0M864 1009l0 0M826 1093l0 0M820 1094l0 0M839 998l0 0M825 1002l0 0M923 1019l-1 3M989 1000l0 0M799 1002l0 0M838 1005l2 1M878 1017l0 0M919 1034l0 0M903 1098l0 0M963 1063l0 0M921 1012l0 0M986 994l0 0M896 1088l0 0M841 979l0 0M832 1050l0 0M833 1018l0 0M936 999l2 3M998 1052l0 0M890 1049l0 0M829 1039l0 0M938 985l0 0M938 1017l0 0M885 1022l0 0M985 1097l0 0M907 1087l0 0M959 1079l0 0M928 1057l0 0M829 1062l0 0M933 1023l0 0M937 1055l0 0M989 1101l0 0M815 998l0 0M873 1052l0 0M911 995l0 0M994 1080l0 0M857 1099l0 0M849 1058l0 0M857 1077l0 0M930 1064l0 0M861 1056l0 0M949 1093l0 0M880 1027l0 0M977 984l0 0M841 1080l0 0M878 1000l0 0M803 998l0 0M914 1027l0 0M978 1059l0 0M835 1073l0 0M988 1008l0 0" stroke-width="4.4"/><path d="M885 1000l-1 1M903 1005l-1 3M950 1061l3 2M948 1056l-4 0M948 1058l0 2M987 1014l4 3M828 1027l0 0M914 1063l-1 1M906 1069l0 0M803 1013l0 2M910 1034l-2 3M866 1033l0 4M863 1027l-1 0M869 1030l-2 1M954 979l0 0M884 1062l-2 1M828 1010l1 4M975 978l-1 0M954 1083l4 2M944 1100l2 1M865 1050l2 4M822 988l-3 5M912 1006l0 1M924 1074l0 0M957 1101l1 0M986 1070l0 1M907 1081l-5 1M863 1004l0 0M880 1088l-1 4M967 1054l-1 0M911 1057l0 0M962 1074l0 0M983 983l0 6M847 995l-1 3M809 998l0 0M936 1098l1 1M924 1085l2 1M971 992l1 0M853 1003l0 1M807 1023l0 0M995 1070l0 0M894 1019l0 4M965 1019l0 0M825 982l0 0M975 998l0 0M857 1070l0 0M936 1041l0 0M813 1084l1 3M805 1029l3 5M818 1009l-1 3M1000 1059l0 0M827 1045l-3 0M851 990l0 0M824 1021l0 0M814 1057l0 0M854 1086l0 0M816 1025l0 0M921 1092l0 4M922 983l-2 5M847 1077l0 0M945 998l2 0M906 1016l0 0M998 1075l0 0M977 1038l0 0M818 1042l0 0M803 1076l0 0M966 1100l0 0M955 1094l0 0M967 1069l0 0M834 1089l0 0M990 1030l0 0M870 1086l0 0M893 1073l0 0M893 1100l0 0M920 1027l0 0M875 1082l0 0M882 1080l0 0M973 1045l2 2M885 1101l0 0M906 1025l0 0M811 1077l0 0M977 1031l0 0M929 1095l0 0M848 1066l0 0M833 1101l0 0M875 1027l0 0M806 1062l0 0M923 977l0 0" stroke-width="5.6"/><path d="M965 1042l0 1M829 1029l-2 0M922 1065l1 0M921 1064l3 3M895 1062l-1 3M802 1008l6 3M919 1040l1 4M907 1032l0 0M931 1016l-1 1M876 1072l1 0M799 1089l1 1M807 1092l-2 2M955 1052l0 0M830 1081l0 2M891 1093l-2 2M884 1034l-1 1M801 1036l1 3M813 1099l0 0M822 1068l0 0M896 1043l0 2M877 993l0 0M996 1035l0 1M938 992l0 0M891 987l6 4M809 1042l0 0M971 1059l0 0M851 1051l4 2M886 980l0 0M833 1000l-3 0M1000 987l0 0M947 1026l0 0M995 1086l-1 3M951 1072l0 0M948 1018l0 0M871 1017l0 0M890 1029l0 0M970 1091l0 0M863 1077l0 5M984 1055l0 1M851 1027l-1 2M973 1100l0 0M800 986l0 0M844 1089l0 0M934 1070l0 0M880 985l0 0M1001 1026l-2 1" stroke-width="7.2"/><path d="M982 1083l0 0M946 1056l1 7M827 1029l-2 1M919 1064l-3 4M863 988l4 8M924 1040l-1 1M868 1029l-2 3M960 982l-11 2M961 1009l8 0M934 1009l3 1M910 985l2 2M881 1067l-1 5M811 983l0 1M843 1099l-2 1M992 979l2 1M948 1035l-4 7M836 1039l0 0M989 1041l0 0M855 1037l0 0" stroke-width="8.8"/><path d="M978 1083l5 0M889 1004l-3 2M901 1009l0 0M986 1018l5 0M929 1010l0 3M880 1064l-8 3" stroke-width="10.8"/><path d="M957 1041l4 1M977 1076l0 6M833 1028l-1 0M898 1062l4 6M803 1086l1 1" stroke-width="13.2"/></g></g></g>
<clipPath id="cp21"><rect x="501.1" y="493.6" width="91" height="51.9"/></clipPath>
<g clip-path="url(#cp21)"><g filter="url(#disp21)"><rect x="498.1" y="490.6" width="97.0" height="57.9" fill="#875aba"/><g transform="scale(0.5)" stroke="#fff" stroke-linecap="round" fill="none"><path d="M1042 1087l-1 0M1170 1099l0 0M993 1033l0 3M1038 981l-1 1M1076 1014l0 1M1176 1056l0 0M1074 1020l-1 1M1096 996l0 0M1173 996l0 0M1112 1043l3 1M1074 1059l0 0M1138 1022l0 0M1128 1000l2 1M1132 992l0 0M1058 1061l0 0M1121 1024l0 0M1047 1048l0 0M1076 1088l0 0M1054 1005l0 0M1143 1091l0 0M1183 991l-2 1M1167 1070l0 0M1157 1002l0 1M1066 1074l0 0M1123 1017l-1 1M1031 1098l-1 0M1154 1097l0 0M1090 1033l1 2M1043 1026l0 0M1132 1080l2 0M1089 1045l0 0M1151 1000l1 1M1144 1035l0 0M1078 1064l0 0M1098 1030l0 0M1140 1091l0 0M1014 1022l0 0M1121 1067l0 0M1117 1052l-1 0M1030 993l0 0M1150 1045l0 0M1083 1086l0 0M1100 1100l0 2M1021 1018l0 0M1057 1075l0 0M1078 984l0 0M1050 1059l0 0M1073 1040l0 0M1141 1006l0 0M1077 991l0 0M1192 1074l0 0M1033 1071l0 0M1013 1028l-1 0M1069 993l0 0M1013 993l0 1M1037 1000l2 1M1078 1074l1 1M1113 1021l0 0M1040 977l0 0M1037 989l3 0M1056 1034l0 0M1104 1032l0 0M1151 1058l0 0M1095 1098l0 0M1188 1051l0 0M1163 1006l0 0M1034 984l0 0M1013 1054l0 0M1180 978l0 0M1144 979l1 2M1192 1094l1 2M1052 1096l1 1M1044 1081l0 0M1020 1080l1 2M1027 1027l0 1M1193 1039l0 0M1156 1019l0 0M1188 1033l0 0M1160 985l1 1M1128 1050l0 0M1142 1061l0 0M1016 1002l0 0M1079 1029l0 0M1121 1077l0 0M1100 1055l0 0M1160 1021l0 0M1016 1098l0 0M1028 1042l0 0M1014 989l0 0M1036 1067l0 0M1181 1056l0 0M1157 981l1 0M1163 1098l-1 1M1084 1046l0 0M1026 1039l0 0M1185 1021l0 0M993 1053l0 0M995 983l0 0M1131 1043l0 0M1058 1017l0 0M1121 1001l0 0M1108 1064l0 0M1125 1069l0 0M1076 1052l0 0M1038 1040l1 1M1093 1000l0 0M1119 980l0 0M1076 1067l0 0M1115 1027l0 0M1017 979l-1 2M1096 1034l0 0M1132 996l0 0M1136 1018l0 0M1004 1087l0 0M1080 1050l0 0M1133 1005l0 0M1137 995l0 0M1186 1048l0 0M1190 1016l0 0M1049 1100l0 0M1130 1070l0 0M1172 1077l1 1M1079 1018l0 0M1089 1018l0 0M1178 1050l0 0M1165 988l0 0M1085 978l0 0M1071 1065l0 0M1068 1013l0 0M1160 1029l0 0M1125 1046l0 0M1168 1043l-2 0M1083 1016l0 0M1170 1054l0 0M1109 1052l0 0M997 1040l0 0M1150 1022l0 0M1124 1004l0 0M1179 1101l0 0M1009 992l0 0M1185 1077l0 0M1170 994l0 0M1096 1010l0 0M1140 1068l0 0M1059 1057l0 0M1125 1059l0 0M1126 1065l0 0M1090 1092l0 0M1139 982l-1 0M1097 1025l0 0M1176 1039l0 0M1088 1071l0 0M1114 1003l0 0M1113 985l0 0M1114 990l0 0M1173 1053l0 0M1034 1101l0 0M1028 1007l0 0M1052 979l0 0M1185 1089l0 0M1022 1086l0 0M1155 994l0 0M999 999l0 0M1100 1028l0 0M1031 988l0 0M1044 1038l0 0M1016 1041l0 0M1121 1046l0 0M1087 1067l0 0M1159 1100l0 0M1107 1074l0 0M1077 1023l0 0M1147 1037l0 0M1048 1080l0 0M1038 1064l1 1M1072 1032l0 0M1152 1042l0 0M1047 1063l0 0M1135 1010l0 0M1019 1053l0 0M1108 1021l0 0M1128 1057l0 0M1055 1064l0 0M1054 1090l0 0M1017 1024l0 0M1091 1040l-1 1M1031 1075l0 0M1092 1029l0 0M1148 1019l0 0M1073 1101l0 0M1094 1008l0 0M1178 991l0 0M1019 1101l0 0M1160 1011l0 0M1025 1032l0 0M1035 1096l1 1M1128 1005l0 0M1031 999l0 0M1154 998l0 0M1180 985l0 0M1104 1071l0 0M1186 1038l0 0M1124 1034l0 0M1070 1061l0 0M1096 1003l0 0M1146 1042l0 0M999 1014l0 0M1140 1098l0 0M1162 1019l0 0M1186 1093l0 0M1080 1012l0 0M1076 1042l0 0M1118 1020l0 0M1020 1013l0 0M1157 1094l0 0M1065 992l0 0M1103 1025l0 0M1162 998l0 0M1168 1092l0 0M1194 1008l0 0M1006 1024l0 0M1130 1054l0 0M1085 1031l0 0M1043 1004l0 0M1144 1008l0 0M1021 1064l0 0M1148 1066l0 0M1105 1037l1 1M1140 1079l0 0M1002 1083l0 0M1182 1006l0 0M1044 1065l0 0M1088 1051l0 0M1091 1060l0 0M1084 1075l0 0M1121 1043l0 0M1105 1067l0 0M1030 1064l0 0M1039 984l0 0M1121 992l0 0M1025 1022l0 0M1069 1017l0 0M1041 1062l0 0M1188 988l0 0M1069 1072l0 0M1080 1083l0 0M1183 1051l0 0M1014 984l0 0M1081 993l0 0M1170 1057l0 0M1101 1038l0 0M1074 1055l0 0M1075 1046l0 0M1002 1050l0 0M1161 990l0 0M992 1083l0 0M1026 977l0 0M1019 1004l0 0M1017 1008l0 0M1194 1077l0 0M1084 1012l0 0M1182 1015l0 0M993 990l0 0M1012 981l0 0M1101 1066l0 0M1158 1084l0 0M1119 1014l0 0M1083 982l0 0M1155 1062l0 0M1183 1038l0 0M1035 1091l0 0M1181 1028l0 0M1058 1096l0 0M1147 999l0 0M1136 1100l0 0M1041 981l0 0M1054 1015l0 0M1031 1037l0 0M1143 1071l0 0M1054 1040l0 0M1172 1049l0 0M1052 1076l0 0M1105 1055l0 0M1058 1000l0 0M1032 1082l0 0M1172 1073l0 0M1146 1049l0 0M1189 1077l0 0M1173 992l0 0M1143 1064l0 0M1152 1038l0 0M1098 1017l0 0M1034 998l0 0M1149 1052l0 0M1089 1087l0 0M1022 993l0 0M1145 1030l0 0M1056 1030l0 0M1066 997l0 0M1052 1063l0 0M1159 1015l0 0M1082 1080l0 0M1068 986l0 0M1114 1031l0 0M1042 1077l0 0M999 1019l0 0M1110 1026l0 0M1089 987l0 0M1090 1074l0 0M1071 1069l0 0M1019 1089l0 0M995 1003l0 0M1140 1041l0 0M1015 1091l0 0M1154 1084l0 0M1054 1057l0 0M1047 1056l0 0M1072 1015l0 0M1093 1071l0 0M1020 1057l-1 0M1193 1049l0 0M1181 1083l0 0M1070 1035l0 0M1058 1005l0 0M1041 1014l0 0M1123 1082l0 0M1074 1062l0 0M1112 1064l0 0M1168 1047l0 0M1138 1094l0 0M1186 1017l0 0M998 1010l0 0M1126 1025l0 0M1188 993l0 0M1054 1100l0 0M1084 1065l0 0M1008 1068l0 0M1117 1089l0 0M1170 1024l0 0M1115 1065l0 0M1078 1044l0 0M1194 982l0 0M1073 1085l0 0M1119 1049l0 0M1101 1069l0 0M1109 977l0 0M1001 1072l0 0M1161 1093l0 0M1151 1018l0 0M996 1051l0 0M1124 1014l0 0M1152 1100l0 0M1096 986l0 0M1139 978l0 0M1188 984l0 0M1165 1094l0 0M1175 1074l0 0M1009 1024l0 0M1188 997l0 0M1024 1050l0 0M1169 997l0 0M1091 993l0 0M1184 1031l0 0M1185 1056l0 0M1048 1094l0 0M1131 986l0 0M1091 1054l0 0M1006 978l0 0M1020 1021l0 0M1033 1008l0 0M1028 1035l0 0M1150 1034l0 0M1051 1048l0 0M993 1040l0 0M1165 984l0 0M1078 1060l0 0M1100 1042l0 0M1064 977l0 0M1047 1025l0 0M1012 977l0 0M1159 994l0 0M1144 985l0 0M1059 1052l0 0M1039 1092l0 0M1176 995l0 0M1034 1063l0 0M1100 1034l0 0M999 1075l0 0M1060 1035l0 0M993 986l0 0M998 1030l0 0M1013 1031l0 0M1055 1009l0 0M1038 1026l0 0M1149 979l0 0M1193 1082l0 0M1024 1054l0 0M1189 1092l0 0M992 1057l0 0M1112 1054l0 0M1116 1086l0 0M992 1078l0 0M1183 1085l0 0M1144 1085l0 0M1175 1101l0 0M1071 1096l0 0M1032 1027l0 0M1142 1095l0 0M1086 1014l0 0M1135 984l0 0M1071 1058l0 0M1165 1066l0 0M1103 1051l0 0M1106 1023l0 0M1095 1015l0 0M1136 1006l0 0M1032 1041l0 0M1007 1090l0 0M1193 1100l0 0M1176 978l0 0M1057 1072l0 0M1050 1067l0 0M1060 1082l0 0M1032 1067l0 0M1156 1100l0 0M1161 1002l0 0M1038 1010l0 0M1185 987l0 0M1171 978l0 0M1149 984l0 0" stroke-width="3.2"/><path d="M1028 1014l-2 3M1048 1013l0 0M1005 1038l1 0M1131 1089l3 2M1129 1088l-2 2M1132 1095l-1 2M1132 1063l1 3M1059 1043l-1 2M1021 1070l0 0M1109 1058l0 0M1193 1065l0 0M1069 1091l4 1M1027 1001l-2 0M1107 1029l1 1M1032 1004l0 0M1091 1012l0 0M1132 1048l0 0M1165 1025l0 0M1183 997l0 0M993 1007l0 1M1044 986l0 0M1192 995l0 3M1055 1050l0 0M1180 1032l0 0M1149 1096l0 0M1174 1042l0 0M1127 1075l-1 2M1045 1060l0 0M1135 1043l0 0M1110 1068l1 3M1123 1053l0 0M1042 1096l2 2M1019 1094l0 0M1125 1041l0 0M1149 1062l2 1M1008 1047l0 0M1143 997l0 0M1122 1100l0 0M1184 978l0 4M1117 1071l0 0M1061 1078l0 0M1051 1043l0 0M1009 1100l0 1M1002 1024l0 0M1193 1034l0 0M1147 1004l0 0M1000 1035l0 0M1073 1049l0 0M1151 1030l4 1M1157 1088l0 0M1119 986l0 0M1093 990l0 0M1019 987l-2 2M1103 1062l0 0M1053 1081l0 0M1122 1073l0 0M1154 1024l0 0M1186 1002l0 0M1112 1050l0 0M1154 985l1 1M1038 1006l2 0M1153 978l0 0M1025 988l0 0M1053 1069l0 0M1084 1101l0 0M1044 1043l0 0M1188 1043l0 0M1021 981l0 0M1192 1004l0 0M1114 979l0 0M1073 987l0 0M1105 1099l0 0M1034 1087l0 0M1194 1012l0 0M1028 1084l0 0M1047 999l0 0M1074 1074l0 0M1026 1100l0 0M1037 994l0 0M1051 1054l0 0M1095 1040l0 0M1146 1056l0 0M1123 997l0 0M1193 1044l0 0M1062 1071l0 0M1010 1094l0 0M1190 979l0 0M1121 1086l0 0M1057 1085l0 0M1039 1101l0 0M1080 977l0 0M1076 1027l0 0" stroke-width="4.4"/><path d="M1006 998l-1 1M1047 1030l-4 1M1032 1022l4 0M1101 987l1 3M1012 1071l1 1M1048 1085l-2 1M1044 1086l-4 1M1050 1012l-1 1M1070 1005l4 1M1052 987l-2 3M1060 994l0 0M1172 1017l-3 2M1104 1019l-2 1M1002 982l-1 2M1133 1058l-1 2M1136 1053l4 1M1180 1090l-1 0M1173 1084l4 2M1067 1041l3 3M1027 1067l1 3M1177 1000l0 1M1109 982l0 0M1143 1024l2 1M997 1080l0 0M1025 1077l0 3M1139 989l-2 0M1084 1040l0 0M1148 1088l2 1M996 1025l-2 1M1164 994l0 0M994 1017l-4 1M1077 1097l1 2M1031 979l-3 3M1119 1029l0 0M1137 1001l2 1M1082 1092l0 0M1069 980l4 1M1163 1089l0 0M1142 1046l0 0M1115 1016l0 0M1026 995l0 0M1169 1003l0 0M1175 1025l0 0M1119 1036l0 0M1023 1007l0 1M1111 1037l0 0M1083 988l0 0M1039 1071l0 0M1004 1095l-1 2M1089 982l0 0M1002 1044l0 0M1194 1087l-1 2M1180 1021l0 0M1021 1027l0 0M1004 1076l0 0M1025 1059l0 0M997 1056l0 1M1187 1098l-1 3M1063 1003l0 0M994 1099l2 1M1137 1073l0 0M1081 1069l0 0M992 1045l2 1M1138 1084l0 0M993 996l0 0M1044 995l0 0M1046 979l0 0M1042 1020l0 0M1086 995l0 0M1095 1057l0 0M1077 1079l0 0M1089 1098l0 0M1128 1010l0 0M1060 1091l1 1M1187 1082l0 0M1179 1078l0 0M1066 1097l0 0M1060 1100l0 0M1019 997l0 0M1145 1100l0 0M1193 988l0 0M994 977l0 0" stroke-width="5.6"/><path d="M1062 1029l5 0M1163 1037l-4 3M1050 1032l0 4M1029 1017l-1 0M1045 1087l2 1M1176 1063l1 1M1051 985l1 0M1173 1018l-3 1M1104 1007l-2 4M1106 1008l2 1M1161 1057l2 4M1005 984l3 1M1130 1035l1 0M1137 1031l1 2M1062 1040l-2 5M1063 1064l2 1M1084 1023l1 3M1023 1045l0 0M1068 1079l-3 4M1025 1092l4 0M1102 978l-6 3M1094 1065l0 0M1181 1044l0 1M1164 978l1 0M1113 1078l3 3M1019 1035l0 0M1173 983l-3 2M1117 1095l-4 4M1093 1021l0 0M1106 1045l0 0M1119 1059l0 2M1119 1008l2 1M1115 997l1 1M1015 1048l0 0M1007 1054l0 0M1088 1081l0 0M1051 1020l0 0M1047 1072l0 0M1078 1035l-1 1M1140 1013l2 1M1188 1009l-2 2M1127 990l0 0M993 1063l1 7" stroke-width="7.2"/><path d="M1162 1077l2 3M1101 1090l-5 0M1106 1087l0 3M1105 1086l5 4M1107 990l-6 1M1013 1075l-2 9M1047 1009l-1 1M1173 1064l0 1M1184 1062l0 6M1006 1031l3 7M1130 1087l-2 8M1082 1002l4 3M1156 1048l0 1M1135 1057l0 5M1173 1087l4 7M1064 1044l0 0M1036 1033l0 0M1065 1055l0 0M1097 1047l-2 2M997 1089l0 0M1193 1056l0 0M1015 1062l-2 1M1003 1063l-1 2M1084 1057l-1 2M1153 1011l-2 0M1194 1021l-3 5M1131 977l-3 3M1036 1078l0 0M1148 991l1 0M1061 1011l0 0M1129 1018l0 0" stroke-width="8.8"/><path d="M1065 1024l-5 0M1150 1075l-3 3M1171 1034l-6 1M1033 1016l-1 1M1060 984l-5 8M1174 1012l-6 1M1105 1002l1 12M1002 986l-2 4M1130 1030l5 4" stroke-width="10.8"/><path d="M1156 1072l1 0M1007 1003l2 11M1098 1078l3 8M1178 1065l5 3M1075 1000l1 2M1160 1052l-1 1" stroke-width="13.2"/><path d="M1036 1052l0 0" stroke-width="16.0"/></g></g></g>
<text x="401.2" y="523.35" font-size="10" text-anchor="end" font-weight="normal" font-style="normal" fill="#1a1a1a" >VSV</text>
<clipPath id="cp30"><rect x="404" y="551.1" width="91.3" height="52.2"/></clipPath>
<g clip-path="url(#cp30)"><g filter="url(#disp30)"><rect x="401" y="548.1" width="97.3" height="58.2" fill="#9064c0"/><g transform="scale(0.5)" stroke="#fff" stroke-linecap="round" fill="none"><path d="M826 1114l-1 0M936 1198l0 0M848 1110l0 0M962 1107l2 0M993 1181l0 0M893 1119l-2 1M877 1111l0 0M812 1114l0 0M975 1112l-1 1M824 1150l0 0M887 1167l0 0M984 1168l0 0M856 1167l0 0M805 1161l0 0M816 1191l0 0M928 1157l0 0M824 1178l0 0M850 1170l0 0M824 1108l0 0M801 1125l0 0M944 1145l0 0M918 1214l-1 1M976 1164l-2 2M959 1100l-3 1M895 1153l0 0M876 1212l2 0M984 1213l0 0M1000 1162l0 0M984 1115l0 0M807 1122l0 0M888 1128l-3 1M923 1204l0 0M931 1103l0 0M810 1188l0 0M868 1168l0 0M899 1119l1 0M979 1107l0 1M864 1126l-2 0M958 1110l0 0M829 1153l0 0M907 1149l-2 0M854 1151l-1 2M855 1186l0 0M812 1138l0 0M890 1116l0 0M969 1149l0 1M861 1132l2 0M902 1149l0 0M962 1175l0 0M878 1095l0 0M906 1178l0 0M988 1115l0 0M852 1128l0 0M967 1116l2 1M800 1133l0 0M815 1200l0 0M986 1196l0 0M871 1178l0 0M887 1182l0 0M845 1133l0 0M899 1123l0 0M949 1206l0 0M914 1161l0 0M857 1153l0 0M848 1130l0 0M807 1204l0 0M999 1131l1 1M967 1215l1 1M835 1132l0 0M972 1118l0 0M868 1182l0 0M998 1192l0 0M955 1205l0 0M985 1201l0 0M813 1103l0 0M930 1180l0 0M893 1113l0 0M944 1134l-1 1M858 1108l0 0M846 1165l0 3M888 1172l0 0M909 1177l0 0M979 1112l0 0M983 1152l1 0M866 1156l0 0M888 1176l0 0M802 1106l0 0M851 1092l0 0M921 1128l0 0M985 1193l0 0M931 1139l0 0M817 1098l0 0M842 1132l0 0M895 1180l0 0M919 1111l0 0M994 1149l0 0M799 1208l0 0M925 1143l-1 1M986 1210l0 0M878 1100l1 1M980 1196l0 0M873 1188l0 0M973 1203l0 0M897 1130l0 0M877 1156l0 0M886 1103l0 0M999 1142l0 0M968 1113l0 0M835 1208l0 0M983 1155l0 0M934 1122l0 0M872 1205l0 0M809 1116l0 0M844 1206l0 0M840 1161l2 0M916 1150l0 0M962 1168l0 0M914 1115l0 0M798 1172l0 0M911 1166l0 0M949 1198l0 0M864 1095l0 1M854 1133l1 1M922 1209l0 0M835 1162l0 0M829 1106l0 0M865 1109l0 0M881 1180l0 0M988 1105l0 0M809 1103l1 2M849 1154l0 0M991 1113l0 0M982 1209l0 0M841 1129l0 0M885 1175l0 1M835 1126l0 0M907 1181l0 0M811 1159l0 0M890 1178l0 0M955 1098l0 0M863 1163l0 0M959 1096l0 0M801 1170l0 0M845 1137l0 0M897 1149l0 0M855 1143l0 0M948 1151l0 0M798 1107l0 0M876 1098l0 0M869 1160l0 0M916 1163l0 0M836 1159l0 0M862 1136l0 0M831 1125l0 0M986 1149l0 0M819 1178l-1 0M868 1152l0 0M970 1191l0 0M880 1108l0 0M869 1096l0 0M987 1205l0 0M948 1166l0 0M941 1120l0 0M854 1213l0 0M947 1136l0 0M920 1162l0 0M954 1216l0 0M903 1204l0 0M914 1130l0 0M955 1199l0 0M995 1115l0 0M807 1096l0 0M912 1152l0 0M811 1172l0 0M969 1157l2 0M800 1130l0 0M877 1191l0 0M841 1176l0 0M859 1112l-2 1M965 1099l0 0M833 1102l0 0M939 1158l0 0M1000 1113l1 0M959 1182l0 0M848 1212l0 0M969 1122l0 0M925 1113l0 0M845 1193l0 0M857 1126l0 0M991 1195l0 0M951 1201l0 0M902 1185l0 0M865 1124l0 0M993 1175l0 0M881 1093l0 0M976 1104l0 0M916 1159l0 0M874 1173l0 0M828 1127l0 0M876 1169l0 0M803 1166l0 0M985 1159l0 0M834 1177l0 0M890 1123l2 0M919 1179l0 0M824 1099l0 0M990 1145l0 0M990 1186l0 0M814 1176l0 0M960 1105l0 0M799 1200l0 0M989 1215l0 0M885 1215l0 1M921 1093l0 0M964 1153l0 0M887 1124l0 0M831 1194l0 0M881 1113l0 0M889 1092l0 1M820 1200l3 0M838 1177l0 0M942 1155l0 0M887 1118l0 0M874 1209l0 0M937 1207l0 0M963 1112l0 0M959 1213l0 1M963 1194l0 0M951 1164l0 0M869 1186l0 0M807 1110l0 0M881 1215l0 0M848 1188l0 0M866 1164l0 0M865 1130l0 0M987 1111l0 0M856 1156l0 0M991 1119l0 0M924 1125l0 0M829 1212l0 0M841 1101l0 0M906 1097l0 0M920 1207l0 0M985 1180l0 0M863 1202l1 1M998 1210l0 0M900 1114l0 0M906 1190l0 0M845 1107l0 0M875 1141l0 0M917 1113l0 0M822 1094l0 2M882 1212l0 0M827 1199l0 0M980 1155l0 0M812 1214l0 0M802 1162l0 0M981 1167l0 0M939 1199l-1 2M909 1210l0 0M992 1100l0 0M967 1194l0 0M1000 1151l0 0M990 1178l0 0M927 1207l0 0M997 1155l0 0M938 1124l0 0M971 1214l0 0M887 1097l0 0M975 1117l0 0M891 1144l0 0M939 1147l0 0M977 1142l0 0M851 1108l0 0M963 1181l0 0M880 1154l0 0M883 1209l0 0M890 1216l0 0M885 1094l0 0M895 1204l0 0M937 1121l0 0M900 1106l0 0M834 1156l0 0M865 1206l-2 0M912 1198l0 0M818 1129l0 0M846 1190l0 0M870 1165l0 0M967 1182l1 1M921 1106l0 0M816 1216l0 0M906 1108l0 0M973 1129l0 0M850 1103l0 0M825 1105l0 0M869 1173l0 0M880 1177l0 0M968 1098l0 0M841 1167l0 0M919 1157l0 0M979 1162l0 0M985 1183l0 0M850 1112l0 0M871 1149l0 0M986 1186l0 0M901 1189l0 0M1000 1157l0 0M813 1191l0 0M929 1151l0 0M808 1200l0 0M993 1094l0 0M893 1140l0 0M829 1117l0 0M920 1125l0 0M991 1151l0 0M957 1140l0 0M820 1165l0 0M837 1129l0 0M909 1094l0 0M989 1199l0 0M872 1097l0 0M813 1135l0 0M854 1176l0 0M861 1108l0 0M936 1195l0 0M843 1170l0 0M850 1165l0 0M916 1181l0 0M971 1111l0 0M867 1136l0 0M939 1154l0 0M993 1123l0 0M828 1148l0 0M813 1154l0 0M959 1210l0 0M916 1195l0 0M993 1154l0 0M877 1152l0 0M802 1208l0 0M927 1216l0 0M963 1214l0 0M840 1092l0 0M980 1131l0 0M904 1193l0 0M849 1216l0 0M916 1118l0 0M912 1128l0 0M799 1102l0 0M886 1152l0 0M928 1141l0 0M854 1173l0 0M989 1192l0 0M878 1161l0 0M906 1206l0 0M798 1194l0 0M983 1127l0 0M979 1159l0 0M804 1157l0 0M899 1183l0 0M968 1162l0 0M900 1144l0 0M975 1109l0 0M887 1203l0 0M872 1170l0 0M910 1124l0 0M944 1129l0 0M922 1217l0 0M945 1108l0 0M842 1135l0 0M931 1106l0 0M1000 1200l0 0M849 1206l0 0M942 1200l0 0M852 1156l0 0M866 1159l0 0M798 1155l0 0M969 1198l0 0M948 1133l0 0M893 1177l0 0M965 1121l0 0M942 1160l0 0M865 1187l0 0M855 1183l0 0M817 1096l0 0M933 1216l0 0M976 1157l0 0M1000 1188l0 0M979 1116l0 0M809 1100l0 0M996 1112l0 0M819 1120l0 0M839 1132l0 0M846 1215l0 0M883 1105l0 0M809 1174l0 0M956 1126l0 0M946 1153l0 0M875 1166l0 0M898 1188l0 0M923 1153l0 0M806 1189l0 0M833 1160l0 0M976 1176l0 0M899 1152l0 0M933 1126l0 0M1000 1195l0 0M978 1146l0 0M840 1125l0 0M857 1122l0 0M872 1140l0 0M973 1216l0 0M818 1092l0 0M877 1164l0 0M901 1098l0 0M945 1216l0 0M898 1141l0 0M892 1203l0 0M922 1174l0 0M856 1137l0 0M846 1142l0 0M883 1152l0 0M967 1190l0 0M815 1159l0 0M971 1173l0 1M996 1152l0 0M988 1189l0 0M944 1111l0 0M968 1109l0 0M968 1154l0 0M977 1131l0 0M946 1148l0 0M942 1126l0 0M876 1203l0 0M897 1117l0 0M948 1217l0 0M807 1107l0 0M959 1160l0 0M985 1217l0 0M914 1213l0 0M804 1185l0 0M972 1107l0 0M914 1189l0 0M856 1191l0 0M900 1192l0 0M927 1153l0 0M961 1102l0 0M876 1176l0 0M842 1106l0 0M806 1093l0 0M919 1166l0 0M808 1113l0 0M981 1171l0 0M848 1106l0 0M882 1098l0 0M869 1206l0 0M945 1169l0 0M920 1136l0 0M806 1164l0 0M827 1124l0 0M830 1121l0 0M903 1182l0 0M922 1099l0 0M827 1216l0 0M935 1118l0 0M798 1135l0 0M973 1194l0 0M978 1166l0 0M957 1144l0 0M839 1216l0 0M878 1209l0 0M946 1203l0 0M828 1191l0 0M804 1207l0 0M828 1140l0 0M906 1174l-1 0M939 1191l0 0M862 1210l0 0M888 1149l0 0M946 1140l0 0M817 1156l0 0M827 1097l0 0M862 1148l0 0M810 1136l0 0M861 1098l0 0M962 1211l0 0M851 1150l0 0M826 1187l0 0M813 1211l0 0M827 1109l0 0M857 1118l0 0M798 1204l0 0M995 1172l0 0M970 1164l0 0M854 1169l0 0M954 1138l0 0M905 1093l0 0M831 1114l0 0M815 1173l0 0M933 1135l0 0M958 1216l0 0M870 1157l0 0M851 1174l0 0M941 1111l0 0M942 1113l0 0M924 1102l0 0M801 1154l0 0M873 1114l0 0M851 1132l0 0M945 1157l0 0M803 1145l0 0M879 1150l0 0M923 1140l0 0M894 1127l0 0M991 1217l0 0M810 1192l1 1M874 1215l0 0M893 1092l0 0M953 1147l0 0M855 1109l0 0M936 1092l0 0M973 1145l0 0M930 1154l0 0M956 1107l0 0M947 1127l0 0M983 1198l0 0M919 1107l0 0M911 1180l0 0M926 1093l0 0M968 1092l0 0M883 1115l0 0" stroke-width="3.2"/><path d="M853 1202l-1 0M983 1100l0 3M816 1142l3 0M819 1143l2 0M894 1103l0 0M883 1184l2 2M897 1110l0 0M831 1207l0 0M807 1196l-4 0M813 1108l0 1M853 1209l-1 1M892 1198l1 2M813 1119l1 1M914 1155l0 0M874 1158l-1 3M832 1110l0 0M804 1132l2 2M880 1139l0 0M859 1186l1 1M812 1094l1 4M991 1203l2 1M804 1119l0 0M818 1112l0 0M818 1125l0 0M900 1093l2 1M988 1155l0 0M963 1093l2 2M924 1157l0 0M918 1132l0 0M994 1105l-2 4M965 1160l-2 2M882 1171l-3 2M979 1202l3 3M1000 1205l1 1M808 1209l0 0M872 1154l0 0M901 1177l1 0M863 1153l0 0M979 1136l0 0M964 1185l0 0M859 1141l0 0M836 1103l0 0M815 1186l0 0M859 1215l1 1M929 1145l0 0M819 1116l-1 0M871 1194l0 0M909 1119l-3 2M803 1202l-1 1M872 1091l2 3M851 1136l1 3M861 1122l0 0M1000 1119l-2 0M946 1162l0 0M901 1171l0 0M816 1132l3 0M880 1166l0 0M800 1159l0 0M996 1099l2 3M929 1111l3 1M998 1147l0 0M892 1150l0 0M885 1155l0 0M924 1213l0 0M920 1150l0 0M999 1107l0 0M806 1140l0 0M798 1166l1 1M960 1155l0 0M857 1210l0 0M907 1129l0 0M907 1185l0 0M976 1208l0 0M857 1130l0 0M883 1205l-4 1M823 1124l0 0M933 1204l0 0M824 1129l0 0M868 1190l0 0M849 1161l0 0M864 1194l0 0M858 1148l0 0M852 1098l0 0M891 1156l0 0M907 1170l0 0M824 1118l0 0M898 1127l0 0M968 1177l0 0M844 1103l0 0M974 1198l0 0M892 1131l0 0M812 1197l0 0M847 1173l0 0M981 1149l0 0M831 1132l0 0M955 1163l0 0M895 1144l0 0M839 1189l0 0M819 1161l0 0M935 1189l0 0M894 1173l0 0M878 1216l0 0M990 1160l0 0M941 1174l0 0M989 1182l0 0M952 1135l0 0M942 1150l0 0M852 1189l0 0M985 1163l0 0M903 1126l0 0M953 1104l0 0M897 1217l0 0" stroke-width="4.4"/><path d="M979 1180l1 1M905 1165l0 0M850 1195l1 1M825 1206l-4 1M918 1145l-2 1M994 1140l0 3M819 1147l-1 4M839 1143l2 0M892 1102l3 3M891 1100l2 2M937 1105l1 2M881 1194l-2 2M880 1196l-1 2M838 1109l0 0M986 1173l-3 2M801 1149l1 1M991 1168l0 0M970 1102l-1 1M813 1125l0 0M953 1142l-4 1M912 1184l0 0M876 1146l1 0M951 1129l0 0M915 1123l-1 2M836 1096l-5 0M990 1210l1 0M967 1168l-1 4M996 1159l0 0M834 1213l0 0M884 1145l-1 1M974 1149l2 2M860 1160l-4 2M983 1142l0 0M808 1155l0 0M943 1207l2 4M930 1212l-1 0M936 1177l0 0M801 1181l-1 1M839 1183l0 0M956 1150l0 0M813 1204l0 0M938 1130l2 2M941 1195l3 0M984 1108l0 0M916 1208l0 0M896 1135l0 0M872 1200l0 0M803 1175l0 0M866 1199l0 0M926 1098l1 0M906 1114l0 0M909 1203l0 0M976 1170l0 0M917 1201l0 0M994 1189l0 0M926 1106l0 0M827 1144l0 0M812 1166l1 1M961 1146l0 0M931 1092l0 0M938 1115l0 0M811 1131l0 0M925 1149l0 0M828 1101l0 0M902 1131l0 0M997 1127l0 0M805 1102l0 0M850 1145l0 0M924 1178l0 0M800 1140l0 0M807 1127l0 0M997 1184l0 0M900 1207l0 0M806 1169l0 0M825 1135l0 0M827 1093l0 0" stroke-width="5.6"/><path d="M908 1161l0 0M893 1162l2 2M858 1202l-1 2M823 1212l-1 0M907 1137l-4 1M932 1159l1 1M925 1163l4 2M871 1132l1 2M956 1189l2 3M951 1177l1 2M965 1127l-1 3M835 1197l-2 3M836 1201l0 2M836 1198l-3 3M935 1098l2 1M947 1098l0 5M835 1167l1 3M841 1211l0 0M863 1170l-3 1M875 1182l0 0M894 1192l0 0M974 1093l0 0M824 1157l2 6M888 1110l-3 0M822 1192l-2 1M979 1215l0 2M829 1180l0 0M900 1200l0 0M912 1109l0 0M864 1178l-3 1M858 1102l-3 1M934 1183l0 0M892 1185l0 0M999 1168l0 0M929 1118l-1 3M934 1149l0 1M887 1136l0 0M906 1102l0 0M821 1172l6 1M995 1198l0 0M821 1183l0 0M928 1132l-1 4M884 1161l0 0M910 1192l-2 3M921 1117l0 0M832 1187l0 0M952 1211l0 0M938 1214l0 0M999 1176l0 0M953 1093l0 0M796 1188l5 0M1000 1093l0 0" stroke-width="7.2"/><path d="M856 1197l-5 2M906 1142l0 0M987 1095l-6 4M840 1119l-2 1M990 1130l-2 4M817 1142l-7 4M926 1191l0 2M878 1131l0 0M873 1128l1 0M953 1117l-3 3M955 1116l4 2M950 1112l3 0M968 1208l1 0M893 1099l2 2M967 1128l1 6M840 1197l0 2M883 1188l1 9M916 1171l-1 3M819 1104l0 0M915 1097l0 5M849 1181l-3 1M801 1112l0 0M801 1215l5 1M809 1181l1 1M866 1143l0 0M868 1103l5 2M937 1141l0 0M904 1214l6 3M867 1115l0 1M952 1156l1 1M845 1096l0 0M976 1123l0 0M868 1213l0 7M891 1210l2 0M798 1093l2 3M985 1122l0 0M998 1215l0 0M858 1093l0 0" stroke-width="8.8"/><path d="M905 1157l-10 7M821 1208l-1 2M840 1118l-3 0M934 1164l4 1M950 1117l0 3M962 1202l4 2M957 1189l-4 3M971 1137l0 1M943 1099l-4 2" stroke-width="10.8"/><path d="M976 1185l2 3M911 1138l4 4M844 1118l4 3M989 1133l4 3M930 1166l-1 3M922 1187l6 10M836 1141l5 11M954 1173l-7 11M961 1132l8 6" stroke-width="13.2"/><path d="M878 1122l-4 7" stroke-width="16.0"/></g></g></g>
<clipPath id="cp31"><rect x="501.1" y="551.1" width="91" height="52.2"/></clipPath>
<g clip-path="url(#cp31)"><g filter="url(#disp31)"><rect x="498.1" y="548.1" width="97.0" height="58.2" fill="#9064c0"/><g transform="scale(0.5)" stroke="#fff" stroke-linecap="round" fill="none"><path d="M1096 1136l0 0M1006 1136l1 1M1143 1121l0 0M1051 1138l0 0M1077 1107l-2 1M1158 1155l1 3M1008 1125l-3 1M1053 1173l-1 0M1016 1095l0 0M994 1213l1 1M1110 1158l0 0M1173 1116l0 0M1042 1187l2 1M1023 1112l0 0M1120 1216l2 0M1138 1170l0 0M1180 1162l2 0M1076 1142l1 0M1098 1189l0 0M1097 1098l-1 1M1068 1194l-1 1M1039 1210l1 1M1064 1197l0 0M1005 1205l2 1M1164 1178l0 0M1130 1204l0 0M1050 1170l0 0M1037 1168l0 2M1084 1123l0 0M1080 1186l0 1M1112 1113l-1 1M1121 1166l0 0M1098 1184l1 0M1057 1143l0 0M1085 1135l0 0M1191 1213l0 0M1074 1211l0 0M1007 1209l0 0M1060 1095l0 1M1170 1097l0 0M1133 1209l0 0M1162 1129l0 0M1183 1190l0 0M1030 1123l1 2M1057 1150l1 1M1166 1096l0 0M1019 1214l2 0M1117 1190l0 0M1179 1189l0 0M1022 1149l0 0M1058 1159l0 0M1018 1175l0 1M1167 1161l0 0M1035 1152l0 0M1166 1100l-1 1M1146 1164l0 0M1055 1161l0 0M1164 1198l0 0M1094 1148l0 0M1187 1165l-1 0M1153 1207l0 0M1055 1141l0 0M1175 1130l0 0M1158 1134l0 0M1165 1150l0 0M1174 1212l2 1M1107 1191l0 0M1012 1137l0 0M1138 1093l0 0M1058 1128l0 0M1005 1181l0 0M1054 1138l0 0M1115 1196l0 0M1127 1118l0 0M1154 1168l0 0M1169 1167l0 0M1065 1202l0 0M1190 1170l0 0M1037 1121l0 0M1092 1117l0 0M997 1211l0 0M1030 1102l1 1M1177 1185l0 0M1049 1128l0 0M1100 1192l0 0M1175 1097l0 0M1090 1115l0 0M1185 1118l0 0M1072 1121l0 0M1141 1149l0 0M1095 1112l0 0M1005 1212l0 0M1129 1114l0 0M1041 1114l0 0M1045 1095l0 0M1122 1193l0 0M998 1183l-1 0M1007 1110l0 0M1037 1133l0 0M1093 1153l0 0M1007 1132l0 0M1156 1185l0 0M1003 1164l0 0M1138 1190l0 0M1087 1128l0 0M1097 1144l0 0M1000 1167l0 0M1186 1161l0 0M1158 1104l0 0M1088 1151l0 2M1146 1208l0 0M1058 1190l0 0M1134 1093l0 0M1005 1197l0 0M995 1189l0 0M1180 1213l0 0M1075 1200l0 0M1097 1200l0 0M1187 1212l0 0M1035 1149l0 0M1118 1201l0 0M994 1185l0 0M1156 1189l0 0M1097 1150l0 0M1103 1210l0 0M994 1151l0 0M1195 1146l-1 2M1048 1202l0 0M1061 1116l0 0M1056 1125l0 0M1018 1116l0 0M1171 1129l0 0M1062 1211l2 1M1049 1125l0 0M1037 1145l0 0M1156 1101l0 0M1149 1166l0 0M1048 1167l0 0M1165 1104l0 0M1051 1122l0 0M1088 1122l0 0M1066 1188l0 0M1033 1193l0 0M1029 1130l0 0M1065 1149l0 0M1066 1094l-2 0M1128 1196l0 0M1113 1117l0 0M1059 1207l0 0M1105 1128l0 0M1060 1119l0 0M1072 1197l0 0M1084 1164l0 0M1019 1093l0 0M1028 1156l1 2M1059 1172l0 0M1030 1214l0 0M1002 1121l0 0M1171 1144l0 0M1067 1209l0 0M1181 1176l1 0M1075 1113l0 0M1176 1170l0 0M1006 1216l0 0M1070 1201l0 0M1157 1138l0 0M1192 1195l-2 1M1160 1203l0 0M1002 1146l0 0M1091 1122l0 0M1192 1167l0 0M1036 1190l0 0M1154 1182l0 0M1034 1157l0 0M1153 1172l0 0M1167 1216l1 0M1044 1184l0 0M1087 1131l0 0M1190 1140l0 0M1094 1093l0 0M1111 1192l0 0M1057 1214l2 2M1097 1139l0 0M1034 1208l0 0M1111 1134l0 0M1039 1187l0 0M1038 1140l-2 1M1130 1135l0 0M1016 1113l0 0M1143 1151l0 0M1092 1165l0 0M1002 1150l0 0M1148 1158l0 0M1020 1139l0 0M1169 1194l0 0M1172 1190l0 0M1022 1158l0 0M1077 1176l0 0M1009 1181l0 0M1016 1110l0 0M1106 1159l0 0M1095 1156l0 0M1064 1098l0 0M1022 1209l0 0M1177 1101l0 0M1015 1156l1 0M1193 1185l-1 0M1038 1104l0 0M1023 1153l0 0M1043 1111l0 0M1076 1187l0 0M1104 1187l0 0M1017 1141l0 0M1191 1143l-2 0M1159 1206l0 0M1119 1158l0 0M1189 1160l0 0M1096 1203l0 0M1026 1135l0 0M1099 1198l0 0M995 1098l0 0M1141 1181l0 0M1056 1175l0 0M1070 1205l0 0M1015 1152l0 0M1161 1187l0 0M1044 1170l0 0M1000 1154l0 0M1027 1212l0 0M1095 1117l0 0M1126 1115l0 0M1004 1092l0 0M1033 1133l0 1M1056 1121l0 0M1193 1140l0 0M1086 1185l0 0M1055 1130l0 0M1109 1155l0 0M1040 1170l0 0M1117 1154l0 0M1015 1099l0 0M1149 1170l0 0M1163 1098l0 0M1170 1174l0 0M1024 1188l0 0M1161 1095l0 0M1001 1116l0 0M1036 1124l0 0M1056 1146l0 0M995 1173l0 0M995 1125l0 0M1173 1104l0 0M1168 1115l0 0M1143 1093l0 0M1162 1103l0 0M1072 1110l0 0M1176 1115l0 0M1076 1103l0 0M1122 1210l0 0M1118 1121l0 0M1138 1187l0 0M1032 1197l0 0M993 1204l0 0M1032 1173l0 0M1064 1215l0 0M1157 1095l0 0M1054 1152l0 0M1122 1158l0 0M1029 1189l0 1M1113 1158l0 0M1157 1126l0 0M1146 1149l0 0M1110 1143l0 0M1073 1149l0 0M1114 1125l0 0M1018 1110l0 0M1184 1210l0 0M1124 1112l0 0M1103 1207l0 0M1144 1214l0 0M993 1127l0 0M1090 1132l0 0M1108 1195l0 0M1005 1168l0 0M1002 1184l0 0M1019 1166l0 0M1034 1199l0 0M1070 1170l0 0M1072 1106l0 0M1098 1105l0 0M1094 1133l0 0M1004 1171l0 0M1039 1093l0 0M1109 1164l2 1M1110 1138l0 0M1103 1183l0 0M1183 1142l0 0M1048 1093l0 0M1059 1179l0 0M1159 1108l0 0M1056 1099l0 0M1185 1176l0 0M1106 1120l0 0M1062 1195l0 0M1044 1157l0 0M1038 1203l0 0M1018 1107l0 0M1177 1105l0 0M1183 1122l0 0M1107 1100l0 0M1019 1171l0 0M1187 1124l0 0M1051 1190l0 0M1036 1093l0 0M1049 1210l0 0M1063 1151l0 0M1172 1169l0 0M1194 1109l0 0M1147 1120l0 0M1125 1213l0 0M1157 1092l0 0M1145 1142l0 0M1098 1147l0 0M1125 1156l0 0M1046 1173l0 0M1006 1140l0 0M1087 1118l0 0M1181 1180l0 0M1137 1216l0 0M1141 1200l0 0M1164 1112l0 0M1052 1118l0 0M1046 1124l0 0M1134 1175l-2 0M1193 1158l0 0M1147 1093l0 0M1089 1188l0 0M1055 1135l0 0M1149 1111l0 0M1141 1194l0 0M1072 1173l2 1M1185 1214l0 0M1016 1103l0 0M1029 1207l0 0M1064 1126l0 0M1051 1165l0 0M1071 1127l0 0M1054 1156l0 0M1163 1146l0 0M1003 1134l0 0M1058 1156l0 0M1061 1192l0 0M1029 1175l0 0M1065 1191l0 0M1138 1196l0 0M996 1138l0 0M1122 1099l-1 0M1111 1129l0 0M1162 1211l0 0M1012 1153l0 0M1047 1186l0 0M994 1147l0 0M1148 1217l0 0M1181 1166l0 0M1063 1207l0 0M1175 1160l0 0M1071 1177l0 0M1151 1160l0 0M1025 1216l0 0M1151 1121l0 0M1112 1096l0 0M1060 1186l0 0M1051 1187l0 0M1095 1175l0 0M1028 1099l0 0M1011 1179l0 0M1094 1122l0 0M1189 1120l0 0M1164 1093l0 0M1142 1184l0 0M1011 1112l0 0M1082 1168l0 0M1005 1114l0 0M1173 1216l0 0M1030 1148l0 0M1016 1167l0 0M1006 1164l0 0M1123 1093l0 2M1025 1208l0 0M1012 1104l0 0M1153 1165l0 0M1184 1127l0 0M1070 1103l0 0M1132 1130l-1 1M998 1100l0 0M1170 1213l0 0M1135 1159l0 0M1142 1144l0 0M1020 1133l0 0M1079 1182l0 0M1107 1167l0 0M1172 1162l0 0M1093 1140l0 0M1059 1183l0 0M1054 1108l0 0M1091 1174l0 0M1063 1187l0 0M1113 1156l0 0M1173 1148l0 0M1022 1136l0 0M1134 1132l0 0M1009 1184l0 0M1039 1117l0 0M1049 1190l0 0M1095 1161l0 0M1021 1109l0 0M993 1154l0 0M1141 1216l0 0M1037 1206l0 0M1132 1116l0 0M1155 1157l0 0M992 1119l0 0M1145 1155l0 0M1171 1197l0 0M1095 1167l0 0M1030 1135l0 0M1042 1096l0 0M1159 1098l1 2M1031 1187l0 0M1156 1208l0 0M1018 1126l0 0M1012 1185l0 0M1032 1107l0 0M1186 1206l0 0M1160 1137l0 0M1170 1093l0 0M1165 1109l1 0M1143 1198l0 0M1123 1148l0 0M1124 1174l0 0M1081 1208l0 0M1039 1215l0 0M1036 1138l0 0M1137 1203l0 0M1152 1211l0 0M1101 1172l0 0M1032 1154l0 0M1086 1168l0 0M1165 1118l0 0M1011 1206l0 0M1036 1107l0 0M1031 1200l0 0M1071 1189l0 0M1194 1216l0 0M1015 1176l0 0M1115 1192l0 0M1057 1117l0 0M1133 1205l0 0M1059 1124l0 0M1016 1216l0 0M1002 1124l0 0M1178 1216l0 0M1164 1153l0 0M1068 1150l0 0M992 1189l0 0M1050 1096l0 0M1028 1120l0 0M1149 1103l0 0M1042 1174l0 0M1019 1145l0 0M1077 1117l0 0M1138 1167l0 0M1160 1132l0 0M1188 1146l0 0M1161 1208l0 0M1173 1209l0 0M1041 1166l0 0M1017 1137l0 0M1059 1211l0 0M1005 1108l0 0M1185 1168l0 0M1133 1137l0 0M1168 1182l0 0M1125 1099l0 0M1185 1143l0 0M1124 1183l0 0M1088 1134l0 0M1194 1169l0 0M1180 1151l0 0M1194 1153l1 0M1133 1177l0 0M1068 1106l0 0M1167 1186l0 0M1172 1194l0 0M1152 1112l0 0M1189 1185l0 0M1163 1216l0 0M1070 1208l0 0M1098 1154l0 0M1079 1202l0 0M1077 1138l0 0M1084 1092l0 0M1102 1099l0 0M1034 1121l0 0M1025 1192l0 0M1099 1136l0 0M1088 1165l0 0M1161 1111l0 0M1194 1199l0 0M1076 1196l0 0M1123 1117l0 0M1093 1098l0 0M1025 1156l0 0M1059 1146l0 0M1177 1149l0 0M994 1209l0 0M1042 1140l0 0M1040 1137l0 0M1101 1188l0 0M1009 1129l0 0M1154 1117l0 0M1157 1117l0 0M1031 1211l0 0M1149 1107l0 0M1052 1142l0 0M996 1203l0 0M1046 1206l0 0M1042 1216l0 0M1132 1158l0 0M1073 1124l1 1M1069 1173l0 0M1128 1097l0 0M1115 1121l0 0M1096 1109l0 0M996 1153l0 0M1122 1119l0 0M1106 1176l0 0M1145 1145l0 0M1010 1136l0 0M1085 1149l0 0M1024 1212l0 0M1180 1124l0 0M1168 1112l0 0M1194 1190l0 0M1107 1162l0 0M1148 1152l0 0M1022 1163l0 0M1073 1102l0 0M1045 1203l0 0M1020 1154l0 0M1022 1186l0 0M1053 1128l0 0M992 1123l0 0M992 1171l0 0M1075 1128l0 0M1004 1209l0 0" stroke-width="3.2"/><path d="M1151 1148l2 1M1015 1146l1 2M1009 1098l-2 0M1143 1190l0 0M1094 1213l1 3M1180 1205l-1 2M1051 1132l0 0M1155 1161l2 2M1183 1184l1 2M1163 1193l0 0M1170 1101l-2 1M1075 1180l-2 1M1161 1182l2 1M995 1167l-1 0M1128 1092l2 2M1159 1170l2 0M1153 1105l2 2M1168 1190l0 0M1152 1154l0 1M1169 1147l0 0M1090 1094l0 0M1076 1147l0 0M1090 1159l0 2M999 1095l1 0M1160 1150l0 0M1005 1176l-3 0M1106 1172l0 0M1011 1108l1 0M1025 1160l3 3M1189 1151l0 4M1045 1162l0 0M999 1163l0 0M996 1206l4 1M1155 1121l0 0M1148 1211l0 1M1026 1150l2 1M998 1148l0 0M1014 1118l0 0M1189 1190l0 0M1180 1128l0 0M1037 1099l0 0M1069 1185l0 0M1101 1203l0 0M1090 1137l0 0M1153 1094l0 0M1164 1158l0 0M1173 1125l0 0M1054 1113l0 0M1184 1156l0 0M1036 1129l0 0M1012 1216l0 0M1080 1093l0 0M1156 1113l0 0M1042 1206l0 0M994 1093l0 0M1026 1184l0 0M1193 1123l0 0M1001 1215l0 0M1004 1160l0 0M1078 1123l0 0M1127 1209l0 0M1180 1146l0 0M1119 1197l0 0M1072 1116l0 0M1160 1122l0 0M995 1103l0 0M1146 1200l2 2M1097 1171l0 0M998 1125l0 0M1080 1110l0 0M1133 1214l0 0M1018 1162l0 0M1175 1165l0 0M1034 1203l-1 0M1054 1203l0 0M1193 1094l0 0M1136 1118l0 0M1120 1151l1 2M1128 1216l0 0M1039 1109l0 0M1178 1141l0 0M1176 1121l0 0M1161 1115l0 0M1050 1206l0 0M1026 1195l0 0M1003 1201l0 0M1033 1168l0 0M1066 1101l0 0M1013 1124l0 0M1054 1209l0 0M1101 1092l-1 3M1115 1139l0 0M997 1157l0 0M1132 1121l0 0M1187 1201l0 0M1194 1163l0 0M1027 1200l0 0M1090 1169l0 0M1018 1122l0 0M1186 1180l0 0M1160 1198l0 0M1143 1204l0 0M1064 1167l0 0M1167 1178l0 0M1083 1181l0 0M1026 1107l0 0M1186 1194l0 0M1023 1118l0 0M999 1187l0 0M1001 1129l0 0M992 1160l0 0" stroke-width="4.4"/><path d="M1185 1135l1 1M1151 1141l1 0M1060 1103l0 2M1059 1102l0 3M1050 1105l-1 4M1042 1102l1 1M1050 1102l-3 0M1019 1194l2 1M1011 1143l0 0M1007 1147l1 1M1133 1142l-2 1M1147 1191l0 0M1148 1185l3 1M1166 1137l-2 3M1094 1209l0 2M1031 1116l1 0M1126 1133l0 2M1187 1108l2 1M1183 1106l-2 1M1064 1173l1 2M1030 1095l0 0M1082 1116l0 3M1170 1120l-4 3M1086 1140l-3 0M1162 1164l0 0M1059 1164l-3 2M1017 1182l0 0M1150 1098l-1 1M1110 1148l3 1M1000 1140l0 2M996 1131l1 2M1103 1145l1 0M1100 1112l0 2M1157 1193l0 0M1080 1213l-4 3M1066 1180l-2 0M1116 1163l0 0M1004 1189l0 0M1053 1090l1 4M1075 1191l0 0M1118 1115l0 0M1040 1124l1 3M1121 1141l-2 2M1050 1159l0 0M1153 1199l3 3M1060 1201l0 1M1184 1149l0 0M1111 1108l0 0M1054 1181l1 5M1136 1182l0 0M1158 1176l-1 1M1149 1116l0 0M1106 1115l0 0M1167 1172l0 0M1188 1115l2 0M1051 1216l-1 0M1111 1123l-1 1M1038 1160l-2 3M1143 1160l0 0M997 1120l0 0M1103 1195l0 0M1069 1213l0 0M1171 1184l0 0M1182 1171l0 0M999 1171l0 0M1138 1162l0 0M1108 1096l0 0M1117 1095l0 0M1044 1211l0 0M1024 1178l0 0M1081 1146l0 0M1099 1131l0 0M1103 1104l1 3M1133 1200l0 0M1092 1127l0 0M1034 1216l0 0M1022 1104l0 0M993 1141l0 0" stroke-width="5.6"/><path d="M1065 1111l0 1M1041 1151l-1 2M1011 1196l-1 4M1014 1190l2 1M1134 1153l4 1M1084 1192l-3 3M1091 1193l2 0M1111 1210l0 0M1131 1166l1 3M1190 1100l1 3M1088 1106l0 4M1105 1134l-1 4M1023 1097l0 0M1046 1136l0 0M1082 1129l-2 2M1022 1204l-4 0M997 1194l-2 3M1139 1209l1 3M1076 1170l0 0M1100 1123l0 2M1128 1188l-2 1M1024 1124l-1 5M1014 1132l0 0M1148 1176l0 0M1085 1174l-3 1M1100 1160l1 6M1144 1169l0 0M1175 1176l0 2M1139 1175l0 0M1127 1178l0 0M1168 1202l-1 6M1119 1105l-1 2M1007 1119l0 0M1014 1211l0 0M1173 1109l0 0M1113 1101l0 0M1089 1146l0 0M1066 1120l0 0M1075 1205l0 0M1158 1214l-3 3M1006 1154l0 0M1191 1176l3 1M1176 1154l-4 1M1048 1178l0 0M1133 1194l0 0M1011 1160l0 0M1091 1181l0 1M1025 1169l0 0M1103 1153l0 0M995 1178l0 0M1072 1096l1 1M1181 1115l0 0M1136 1126l0 0" stroke-width="7.2"/><path d="M1154 1144l-1 3M1060 1106l0 4M1045 1102l1 4M1012 1147l0 0M1140 1099l-1 6M1010 1095l-5 6M1092 1196l-5 3M1148 1185l1 8M1142 1133l-2 4M1150 1137l0 2M1069 1139l1 5M1063 1141l1 2M1166 1135l5 2M1111 1182l0 4M1097 1210l-8 3M1034 1113l-4 1M1119 1130l-2 1M1178 1196l1 9M1046 1117l-1 1M1029 1141l-4 2M1100 1178l0 0M1039 1180l-5 2M1011 1170l0 1M1124 1203l0 0M1040 1196l4 0M998 1110l-3 2M1104 1217l0 0M1055 1195l0 0M1193 1206l0 0" stroke-width="8.8"/><path d="M1192 1132l-8 4M1018 1192l-5 1M1131 1150l-1 1M1131 1106l-1 0M1066 1158l5 3M1127 1164l1 3M1182 1094l5 8M1084 1100l6 7" stroke-width="10.8"/><path d="M1046 1147l0 2M1132 1145l1 1M1135 1103l6 6M1089 1196l-2 3M1110 1203l3 6M1079 1157l-9 2M1147 1130l3 1M1063 1134l6 0M1115 1175l1 6M1124 1126l-1 2" stroke-width="13.2"/></g></g></g>
<text transform="translate(401.2,580.93) scale(0.93,1)" font-size="9.8" text-anchor="end" font-weight="normal" font-style="normal" fill="#1a1a1a" >VSV + DMF</text>
<path d="M514 401 l7 5 M516 406 l4 -6 M513 404 l9 0 M517 399 l0 8" stroke="#5a3a98" stroke-width="0.9" fill="none"/>
<path d="M410 476 q3 -3 6 0 q-1 3 -6 2z" fill="#4a2a88"/>
<path d="M493 465 q-5 7 0 15" stroke="#7050b0" stroke-width="1.8" fill="none"/>
<circle cx="583" cy="464" r="3.5" fill="#fff" stroke="#8a6ac0" stroke-width="1.1"/>
<circle cx="518" cy="526" r="4.2" fill="#fff" stroke="#7a5ab8" stroke-width="1.4"/>
<rect x="579.2" y="596.6" width="8.9" height="2.9" fill="#000" stroke="none" stroke-width="0.6" />
<text x="0.9" y="620.2" font-size="13.5" font-weight="bold" fill="#000" stroke="#000" stroke-width="0.55">h</text>
<line x1="37.2" y1="658.9" x2="37.2" y2="808.5" stroke="#4d4d4d" stroke-width="0.8" />
<line x1="33.2" y1="808" x2="37.2" y2="808" stroke="#4d4d4d" stroke-width="0.8" />
<text x="29.6" y="810.9" font-size="8.3" text-anchor="end" font-weight="normal" font-style="normal" fill="#1a1a1a" >0</text>
<line x1="33.2" y1="740.6" x2="37.2" y2="740.6" stroke="#4d4d4d" stroke-width="0.8" />
<text x="29.6" y="743.5" font-size="8.3" text-anchor="end" font-weight="normal" font-style="normal" fill="#1a1a1a" >50</text>
<line x1="33.2" y1="673.2" x2="37.2" y2="673.2" stroke="#4d4d4d" stroke-width="0.8" />
<text x="29.6" y="676.11" font-size="8.3" text-anchor="end" font-weight="normal" font-style="normal" fill="#1a1a1a" >100</text>
<line x1="35" y1="791.15" x2="37.2" y2="791.15" stroke="#4d4d4d" stroke-width="0.8" />
<line x1="35" y1="774.3" x2="37.2" y2="774.3" stroke="#4d4d4d" stroke-width="0.8" />
<line x1="35" y1="757.45" x2="37.2" y2="757.45" stroke="#4d4d4d" stroke-width="0.8" />
<line x1="35" y1="723.75" x2="37.2" y2="723.75" stroke="#4d4d4d" stroke-width="0.8" />
<line x1="35" y1="706.9" x2="37.2" y2="706.9" stroke="#4d4d4d" stroke-width="0.8" />
<line x1="35" y1="690.05" x2="37.2" y2="690.05" stroke="#4d4d4d" stroke-width="0.8" />
<line x1="37.2" y1="808" x2="260.9" y2="808" stroke="#4d4d4d" stroke-width="0.8" />
<line x1="37.2" y1="808" x2="37.2" y2="811.6" stroke="#4d4d4d" stroke-width="0.8" />
<text x="37.2" y="822.5" font-size="8.3" text-anchor="middle" font-weight="normal" font-style="normal" fill="#1a1a1a" >0</text>
<line x1="81.94" y1="808" x2="81.94" y2="811.6" stroke="#4d4d4d" stroke-width="0.8" />
<text x="81.94" y="822.5" font-size="8.3" text-anchor="middle" font-weight="normal" font-style="normal" fill="#1a1a1a" >2</text>
<line x1="126.68" y1="808" x2="126.68" y2="811.6" stroke="#4d4d4d" stroke-width="0.8" />
<text x="126.68" y="822.5" font-size="8.3" text-anchor="middle" font-weight="normal" font-style="normal" fill="#1a1a1a" >4</text>
<line x1="171.42" y1="808" x2="171.42" y2="811.6" stroke="#4d4d4d" stroke-width="0.8" />
<text x="171.42" y="822.5" font-size="8.3" text-anchor="middle" font-weight="normal" font-style="normal" fill="#1a1a1a" >6</text>
<line x1="216.16" y1="808" x2="216.16" y2="811.6" stroke="#4d4d4d" stroke-width="0.8" />
<text x="216.16" y="822.5" font-size="8.3" text-anchor="middle" font-weight="normal" font-style="normal" fill="#1a1a1a" >8</text>
<line x1="260.9" y1="808" x2="260.9" y2="811.6" stroke="#4d4d4d" stroke-width="0.8" />
<text x="260.9" y="822.5" font-size="8.3" text-anchor="middle" font-weight="normal" font-style="normal" fill="#1a1a1a" >10</text>
<text x="149" y="836.75" font-size="9.3" text-anchor="middle" font-weight="normal" font-style="normal" fill="#1a1a1a" >Days</text>
<text transform="translate(5,734) rotate(-90)" x="0" y="3.67" font-size="10.5" text-anchor="middle" font-weight="normal" font-style="normal" fill="#1a1a1a" >Probability of survival</text>
<polyline points="37.2,673.2 81.94,673.2 81.94,718.09 104.31,718.09 104.31,748.15 126.68,748.15 126.68,808" stroke="#a3a3a3" stroke-width="1.5" fill="none" stroke-linejoin="miter"/>
<polyline points="37.2,673.2 81.94,673.2 81.94,684.39 126.68,684.39 126.68,706.9 149.05,706.9 149.05,729.41 171.42,729.41 171.42,740.6 216.16,740.6" stroke="#a8dca0" stroke-width="1.6" fill="none" stroke-linejoin="miter"/>
<line x1="216.16" y1="737.4" x2="216.16" y2="741.1" stroke="#a8dca0" stroke-width="1.4" />
<polyline points="37.2,673.2 104.31,673.2 104.31,686.68 126.68,686.68 126.68,700.16 149.05,700.16 149.05,713.64 216.16,713.64" stroke="#1f8a28" stroke-width="2.0" fill="none" stroke-linejoin="miter"/>
<line x1="216.16" y1="710.44" x2="216.16" y2="714.14" stroke="#1f8a28" stroke-width="1.4" />
<polyline points="37.2,673.2 81.94,673.2 81.94,688.16 104.31,688.16 104.31,718.09 126.68,718.09 126.68,733.05 149.05,733.05 149.05,748.15 171.42,748.15 171.42,763.11 193.79,763.11 193.79,778.07 216.16,778.07" stroke="#000" stroke-width="2.0" fill="none" stroke-linejoin="miter"/>
<line x1="216.16" y1="774.87" x2="216.16" y2="778.57" stroke="#000" stroke-width="1.4" />
<line x1="110.5" y1="622" x2="129.3" y2="622" stroke="#000" stroke-width="2.0" />
<line x1="120.3" y1="618.4" x2="120.3" y2="622" stroke="#000" stroke-width="1.2" />
<text x="133.4" y="624.99" font-size="9.4" text-anchor="start" font-weight="normal" font-style="normal" fill="#1a1a1a" >VSV-<tspan font-style="italic">ASS1</tspan><tspan font-style="italic" dy="-3.2" font-size="6.4">+/+</tspan></text>
<line x1="110.5" y1="637" x2="129.3" y2="637" stroke="#a3a3a3" stroke-width="1.5" />
<line x1="120.3" y1="633.4" x2="120.3" y2="637" stroke="#a3a3a3" stroke-width="1.2" />
<text x="133.4" y="639.99" font-size="9.4" text-anchor="start" font-weight="normal" font-style="normal" fill="#1a1a1a" >VSV-<tspan font-style="italic">ASS1</tspan><tspan font-style="italic" dy="-3.2" font-size="6.4">−/−</tspan></text>
<line x1="110.5" y1="652.9" x2="129.3" y2="652.9" stroke="#1f8a28" stroke-width="2.0" />
<line x1="120.3" y1="649.3" x2="120.3" y2="652.9" stroke="#1f8a28" stroke-width="1.2" />
<text x="133.4" y="655.89" font-size="9.4" text-anchor="start" font-weight="normal" font-style="normal" fill="#1a1a1a" >VSV, DMF-<tspan font-style="italic">ASS1</tspan><tspan font-style="italic" dy="-3.2" font-size="6.4">+/+</tspan></text>
<line x1="110.5" y1="667.4" x2="129.3" y2="667.4" stroke="#a8dca0" stroke-width="1.6" />
<line x1="120.3" y1="663.8" x2="120.3" y2="667.4" stroke="#a8dca0" stroke-width="1.2" />
<text x="133.4" y="670.39" font-size="9.4" text-anchor="start" font-weight="normal" font-style="normal" fill="#1a1a1a" >VSV, DMF-<tspan font-style="italic">ASS1</tspan><tspan font-style="italic" dy="-3.2" font-size="6.4">−/−</tspan></text>
<polyline points="194,621 197.2,621 197.2,637.3 194,637.3" stroke="#333" stroke-width="0.8" fill="none" />
<text x="198.9" y="633.77" font-size="10.2" text-anchor="start" font-weight="normal" font-style="normal" fill="#1a1a1a" ><tspan font-style="italic">P</tspan> = 0.0283</text>
<polyline points="212.5,638.2 216,638.2 216,667.4 212.5,667.4" stroke="#333" stroke-width="0.8" fill="none" />
<text x="218.3" y="655.57" font-size="10.2" text-anchor="start" font-weight="normal" font-style="normal" fill="#1a1a1a" ><tspan font-style="italic">P</tspan> = 0.0005</text>
<polyline points="269.2,621 275.6,621 275.6,652.9 267.8,652.9" stroke="#333" stroke-width="0.8" fill="none" />
<text x="277.9" y="641.43" font-size="10.1" text-anchor="start" font-weight="normal" font-style="normal" fill="#1a1a1a" ><tspan font-style="italic">P</tspan> = 0.0472</text>
<text x="348.9" y="621" font-size="13.5" font-weight="bold" fill="#000" stroke="#000" stroke-width="0.55">i</text>
<defs>
<marker id="ak" viewBox="0 0 10 10" refX="8" refY="5" markerWidth="4.2" markerHeight="4.2" orient="auto" markerUnits="userSpaceOnUse"><path d="M0 0L10 5L0 10z" fill="#1a1a1a"/></marker>
<marker id="ak2" viewBox="0 0 10 10" refX="8" refY="5" markerWidth="5.5" markerHeight="5.5" orient="auto" markerUnits="userSpaceOnUse"><path d="M0 0L10 5L0 10z" fill="#1a1a1a"/></marker>
<marker id="ag" viewBox="0 0 10 10" refX="8" refY="5" markerWidth="4" markerHeight="4" orient="auto" markerUnits="userSpaceOnUse"><path d="M0 0L10 5L0 10z" fill="#8a8a8a"/></marker>
<marker id="ag2" viewBox="0 0 10 10" refX="5" refY="5" markerWidth="3.6" markerHeight="3.6" orient="auto" markerUnits="userSpaceOnUse"><path d="M0 0L10 5L0 10z" fill="#8a8a8a"/></marker>
<marker id="ar" viewBox="0 0 10 10" refX="8" refY="5" markerWidth="4.5" markerHeight="4.5" orient="auto" markerUnits="userSpaceOnUse"><path d="M0 0L10 5L0 10z" fill="#c8474b"/></marker>
<radialGradient id="glow" cx="0.5" cy="0.5" r="0.5"><stop offset="0.74" stop-color="#b5e0a3"/><stop offset="1" stop-color="#c8e8bb" stop-opacity="0"/></radialGradient>
<clipPath id="icl"><rect x="370" y="600" width="247" height="217"/></clipPath>
</defs>
<path d="M370 622 C420 621 470 632 520 659 C560 680 595 715 617 760 L617 817 L370 817 Z" fill="#f1f8ef"/>
<line x1="370.1" y1="628" x2="370.1" y2="774" stroke="#9a9a9a" stroke-width="1" stroke-dasharray="3.4 3"/>
<line x1="429.6" y1="816.8" x2="609" y2="816.8" stroke="#9a9a9a" stroke-width="1" stroke-dasharray="3.4 3"/>
<path d="M376 740 C374 722 392 708 418 706 C448 704 480 718 505 740 C522 755 534 772 529 788 C524 804 500 814 478 809 C452 803 425 788 400 771 C386 761 377 751 376 740 Z" fill="#d4e8cc" stroke="#c8dfbf" stroke-width="0.8"/>
<path d="M376 740 C374 722 392 708 418 706 C448 704 480 718 505 740 C522 755 534 772 529 788 C524 804 500 814 478 809 C452 803 425 788 400 771 C386 761 377 751 376 740 Z" transform="translate(453 759) scale(0.9 0.84) translate(-453 -759)" fill="#e7f2e3"/>
<line x1="398" y1="716" x2="402" y2="732" stroke="#d4e8cc" stroke-width="4.6" stroke-linecap="round"/>
<line x1="413" y1="711" x2="415" y2="738" stroke="#d4e8cc" stroke-width="4.6" stroke-linecap="round"/>
<line x1="431" y1="710" x2="431" y2="728" stroke="#d4e8cc" stroke-width="4.6" stroke-linecap="round"/>
<line x1="449" y1="712" x2="447" y2="730" stroke="#d4e8cc" stroke-width="4.6" stroke-linecap="round"/>
<line x1="468" y1="719" x2="463" y2="735" stroke="#d4e8cc" stroke-width="4.6" stroke-linecap="round"/>
<line x1="487" y1="729" x2="480" y2="744" stroke="#d4e8cc" stroke-width="4.6" stroke-linecap="round"/>
<line x1="502" y1="741" x2="494" y2="752" stroke="#d4e8cc" stroke-width="4.6" stroke-linecap="round"/>
<line x1="388" y1="752" x2="398" y2="742" stroke="#d4e8cc" stroke-width="4.6" stroke-linecap="round"/>
<line x1="404" y1="767" x2="409" y2="748" stroke="#d4e8cc" stroke-width="4.6" stroke-linecap="round"/>
<line x1="422" y1="780" x2="425" y2="756" stroke="#d4e8cc" stroke-width="4.6" stroke-linecap="round"/>
<line x1="440" y1="790" x2="442" y2="768" stroke="#d4e8cc" stroke-width="4.6" stroke-linecap="round"/>
<line x1="459" y1="799" x2="459" y2="781" stroke="#d4e8cc" stroke-width="4.6" stroke-linecap="round"/>
<line x1="477" y1="805" x2="476" y2="790" stroke="#d4e8cc" stroke-width="4.6" stroke-linecap="round"/>
<line x1="496" y1="806" x2="492" y2="795" stroke="#d4e8cc" stroke-width="4.6" stroke-linecap="round"/>
<line x1="513" y1="799" x2="507" y2="788" stroke="#d4e8cc" stroke-width="4.6" stroke-linecap="round"/>
<circle cx="385" cy="816" r="42" fill="url(#glow)"/>
<path d="M419.9 815.5 L420.6 818.6 L419.8 821.6 L417.8 824.2 L415.8 826.6 L414.6 829.2 L414.1 832.1 L413.2 835.0 L411.3 837.3 L408.5 838.7 L405.5 839.6 L403.0 840.8 L401.1 842.9 L399.3 845.5 L397.0 847.7 L394.1 848.5 L391.1 848.3 L388.1 847.9 L385.3 848.2 L382.3 849.3 L379.2 850.1 L376.1 849.7 L373.6 847.8 L371.5 845.2 L369.4 843.1 L366.9 841.8 L364.0 840.9 L361.4 839.4 L359.7 837.0 L358.9 834.0 L358.3 831.1 L356.9 828.7 L354.7 826.6 L352.3 824.3 L351.0 821.6 L351.1 818.5 L352.0 815.5 L352.7 812.7 L352.6 809.7 L352.1 806.6 L352.3 803.5 L353.8 800.8 L356.5 798.9 L359.2 797.3 L361.3 795.4 L362.6 792.8 L364.0 790.1 L366.0 787.9 L368.7 786.8 L371.8 786.5 L374.5 785.9 L377.0 784.5 L379.5 782.3 L382.2 780.6 L385.3 780.3 L388.3 781.4 L391.0 783.0 L393.7 784.0 L396.7 784.2 L399.8 784.4 L402.6 785.5 L404.7 787.8 L406.0 790.8 L407.3 793.5 L409.2 795.4 L411.8 796.9 L414.4 798.7 L416.0 801.2 L416.4 804.2 L416.4 807.2 L416.9 809.9 L418.3 812.6 L419.9 815.5Z" fill="#88ca74" stroke="#2f8a35" stroke-width="0.9" stroke-linejoin="round"/>
<path d="M351.2 797 C355 791.5 365 792 366 800 C367 808 361 813.5 352.5 812.5 Z" fill="#c9e8bd" stroke="none"/>
<path d="M351.2 797 C355 791.5 365 792 366 800 C367 808 361 813.5 352.5 812.5" fill="none" stroke="#2f8a35" stroke-width="0.9"/>
<circle cx="390.8" cy="815.6" r="15.6" fill="#5fa653"/>
<ellipse cx="381.7" cy="793" rx="10.5" ry="6.3" transform="rotate(-12 381.7 793)" fill="#fafafa" stroke="#2f8a35" stroke-width="0.8"/>
<ellipse cx="370.2" cy="826.5" rx="5.2" ry="9.3" transform="rotate(-18 370.2 826.5)" fill="#fafafa" stroke="#2f8a35" stroke-width="0.8"/>
<circle cx="376" cy="794" r="1.9" fill="#f2a9b3"/>
<circle cx="379.5" cy="790.5" r="1.6" fill="#a98bd3"/>
<circle cx="383" cy="792" r="2.2" fill="#a98bd3"/>
<circle cx="386.5" cy="795" r="1.8" fill="#f2a9b3"/>
<circle cx="381" cy="796.5" r="1.6" fill="#f2a9b3"/>
<circle cx="388" cy="790.5" r="1.5" fill="#f2a9b3"/>
<circle cx="386" cy="797" r="1.4" fill="#a98bd3"/>
<circle cx="369" cy="821" r="1.6" fill="#f2a9b3"/>
<circle cx="371.5" cy="824" r="1.7" fill="#a98bd3"/>
<circle cx="369" cy="828" r="1.9" fill="#a98bd3"/>
<circle cx="372" cy="830.5" r="1.6" fill="#f2a9b3"/>
<circle cx="370" cy="833" r="1.4" fill="#f2a9b3"/>
<rect x="363" y="832" width="0.9" height="4" fill="#555"/>
<line x1="360.2" y1="805.9" x2="362.4" y2="805.9" stroke="#eea0a0" stroke-width="0.8"/>
<line x1="359.5" y1="807.8" x2="361.2" y2="809.2" stroke="#eea0a0" stroke-width="0.8"/>
<line x1="357.7" y1="808.9" x2="358.1" y2="811.0" stroke="#eea0a0" stroke-width="0.8"/>
<line x1="355.7" y1="808.5" x2="354.6" y2="810.4" stroke="#eea0a0" stroke-width="0.8"/>
<line x1="354.4" y1="806.9" x2="352.3" y2="807.7" stroke="#eea0a0" stroke-width="0.8"/>
<line x1="354.4" y1="804.9" x2="352.3" y2="804.1" stroke="#eea0a0" stroke-width="0.8"/>
<line x1="355.7" y1="803.3" x2="354.6" y2="801.4" stroke="#eea0a0" stroke-width="0.8"/>
<line x1="357.7" y1="802.9" x2="358.1" y2="800.8" stroke="#eea0a0" stroke-width="0.8"/>
<line x1="359.5" y1="804.0" x2="361.2" y2="802.6" stroke="#eea0a0" stroke-width="0.8"/>
<circle cx="357.2" cy="805.9" r="3.8" fill="#f2a3a3"/>
<circle cx="349.7" cy="797.8" r="2.3" fill="#f4b6b9"/>
<circle cx="349.5" cy="806" r="2.1" fill="#a98bd3"/>
<circle cx="349.9" cy="811.7" r="2.6" fill="#a98bd3"/>
<circle cx="364.3" cy="809.2" r="1.3" fill="#a98bd3"/>
<polyline points="355.6,781.2 351.9,790.2 357.5,803.3" stroke="#1a1a1a" stroke-width="0.7" fill="none" />
<text x="351.2" y="777.4" font-size="10" text-anchor="middle" font-weight="normal" font-style="normal" fill="#1a1a1a" >Virus</text>
<text x="450.8" y="659.74" font-size="10.1" text-anchor="middle" font-weight="normal" font-style="normal" fill="#1a1a1a" >Arginino-</text>
<text x="450.7" y="671.13" font-size="10.1" text-anchor="middle" font-weight="normal" font-style="normal" fill="#1a1a1a" >succinate</text>
<text x="418.8" y="687.17" font-size="9.9" text-anchor="middle" font-weight="normal" font-style="normal" fill="#1a1a1a" >Urea</text>
<text x="419.4" y="698.63" font-size="10.1" text-anchor="middle" font-weight="normal" font-style="normal" fill="#1a1a1a" >cycle</text>
<text x="399.6" y="671.03" font-size="9.8" text-anchor="middle" font-weight="normal" font-style="normal" fill="#8f8f8f" >Arg</text>
<text x="389" y="698" font-size="9.7" text-anchor="middle" font-weight="normal" font-style="normal" fill="#8f8f8f" >Orn</text>
<text x="403.9" y="719.6" font-size="9.7" text-anchor="middle" font-weight="normal" font-style="normal" fill="#8f8f8f" >Orn</text>
<text x="433.1" y="721.1" font-size="9.7" text-anchor="middle" font-weight="normal" font-style="normal" fill="#8f8f8f" >Cit</text>
<rect x="437.7" y="679.3" width="34" height="13.4" rx="3" fill="#3c9e45"/>
<text x="454.8" y="689.5" font-size="10" text-anchor="middle" font-weight="normal" font-style="normal" fill="#fff" >ASS1</text>
<text x="455.8" y="704.13" font-size="9.8" text-anchor="middle" font-weight="normal" font-style="normal" fill="#1a1a1a" >Cit Asp</text>
<text x="503.1" y="678.07" font-size="9.9" text-anchor="middle" font-weight="normal" font-style="normal" fill="#1a1a1a" >Fumarate</text>
<text x="507.8" y="713.23" font-size="9.8" text-anchor="middle" font-weight="normal" font-style="normal" fill="#1a1a1a" >Mal</text>
<text x="460.7" y="751.29" font-size="9.7" text-anchor="middle" font-weight="normal" font-style="normal" fill="#1a1a1a" >OAA</text>
<text x="502.3" y="748.53" font-size="9.8" text-anchor="middle" font-weight="normal" font-style="normal" fill="#1a1a1a" >Mal</text>
<text x="486.2" y="760.06" font-size="9.6" text-anchor="middle" font-weight="normal" font-style="normal" fill="#1a1a1a" >TCA</text>
<text x="486.2" y="772.03" font-size="10.1" text-anchor="middle" font-weight="normal" font-style="normal" fill="#1a1a1a" >cycle</text>
<text x="503.4" y="783.03" font-size="9.8" text-anchor="middle" font-weight="normal" font-style="normal" fill="#8f8f8f" >Fumarate</text>
<text transform="translate(482.3,713) rotate(-46)" x="0" y="3.64" font-size="10.4" text-anchor="middle" font-weight="bold" font-style="normal" fill="#3c8846" >AAS shunt</text>
<text x="574" y="741.86" font-size="9.6" text-anchor="middle" font-weight="normal" font-style="normal" fill="#1a1a1a" >RLR</text>
<text x="573.8" y="753.77" font-size="10.2" text-anchor="middle" font-weight="normal" font-style="normal" fill="#1a1a1a" >signalling</text>
<text x="575" y="764.53" font-size="10.1" text-anchor="middle" font-weight="normal" font-style="normal" fill="#1a1a1a" >pathway</text>
<text x="584.2" y="794.39" font-size="9.7" text-anchor="middle" font-weight="normal" font-style="normal" fill="#1a1a1a" >IFNβ</text>
<path d="M428.5 662.5 Q418 656.5 408.2 664.8" stroke="#8a8a8a" stroke-width="0.9" fill="none" marker-end="url(#ag)"/>
<path d="M395.5 673.5 Q392 680 390.6 689.2" stroke="#8a8a8a" stroke-width="0.9" fill="none" marker-end="url(#ag)"/>
<path d="M391.5 700 Q393.5 707 400.5 711.8" stroke="#8a8a8a" stroke-width="0.9" fill="none" marker-end="url(#ag)"/>
<path d="M415 719.6 L426.5 719.6" stroke="#8a8a8a" stroke-width="0.9" fill="none" marker-end="url(#ag)"/>
<path d="M438.4 712.2 L445.6 704.8" stroke="#8a8a8a" stroke-width="0.9" fill="none" marker-end="url(#ag)"/>
<path d="M446 679 L442.2 672.4" stroke="#1a1a1a" stroke-width="1.0" fill="none" marker-end="url(#ak)"/>
<line x1="449.3" y1="692.7" x2="449.3" y2="695.8" stroke="#1a1a1a" stroke-width="0.9" />
<line x1="458.6" y1="692.7" x2="458.6" y2="695.8" stroke="#1a1a1a" stroke-width="0.9" />
<path d="M464.8 679 L468.8 672.4" stroke="#1a1a1a" stroke-width="1.0" fill="none" marker-end="url(#ak)"/>
<path d="M472.5 664.5 Q489 649 504.5 669.6" stroke="#1a1a1a" stroke-width="1.1" fill="none" marker-end="url(#ak)"/>
<path d="M509.6 690.8 L509.4 705.4" stroke="#1a1a1a" stroke-width="1.1" fill="none" marker-end="url(#ak)"/>
<path d="M509.8 715 Q512.5 728 503.8 739.6" stroke="#1a1a1a" stroke-width="1.1" fill="none" marker-end="url(#ak)"/>
<path d="M492.8 738.3 Q478 734 466.5 742.2" stroke="#1a1a1a" stroke-width="1.3" fill="none" marker-end="url(#ak)"/>
<path d="M457.8 742.6 Q451.5 724 457.4 705.6" stroke="#1a1a1a" stroke-width="1.4" fill="none" marker-end="url(#ak)"/>
<path d="M456.6 752.5 Q454 775 466 786 Q480 795 498 789" stroke="#8a8a8a" stroke-width="0.9" fill="none" marker-end="url(#ag)"/>
<path d="M456 762 l-2 -1.6 l0 3.2z" transform="rotate(95 456 762)" fill="#8a8a8a"/>
<path d="M458.5 776 l-2 -1.6 l0 3.2z" transform="rotate(70 458.5 776)" fill="#8a8a8a"/>
<path d="M467 786.5 l-2 -1.6 l0 3.2z" transform="rotate(35 467 786.5)" fill="#8a8a8a"/>
<path d="M481 791.5 l-2 -1.6 l0 3.2z" transform="rotate(5 481 791.5)" fill="#8a8a8a"/>
<path d="M510.8 772.8 Q513.5 760 506.6 751.8" stroke="#8a8a8a" stroke-width="0.9" fill="none" marker-end="url(#ag)"/>
<circle cx="486" cy="684.5" r="1.25" fill="#e56a78"/>
<circle cx="489" cy="681.7" r="1.25" fill="#e56a78"/>
<circle cx="492" cy="686.3" r="1.25" fill="#e56a78"/>
<circle cx="495.5" cy="683" r="1.25" fill="#e56a78"/>
<circle cx="498.5" cy="685.5" r="1.25" fill="#e56a78"/>
<circle cx="501.5" cy="681.5" r="1.25" fill="#e56a78"/>
<circle cx="504.5" cy="685" r="1.25" fill="#e56a78"/>
<circle cx="507.5" cy="682.3" r="1.25" fill="#e56a78"/>
<circle cx="511" cy="685.3" r="1.25" fill="#e56a78"/>
<circle cx="514.3" cy="682" r="1.25" fill="#e56a78"/>
<path d="M529.5 682.5 L529.5 670.5" stroke="#c8474b" stroke-width="1.3" fill="none" marker-end="url(#ar)"/>
<path d="M520.2 685.9 C529 683.2 542 688 547.6 700.6 L553.3 703.4 L550.6 718.4 L540 707.4 L542.8 705.2 C538 695.5 530 688.6 520.2 686.7 Z" fill="#c9484c"/>
<circle cx="556.5" cy="726.5" r="8" fill="#c9484c"/>
<text x="556.5" y="728.69" font-size="5.4" text-anchor="middle" font-weight="normal" font-style="normal" fill="#fff" >SUC</text>
<path d="M550.1 732.9 L551.2 733.8 L551.6 734.7 L551.4 735.8 L550.8 736.8 L550.3 737.7 L550.1 738.5 L550.0 739.2 L549.5 740.0 L548.5 741.0 L547.0 741.9 L545.5 742.9 L544.0 743.9 L542.6 745.0 L540.9 746.3 L538.0 748.2 L535.0 750.1 L533.1 751.1 L531.6 751.9 L530.1 752.9 L528.6 753.9 L527.1 754.9 L525.8 755.4 L524.9 755.5 L524.2 755.3 L523.4 755.2 L522.4 755.3 L521.2 755.4 L520.1 755.2 L519.5 754.5 L519.1 753.1 L518.9 751.6 L518.6 750.6 L518.0 749.8 L517.4 749.0 L517.3 747.9 L517.8 746.7 L518.7 745.4 L519.6 744.2 L520.2 742.9 L520.6 741.7 L521.3 740.3 L522.5 738.9 L524.2 737.6 L526.3 736.4 L529.1 734.6 L531.9 732.7 L533.9 731.3 L535.8 730.3 L537.5 729.7 L539.1 729.7 L540.4 729.8 L541.8 729.7 L543.3 729.4 L544.8 729.1 L546.1 729.2 L547.0 729.7 L547.6 730.6 L548.1 731.5 L548.9 732.1Z" fill="#2f7a3c"/>
<line x1="549" y1="733" x2="551.5" y2="731" stroke="#8a9a5a" stroke-width="0.6" />
<text transform="translate(534.4,743.2) rotate(-33)" x="0" y="3.01" font-size="8.6" text-anchor="middle" font-weight="normal" font-style="normal" fill="#fff" >MAVS</text>
<path d="M537.5 752.7 L551.6 752.7" stroke="#1a1a1a" stroke-width="1.3" fill="none" marker-end="url(#ak2)"/>
<path d="M571.7 768.3 L571.7 785.5" stroke="#1a1a1a" stroke-width="1.3" fill="none" marker-end="url(#ak2)"/>
<path d="M550.2 799.5 L550.2 792.3 L570.4 792.3" stroke="#1a1a1a" stroke-width="1.2" fill="none" marker-end="url(#ak2)"/>
<polyline points="537.9,803.3 538.4,803.9 538.9,804.49 539.4,805.05 539.9,805.58 540.4,806.06 540.9,806.5 541.4,806.86 541.9,807.16 542.4,807.39 542.9,807.53 543.4,807.6 543.9,807.58 544.4,807.47 544.9,807.29 545.4,807.02 545.9,806.69 546.4,806.29 546.9,805.83 547.4,805.32 547.9,804.77 548.4,804.19 548.9,803.6 549.4,803 549.9,802.41 550.4,801.83 550.9,801.28 551.4,800.77 551.9,800.31 552.4,799.91 552.9,799.58 553.4,799.31 553.9,799.13 554.4,799.02 554.9,799 555.4,799.07 555.9,799.21 556.4,799.44 556.9,799.74 557.4,800.1 557.9,800.54 558.4,801.02 558.9,801.55 559.4,802.11 559.9,802.7 560.4,803.3 560.9,803.9 561.4,804.49 561.9,805.05 562.4,805.58 562.9,806.06 563.4,806.5 563.9,806.86 564.4,807.16 564.9,807.39 565.4,807.53 565.9,807.6 566.4,807.58 566.9,807.47 567.4,807.29 567.9,807.02 568.4,806.69 568.9,806.29 569.4,805.83 569.9,805.32 570.4,804.77 570.9,804.19 571.4,803.6 571.9,803 572.4,802.41 572.9,801.83 573.4,801.28 573.9,800.77 574.4,800.31 574.9,799.91 575.4,799.58 575.9,799.31 576.4,799.13 576.9,799.02 577.4,799 577.9,799.07 578.4,799.21 578.9,799.44 579.4,799.74 579.9,800.1 580.4,800.54 580.9,801.02 581.4,801.55 581.9,802.11 582.4,802.7 582.9,803.3 583.4,803.9 583.9,804.49 584.4,805.05 584.9,805.58 585.4,806.06 585.9,806.5 586.4,806.86 586.9,807.16 587.4,807.39 587.9,807.53 588.4,807.6 588.9,807.58 589.4,807.47 589.9,807.29 590.4,807.02 590.9,806.69 591.4,806.29 591.9,805.83 592.4,805.32 592.9,804.77 593.4,804.19 593.9,803.6 594.4,803 594.9,802.41 595.4,801.83 595.9,801.28 596.4,800.77 596.9,800.31 597.4,799.91 597.9,799.58" stroke="#5a5a5a" stroke-width="1.6" fill="none" />
<polyline points="537.9,803.3 538.4,802.7 538.9,802.11 539.4,801.55 539.9,801.02 540.4,800.54 540.9,800.1 541.4,799.74 541.9,799.44 542.4,799.21 542.9,799.07 543.4,799 543.9,799.02 544.4,799.13 544.9,799.31 545.4,799.58 545.9,799.91 546.4,800.31 546.9,800.77 547.4,801.28 547.9,801.83 548.4,802.41 548.9,803 549.4,803.6 549.9,804.19 550.4,804.77 550.9,805.32 551.4,805.83 551.9,806.29 552.4,806.69 552.9,807.02 553.4,807.29 553.9,807.47 554.4,807.58 554.9,807.6 555.4,807.53 555.9,807.39 556.4,807.16 556.9,806.86 557.4,806.5 557.9,806.06 558.4,805.58 558.9,805.05 559.4,804.49 559.9,803.9 560.4,803.3 560.9,802.7 561.4,802.11 561.9,801.55 562.4,801.02 562.9,800.54 563.4,800.1 563.9,799.74 564.4,799.44 564.9,799.21 565.4,799.07 565.9,799 566.4,799.02 566.9,799.13 567.4,799.31 567.9,799.58 568.4,799.91 568.9,800.31 569.4,800.77 569.9,801.28 570.4,801.83 570.9,802.41 571.4,803 571.9,803.6 572.4,804.19 572.9,804.77 573.4,805.32 573.9,805.83 574.4,806.29 574.9,806.69 575.4,807.02 575.9,807.29 576.4,807.47 576.9,807.58 577.4,807.6 577.9,807.53 578.4,807.39 578.9,807.16 579.4,806.86 579.9,806.5 580.4,806.06 580.9,805.58 581.4,805.05 581.9,804.49 582.4,803.9 582.9,803.3 583.4,802.7 583.9,802.11 584.4,801.55 584.9,801.02 585.4,800.54 585.9,800.1 586.4,799.74 586.9,799.44 587.4,799.21 587.9,799.07 588.4,799 588.9,799.02 589.4,799.13 589.9,799.31 590.4,799.58 590.9,799.91 591.4,800.31 591.9,800.77 592.4,801.28 592.9,801.83 593.4,802.41 593.9,803 594.4,803.6 594.9,804.19 595.4,804.77 595.9,805.32 596.4,805.83 596.9,806.29 597.4,806.69 597.9,807.02" stroke="#6e6e6e" stroke-width="1.6" fill="none" />
</svg></body></html>
